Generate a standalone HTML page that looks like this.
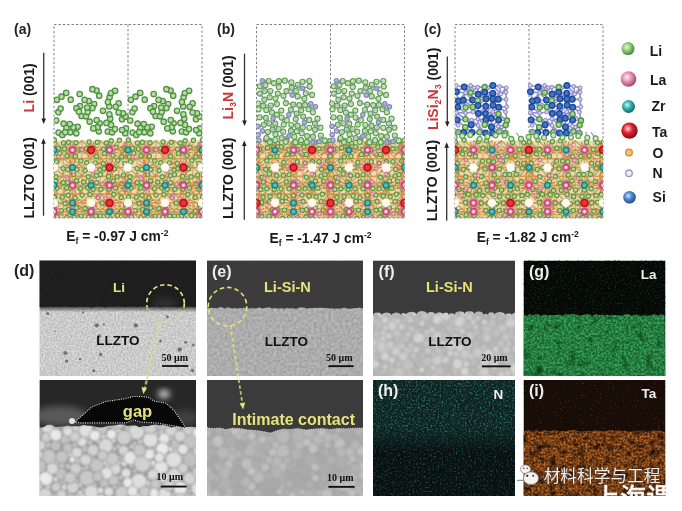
<!DOCTYPE html>
<html><head><meta charset="utf-8"><title>Figure</title>
<style>html,body{margin:0;padding:0;background:#fff;}body{width:682px;height:511px;overflow:hidden;}svg{display:block;}</style>
</head><body>
<svg width="682" height="511" viewBox="0 0 682 511">
<defs>
 <radialGradient id="gLi" cx="40%" cy="38%" r="65%"><stop offset="0" stop-color="#e4f7d8"/><stop offset="0.45" stop-color="#8fcf78"/><stop offset="1" stop-color="#3f7f35"/></radialGradient>
 <radialGradient id="gLa" cx="40%" cy="38%" r="65%"><stop offset="0" stop-color="#fff0f6"/><stop offset="0.45" stop-color="#e891b2"/><stop offset="1" stop-color="#9a4564"/></radialGradient>
 <radialGradient id="gZr" cx="40%" cy="38%" r="65%"><stop offset="0" stop-color="#c8fbfb"/><stop offset="0.45" stop-color="#35b3b0"/><stop offset="1" stop-color="#16605e"/></radialGradient>
 <radialGradient id="gTa" cx="40%" cy="38%" r="65%"><stop offset="0" stop-color="#ffd0d4"/><stop offset="0.45" stop-color="#e0202e"/><stop offset="1" stop-color="#7a0d15"/></radialGradient>
 <radialGradient id="gO" cx="40%" cy="38%" r="65%"><stop offset="0" stop-color="#ffe8b8"/><stop offset="0.5" stop-color="#e8a448"/><stop offset="1" stop-color="#9a6420"/></radialGradient>
 <radialGradient id="gN" cx="40%" cy="38%" r="65%"><stop offset="0" stop-color="#ffffff"/><stop offset="0.5" stop-color="#c4c0e0"/><stop offset="1" stop-color="#7a76a0"/></radialGradient>
 <radialGradient id="gSi" cx="40%" cy="38%" r="65%"><stop offset="0" stop-color="#d0e4ff"/><stop offset="0.45" stop-color="#4f86cc"/><stop offset="1" stop-color="#1f4a85"/></radialGradient>
</defs>

<text x="14" y="34" font-size="14" font-weight="bold" fill="#222" font-family="Liberation Sans, Arial, sans-serif">(a)</text>
<text x="217" y="34" font-size="14" font-weight="bold" fill="#222" font-family="Liberation Sans, Arial, sans-serif">(b)</text>
<text x="424" y="34" font-size="14" font-weight="bold" fill="#222" font-family="Liberation Sans, Arial, sans-serif">(c)</text>
<rect x="54" y="24.5" width="148" height="193" fill="none" stroke="#808080" stroke-width="1" stroke-dasharray="2.4 2"/>
<line x1="128" y1="24.5" x2="128" y2="217.5" stroke="#808080" stroke-width="1" stroke-dasharray="2.4 2"/>
<rect x="256.5" y="24.5" width="148" height="193" fill="none" stroke="#808080" stroke-width="1" stroke-dasharray="2.4 2"/>
<line x1="330.5" y1="24.5" x2="330.5" y2="217.5" stroke="#808080" stroke-width="1" stroke-dasharray="2.4 2"/>
<rect x="455" y="24.5" width="148" height="193" fill="none" stroke="#808080" stroke-width="1" stroke-dasharray="2.4 2"/>
<line x1="529" y1="24.5" x2="529" y2="217.5" stroke="#808080" stroke-width="1" stroke-dasharray="2.4 2"/>
<line x1="43.7" y1="52.7" x2="43.7" y2="120" stroke="#333" stroke-width="1.3"/>
<path d="M41.400000000000006,118.5 L46.0,118.5 L43.7,124 Z" fill="#222"/>
<line x1="43.5" y1="215.7" x2="43.5" y2="142.3" stroke="#333" stroke-width="1.3"/>
<path d="M41.2,143.8 L45.8,143.8 L43.5,138.3 Z" fill="#222"/>
<line x1="244.5" y1="53.7" x2="244.5" y2="122" stroke="#333" stroke-width="1.3"/>
<path d="M242.2,120.5 L246.8,120.5 L244.5,126 Z" fill="#222"/>
<line x1="244.3" y1="219.7" x2="244.3" y2="144.6" stroke="#333" stroke-width="1.3"/>
<path d="M242.0,146.1 L246.60000000000002,146.1 L244.3,140.6 Z" fill="#222"/>
<line x1="447.3" y1="56.6" x2="447.3" y2="122.9" stroke="#333" stroke-width="1.3"/>
<path d="M445.0,121.4 L449.6,121.4 L447.3,126.9 Z" fill="#222"/>
<line x1="446.7" y1="220.7" x2="446.7" y2="146.2" stroke="#333" stroke-width="1.3"/>
<path d="M444.4,147.7 L449.0,147.7 L446.7,142.2 Z" fill="#222"/>
<text transform="translate(34,87.9) rotate(-90)" text-anchor="middle" font-size="14" font-weight="bold" fill="#1a1a1a" font-family="Liberation Sans, Arial, sans-serif"><tspan fill="#c9383a">Li</tspan> (001)</text>
<text transform="translate(34,177.9) rotate(-90)" text-anchor="middle" font-size="14" font-weight="bold" fill="#1a1a1a" font-family="Liberation Sans, Arial, sans-serif">LLZTO (001)</text>
<text transform="translate(233,87.4) rotate(-90)" text-anchor="middle" font-size="14" font-weight="bold" fill="#1a1a1a" font-family="Liberation Sans, Arial, sans-serif"><tspan fill="#c9383a">Li<tspan font-size="9" dy="3">3</tspan><tspan dy="-3">N</tspan></tspan> (001)</text>
<text transform="translate(233,178.2) rotate(-90)" text-anchor="middle" font-size="14" font-weight="bold" fill="#1a1a1a" font-family="Liberation Sans, Arial, sans-serif">LLZTO (001)</text>
<text transform="translate(437.5,88.9) rotate(-90)" text-anchor="middle" font-size="14" font-weight="bold" fill="#1a1a1a" font-family="Liberation Sans, Arial, sans-serif"><tspan fill="#c9383a">LiSi<tspan font-size="9" dy="3">2</tspan><tspan dy="-3">N</tspan><tspan font-size="9" dy="3">3</tspan></tspan><tspan dy="-3"> (001)</tspan></text>
<text transform="translate(437,180.6) rotate(-90)" text-anchor="middle" font-size="14" font-weight="bold" fill="#1a1a1a" font-family="Liberation Sans, Arial, sans-serif">LLZTO (001)</text>
<text x="66.3" y="241" font-size="13.8" font-weight="bold" fill="#1a1a1a" font-family="Liberation Sans, Arial, sans-serif">E<tspan font-size="8.5" dy="3.2">f</tspan><tspan dy="-3.2"> = -0.97 J cm</tspan><tspan font-size="8.5" dy="-5.2">-2</tspan></text>
<text x="269.5" y="243.1" font-size="13.8" font-weight="bold" fill="#1a1a1a" font-family="Liberation Sans, Arial, sans-serif">E<tspan font-size="8.5" dy="3.2">f</tspan><tspan dy="-3.2"> = -1.47 J cm</tspan><tspan font-size="8.5" dy="-5.2">-2</tspan></text>
<text x="476.7" y="241.7" font-size="13.8" font-weight="bold" fill="#1a1a1a" font-family="Liberation Sans, Arial, sans-serif">E<tspan font-size="8.5" dy="3.2">f</tspan><tspan dy="-3.2"> = -1.82 J cm</tspan><tspan font-size="8.5" dy="-5.2">-2</tspan></text>
<filter id="soft" x="-5%" y="-5%" width="110%" height="110%"><feGaussianBlur stdDeviation="0.55"/></filter>
<defs>
<g id="cell0"><rect x="0" y="0" width="74" height="77" fill="#efd9b4"/>
<path d="M0,9.5H74M0,27.0H74M0,44.8H74M0,62.4H74M0,71.2H74M0,18.2H74M0,35.9H74M0,53.6H74" stroke="#d98f4e" stroke-width="1.6" fill="none" opacity="0.9"/>
<path d="M0.0,0V77M9.2,0V77M18.5,0V77M27.8,0V77M37.0,0V77M46.2,0V77M55.5,0V77M64.8,0V77M74.0,0V77" stroke="#dca062" stroke-width="1.4" fill="none" opacity="0.8"/>
<path d="M0.0,9.5L7.9,12.7M0.0,9.5L3.3,17.3M0.0,9.5L-3.2,17.4M0.0,9.5L-7.8,12.8M0.0,9.5L-7.9,6.3M0.0,9.5L-3.3,1.7M0.0,9.5L3.2,1.6M0.0,9.5L7.8,6.2M74.0,9.5L81.9,12.7M74.0,9.5L77.3,17.3M74.0,9.5L70.8,17.4M74.0,9.5L66.2,12.8M74.0,9.5L66.1,6.3M74.0,9.5L70.7,1.7M74.0,9.5L77.2,1.6M74.0,9.5L81.8,6.2M18.5,9.5L26.4,12.7M18.5,9.5L21.8,17.3M18.5,9.5L15.3,17.4M18.5,9.5L10.7,12.8M18.5,9.5L10.6,6.3M18.5,9.5L15.2,1.7M18.5,9.5L21.7,1.6M18.5,9.5L26.3,6.2M37.0,9.5L44.9,12.7M37.0,9.5L40.3,17.3M37.0,9.5L33.8,17.4M37.0,9.5L29.2,12.8M37.0,9.5L29.1,6.3M37.0,9.5L33.7,1.7M37.0,9.5L40.2,1.6M37.0,9.5L44.8,6.2M55.5,9.5L63.4,12.7M55.5,9.5L58.8,17.3M55.5,9.5L52.3,17.4M55.5,9.5L47.7,12.8M55.5,9.5L47.6,6.3M55.5,9.5L52.2,1.7M55.5,9.5L58.7,1.6M55.5,9.5L63.3,6.2M18.5,27.0L26.4,30.2M18.5,27.0L21.8,34.8M18.5,27.0L15.3,34.9M18.5,27.0L10.7,30.3M18.5,27.0L10.6,23.8M18.5,27.0L15.2,19.2M18.5,27.0L21.7,19.1M18.5,27.0L26.3,23.7M55.5,27.0L63.4,30.2M55.5,27.0L58.8,34.8M55.5,27.0L52.3,34.9M55.5,27.0L47.7,30.3M55.5,27.0L47.6,23.8M55.5,27.0L52.2,19.2M55.5,27.0L58.7,19.1M55.5,27.0L63.3,23.7M0.0,44.8L7.9,48.0M0.0,44.8L3.3,52.6M0.0,44.8L-3.2,52.7M0.0,44.8L-7.8,48.1M0.0,44.8L-7.9,41.6M0.0,44.8L-3.3,37.0M0.0,44.8L3.2,36.9M0.0,44.8L7.8,41.5M74.0,44.8L81.9,48.0M74.0,44.8L77.3,52.6M74.0,44.8L70.8,52.7M74.0,44.8L66.2,48.1M74.0,44.8L66.1,41.6M74.0,44.8L70.7,37.0M74.0,44.8L77.2,36.9M74.0,44.8L81.8,41.5M18.5,44.8L26.4,48.0M18.5,44.8L21.8,52.6M18.5,44.8L15.3,52.7M18.5,44.8L10.7,48.1M18.5,44.8L10.6,41.6M18.5,44.8L15.2,37.0M18.5,44.8L21.7,36.9M18.5,44.8L26.3,41.5M37.0,44.8L44.9,48.0M37.0,44.8L40.3,52.6M37.0,44.8L33.8,52.7M37.0,44.8L29.2,48.1M37.0,44.8L29.1,41.6M37.0,44.8L33.7,37.0M37.0,44.8L40.2,36.9M37.0,44.8L44.8,41.5M55.5,44.8L63.4,48.0M55.5,44.8L58.8,52.6M55.5,44.8L52.3,52.7M55.5,44.8L47.7,48.1M55.5,44.8L47.6,41.6M55.5,44.8L52.2,37.0M55.5,44.8L58.7,36.9M55.5,44.8L63.3,41.5M18.5,62.4L26.4,65.6M18.5,62.4L21.8,70.2M18.5,62.4L15.3,70.3M18.5,62.4L10.7,65.7M18.5,62.4L10.6,59.2M18.5,62.4L15.2,54.6M18.5,62.4L21.7,54.5M18.5,62.4L26.3,59.1M55.5,62.4L63.4,65.6M55.5,62.4L58.8,70.2M55.5,62.4L52.3,70.3M55.5,62.4L47.7,65.7M55.5,62.4L47.6,59.2M55.5,62.4L52.2,54.6M55.5,62.4L58.7,54.5M55.5,62.4L63.3,59.1M0.0,71.2L7.9,74.4M0.0,71.2L3.3,79.0M0.0,71.2L-3.2,79.1M0.0,71.2L-7.8,74.5M0.0,71.2L-7.9,68.0M0.0,71.2L-3.3,63.4M0.0,71.2L3.2,63.3M0.0,71.2L7.8,67.9M74.0,71.2L81.9,74.4M74.0,71.2L77.3,79.0M74.0,71.2L70.8,79.1M74.0,71.2L66.2,74.5M74.0,71.2L66.1,68.0M74.0,71.2L70.7,63.4M74.0,71.2L77.2,63.3M74.0,71.2L81.8,67.9M18.5,71.2L26.4,74.4M18.5,71.2L21.8,79.0M18.5,71.2L15.3,79.1M18.5,71.2L10.7,74.5M18.5,71.2L10.6,68.0M18.5,71.2L15.2,63.4M18.5,71.2L21.7,63.3M18.5,71.2L26.3,67.9M37.0,71.2L44.9,74.4M37.0,71.2L40.3,79.0M37.0,71.2L33.8,79.1M37.0,71.2L29.2,74.5M37.0,71.2L29.1,68.0M37.0,71.2L33.7,63.4M37.0,71.2L40.2,63.3M37.0,71.2L44.8,67.9M55.5,71.2L63.4,74.4M55.5,71.2L58.8,79.0M55.5,71.2L52.3,79.1M55.5,71.2L47.7,74.5M55.5,71.2L47.6,68.0M55.5,71.2L52.2,63.4M55.5,71.2L58.7,63.3M55.5,71.2L63.3,67.9" stroke="#cf7b3a" stroke-width="1.4" fill="none" opacity="0.9"/>
<path d="M18.5,9.5L24.5,9.5M18.5,9.5L22.7,13.7M18.5,9.5L18.5,15.5M18.5,9.5L14.3,13.7M18.5,9.5L12.5,9.5M18.5,9.5L14.3,5.3M18.5,9.5L18.5,3.5M18.5,9.5L22.7,5.3M37.0,9.5L43.0,9.5M37.0,9.5L41.2,13.7M37.0,9.5L37.0,15.5M37.0,9.5L32.8,13.7M37.0,9.5L31.0,9.5M37.0,9.5L32.8,5.3M37.0,9.5L37.0,3.5M37.0,9.5L41.2,5.3M55.5,9.5L61.5,9.5M55.5,9.5L59.7,13.7M55.5,9.5L55.5,15.5M55.5,9.5L51.3,13.7M55.5,9.5L49.5,9.5M55.5,9.5L51.3,5.3M55.5,9.5L55.5,3.5M55.5,9.5L59.7,5.3M55.5,27.0L61.5,27.0M55.5,27.0L59.7,31.2M55.5,27.0L55.5,33.0M55.5,27.0L51.3,31.2M55.5,27.0L49.5,27.0M55.5,27.0L51.3,22.8M55.5,27.0L55.5,21.0M55.5,27.0L59.7,22.8M18.5,44.8L24.5,44.8M18.5,44.8L22.7,49.0M18.5,44.8L18.5,50.8M18.5,44.8L14.3,49.0M18.5,44.8L12.5,44.8M18.5,44.8L14.3,40.6M18.5,44.8L18.5,38.8M18.5,44.8L22.7,40.6M55.5,44.8L61.5,44.8M55.5,44.8L59.7,49.0M55.5,44.8L55.5,50.8M55.5,44.8L51.3,49.0M55.5,44.8L49.5,44.8M55.5,44.8L51.3,40.6M55.5,44.8L55.5,38.8M55.5,44.8L59.7,40.6M55.5,62.4L61.5,62.4M55.5,62.4L59.7,66.6M55.5,62.4L55.5,68.4M55.5,62.4L51.3,66.6M55.5,62.4L49.5,62.4M55.5,62.4L51.3,58.2M55.5,62.4L55.5,56.4M55.5,62.4L59.7,58.2M0.0,71.2L6.0,71.2M0.0,71.2L4.2,75.4M0.0,71.2L0.0,77.2M0.0,71.2L-4.2,75.4M0.0,71.2L-6.0,71.2M0.0,71.2L-4.2,67.0M0.0,71.2L-0.0,65.2M0.0,71.2L4.2,67.0M74.0,71.2L80.0,71.2M74.0,71.2L78.2,75.4M74.0,71.2L74.0,77.2M74.0,71.2L69.8,75.4M74.0,71.2L68.0,71.2M74.0,71.2L69.8,67.0M74.0,71.2L74.0,65.2M74.0,71.2L78.2,67.0M37.0,71.2L43.0,71.2M37.0,71.2L41.2,75.4M37.0,71.2L37.0,77.2M37.0,71.2L32.8,75.4M37.0,71.2L31.0,71.2M37.0,71.2L32.8,67.0M37.0,71.2L37.0,65.2M37.0,71.2L41.2,67.0" stroke="#e07c98" stroke-width="1.6" fill="none" opacity="0.8"/>
<path d="M0.0,0.0L9.2,8.8M9.2,8.8L0.0,17.6M9.2,17.6L0.0,26.4M0.0,26.4L9.2,35.2M9.2,35.2L0.0,44.0M9.2,44.0L0.0,52.8M0.0,52.8L9.2,61.6M9.2,61.6L0.0,70.4M9.2,70.4L0.0,79.2M18.5,0.0L9.2,8.8M9.2,8.8L18.5,17.6M9.2,17.6L18.5,26.4M9.2,26.4L18.5,35.2M18.5,35.2L9.2,44.0M18.5,44.0L9.2,52.8M9.2,52.8L18.5,61.6M18.5,61.6L9.2,70.4M18.5,70.4L9.2,79.2M27.8,0.0L18.5,8.8M27.8,8.8L18.5,17.6M18.5,17.6L27.8,26.4M18.5,26.4L27.8,35.2M27.8,35.2L18.5,44.0M18.5,44.0L27.8,52.8M18.5,52.8L27.8,61.6M18.5,61.6L27.8,70.4M18.5,70.4L27.8,79.2M27.8,0.0L37.0,8.8M27.8,8.8L37.0,17.6M37.0,17.6L27.8,26.4M37.0,26.4L27.8,35.2M37.0,35.2L27.8,44.0M27.8,44.0L37.0,52.8M37.0,52.8L27.8,61.6M27.8,61.6L37.0,70.4M27.8,70.4L37.0,79.2M46.2,0.0L37.0,8.8M46.2,8.8L37.0,17.6M46.2,17.6L37.0,26.4M46.2,26.4L37.0,35.2M37.0,35.2L46.2,44.0M37.0,44.0L46.2,52.8M37.0,52.8L46.2,61.6M37.0,61.6L46.2,70.4M46.2,70.4L37.0,79.2M46.2,0.0L55.5,8.8M55.5,8.8L46.2,17.6M46.2,17.6L55.5,26.4M55.5,26.4L46.2,35.2M55.5,35.2L46.2,44.0M46.2,44.0L55.5,52.8M46.2,52.8L55.5,61.6M55.5,61.6L46.2,70.4M46.2,70.4L55.5,79.2M64.8,0.0L55.5,8.8M55.5,8.8L64.8,17.6M55.5,17.6L64.8,26.4M64.8,26.4L55.5,35.2M64.8,35.2L55.5,44.0M55.5,44.0L64.8,52.8M55.5,52.8L64.8,61.6M55.5,61.6L64.8,70.4M64.8,70.4L55.5,79.2M74.0,0.0L64.8,8.8M64.8,8.8L74.0,17.6M64.8,17.6L74.0,26.4M64.8,26.4L74.0,35.2M64.8,35.2L74.0,44.0M74.0,44.0L64.8,52.8M64.8,52.8L74.0,61.6M74.0,61.6L64.8,70.4M64.8,70.4L74.0,79.2" stroke="#9aa042" stroke-width="1.3" fill="none" opacity="0.75"/>
<circle cx="14.7" cy="55.4" r="1.3" fill="#e2873a"/>
<circle cx="10.4" cy="49.0" r="1.3" fill="#e2873a"/>
<circle cx="9.4" cy="32.7" r="1.3" fill="#e2873a"/>
<circle cx="16.3" cy="21.7" r="1.3" fill="#e2873a"/>
<circle cx="70.9" cy="60.6" r="1.3" fill="#e2873a"/>
<circle cx="22.9" cy="66.6" r="1.3" fill="#e2873a"/>
<circle cx="16.2" cy="30.8" r="1.3" fill="#e2873a"/>
<circle cx="62.5" cy="48.9" r="1.3" fill="#e2873a"/>
<circle cx="8.2" cy="74.2" r="1.3" fill="#e2873a"/>
<circle cx="16.4" cy="20.9" r="1.3" fill="#e2873a"/>
<circle cx="56.6" cy="26.0" r="1.3" fill="#e2873a"/>
<circle cx="22.3" cy="7.4" r="1.3" fill="#e2873a"/>
<circle cx="7.5" cy="44.5" r="1.3" fill="#e2873a"/>
<circle cx="18.5" cy="45.9" r="1.3" fill="#e2873a"/>
<circle cx="27.8" cy="35.1" r="1.3" fill="#e2873a"/>
<circle cx="70.1" cy="37.3" r="1.3" fill="#e2873a"/>
<circle cx="42.4" cy="65.3" r="1.3" fill="#e2873a"/>
<circle cx="14.2" cy="13.3" r="1.3" fill="#e2873a"/>
<circle cx="66.4" cy="61.7" r="1.3" fill="#e2873a"/>
<circle cx="19.0" cy="15.9" r="1.3" fill="#e2873a"/>
<circle cx="54.2" cy="70.6" r="1.3" fill="#e2873a"/>
<circle cx="15.2" cy="71.4" r="1.3" fill="#e2873a"/>
<circle cx="64.5" cy="46.1" r="1.3" fill="#e2873a"/>
<circle cx="31.3" cy="9.6" r="1.3" fill="#e2873a"/>
<circle cx="3.8" cy="72.3" r="1.3" fill="#e2873a"/>
<circle cx="18.2" cy="53.4" r="1.3" fill="#e2873a"/>
<circle cx="19.5" cy="62.1" r="1.3" fill="#e2873a"/>
<circle cx="43.9" cy="23.4" r="1.3" fill="#e2873a"/>
<circle cx="13.6" cy="54.6" r="1.3" fill="#e2873a"/>
<circle cx="6.0" cy="18.7" r="1.3" fill="#e2873a"/>
<circle cx="41.3" cy="64.2" r="1.3" fill="#e2873a"/>
<circle cx="45.2" cy="22.5" r="1.3" fill="#e2873a"/>
<circle cx="67.0" cy="16.9" r="1.3" fill="#e2873a"/>
<circle cx="2.2" cy="21.7" r="1.3" fill="#e2873a"/>
<circle cx="33.1" cy="6.4" r="1.3" fill="#e2873a"/>
<circle cx="13.7" cy="28.9" r="1.3" fill="#e2873a"/>
<circle cx="42.2" cy="11.6" r="1.3" fill="#e2873a"/>
<circle cx="27.1" cy="67.0" r="1.3" fill="#e2873a"/>
<circle cx="71.6" cy="50.0" r="1.3" fill="#e2873a"/>
<circle cx="50.8" cy="44.7" r="1.3" fill="#e2873a"/>
<circle cx="11.1" cy="4.6" r="1.3" fill="#e2873a"/>
<circle cx="2.3" cy="68.4" r="1.3" fill="#e2873a"/>
<circle cx="51.5" cy="72.3" r="1.3" fill="#e2873a"/>
<circle cx="2.5" cy="48.4" r="1.3" fill="#e2873a"/>
<circle cx="35.7" cy="55.3" r="1.3" fill="#e2873a"/>
<circle cx="24.0" cy="75.0" r="1.3" fill="#e2873a"/>
<circle cx="6.4" cy="41.9" r="1.3" fill="#e2873a"/>
<circle cx="54.1" cy="67.7" r="1.3" fill="#e2873a"/>
<circle cx="54.1" cy="53.4" r="1.3" fill="#e2873a"/>
<circle cx="58.1" cy="68.8" r="1.3" fill="#e2873a"/>
<circle cx="26.3" cy="52.0" r="1.3" fill="#e2873a"/>
<circle cx="65.9" cy="65.6" r="1.3" fill="#e2873a"/>
<circle cx="31.0" cy="59.7" r="1.3" fill="#e2873a"/>
<circle cx="63.2" cy="43.8" r="1.3" fill="#e2873a"/>
<circle cx="46.0" cy="29.9" r="1.3" fill="#e2873a"/>
<circle cx="0.4" cy="-0.5" r="2.15" fill="#bcd89c" stroke="#62963f" stroke-width="1.15"/>
<circle cx="9.4" cy="2.4" r="2.15" fill="#bcd89c" stroke="#62963f" stroke-width="1.15"/>
<circle cx="14.4" cy="1.8" r="2.15" fill="#bcd89c" stroke="#62963f" stroke-width="1.15"/>
<circle cx="22.0" cy="2.2" r="2.15" fill="#bcd89c" stroke="#62963f" stroke-width="1.15"/>
<circle cx="35.1" cy="1.4" r="2.15" fill="#bcd89c" stroke="#62963f" stroke-width="1.15"/>
<circle cx="43.3" cy="1.7" r="2.15" fill="#bcd89c" stroke="#62963f" stroke-width="1.15"/>
<circle cx="52.3" cy="2.5" r="2.15" fill="#bcd89c" stroke="#62963f" stroke-width="1.15"/>
<circle cx="57.2" cy="0.3" r="2.15" fill="#bcd89c" stroke="#62963f" stroke-width="1.15"/>
<circle cx="65.4" cy="-0.2" r="2.15" fill="#bcd89c" stroke="#62963f" stroke-width="1.15"/>
<circle cx="4.3" cy="7.6" r="2.15" fill="#bcd89c" stroke="#62963f" stroke-width="1.15"/>
<circle cx="10.4" cy="8.4" r="2.15" fill="#bcd89c" stroke="#62963f" stroke-width="1.15"/>
<circle cx="27.1" cy="9.3" r="2.15" fill="#bcd89c" stroke="#62963f" stroke-width="1.15"/>
<circle cx="32.8" cy="8.1" r="2.15" fill="#bcd89c" stroke="#62963f" stroke-width="1.15"/>
<circle cx="39.2" cy="7.8" r="2.15" fill="#bcd89c" stroke="#62963f" stroke-width="1.15"/>
<circle cx="49.5" cy="8.6" r="2.15" fill="#bcd89c" stroke="#62963f" stroke-width="1.15"/>
<circle cx="54.6" cy="6.6" r="2.15" fill="#bcd89c" stroke="#62963f" stroke-width="1.15"/>
<circle cx="62.0" cy="6.8" r="2.15" fill="#bcd89c" stroke="#62963f" stroke-width="1.15"/>
<circle cx="70.8" cy="7.8" r="2.15" fill="#bcd89c" stroke="#62963f" stroke-width="1.15"/>
<circle cx="1.4" cy="16.4" r="2.15" fill="#bcd89c" stroke="#62963f" stroke-width="1.15"/>
<circle cx="5.7" cy="12.9" r="2.15" fill="#bcd89c" stroke="#62963f" stroke-width="1.15"/>
<circle cx="13.0" cy="15.4" r="2.15" fill="#bcd89c" stroke="#62963f" stroke-width="1.15"/>
<circle cx="21.4" cy="15.7" r="2.15" fill="#bcd89c" stroke="#62963f" stroke-width="1.15"/>
<circle cx="42.5" cy="15.8" r="2.15" fill="#bcd89c" stroke="#62963f" stroke-width="1.15"/>
<circle cx="50.4" cy="13.0" r="2.15" fill="#bcd89c" stroke="#62963f" stroke-width="1.15"/>
<circle cx="59.0" cy="15.1" r="2.15" fill="#bcd89c" stroke="#62963f" stroke-width="1.15"/>
<circle cx="67.8" cy="16.3" r="2.15" fill="#bcd89c" stroke="#62963f" stroke-width="1.15"/>
<circle cx="2.5" cy="21.4" r="2.15" fill="#bcd89c" stroke="#62963f" stroke-width="1.15"/>
<circle cx="26.8" cy="20.3" r="2.15" fill="#bcd89c" stroke="#62963f" stroke-width="1.15"/>
<circle cx="32.7" cy="22.2" r="2.15" fill="#bcd89c" stroke="#62963f" stroke-width="1.15"/>
<circle cx="41.2" cy="22.4" r="2.15" fill="#bcd89c" stroke="#62963f" stroke-width="1.15"/>
<circle cx="49.3" cy="22.9" r="2.15" fill="#bcd89c" stroke="#62963f" stroke-width="1.15"/>
<circle cx="63.8" cy="20.1" r="2.15" fill="#bcd89c" stroke="#62963f" stroke-width="1.15"/>
<circle cx="70.8" cy="22.9" r="2.15" fill="#bcd89c" stroke="#62963f" stroke-width="1.15"/>
<circle cx="0.3" cy="29.6" r="2.15" fill="#bcd89c" stroke="#62963f" stroke-width="1.15"/>
<circle cx="9.2" cy="28.1" r="2.15" fill="#bcd89c" stroke="#62963f" stroke-width="1.15"/>
<circle cx="13.6" cy="29.1" r="2.15" fill="#bcd89c" stroke="#62963f" stroke-width="1.15"/>
<circle cx="22.8" cy="29.0" r="2.15" fill="#bcd89c" stroke="#62963f" stroke-width="1.15"/>
<circle cx="31.2" cy="30.0" r="2.15" fill="#bcd89c" stroke="#62963f" stroke-width="1.15"/>
<circle cx="37.1" cy="29.3" r="2.15" fill="#bcd89c" stroke="#62963f" stroke-width="1.15"/>
<circle cx="46.0" cy="29.5" r="2.15" fill="#bcd89c" stroke="#62963f" stroke-width="1.15"/>
<circle cx="50.1" cy="28.0" r="2.15" fill="#bcd89c" stroke="#62963f" stroke-width="1.15"/>
<circle cx="60.3" cy="28.2" r="2.15" fill="#bcd89c" stroke="#62963f" stroke-width="1.15"/>
<circle cx="2.0" cy="36.2" r="2.15" fill="#bcd89c" stroke="#62963f" stroke-width="1.15"/>
<circle cx="19.7" cy="33.8" r="2.15" fill="#bcd89c" stroke="#62963f" stroke-width="1.15"/>
<circle cx="34.2" cy="36.3" r="2.15" fill="#bcd89c" stroke="#62963f" stroke-width="1.15"/>
<circle cx="42.5" cy="35.0" r="2.15" fill="#bcd89c" stroke="#62963f" stroke-width="1.15"/>
<circle cx="46.4" cy="34.1" r="2.15" fill="#bcd89c" stroke="#62963f" stroke-width="1.15"/>
<circle cx="54.7" cy="35.9" r="2.15" fill="#bcd89c" stroke="#62963f" stroke-width="1.15"/>
<circle cx="63.0" cy="36.3" r="2.15" fill="#bcd89c" stroke="#62963f" stroke-width="1.15"/>
<circle cx="69.5" cy="34.6" r="2.15" fill="#bcd89c" stroke="#62963f" stroke-width="1.15"/>
<circle cx="1.6" cy="40.8" r="2.15" fill="#bcd89c" stroke="#62963f" stroke-width="1.15"/>
<circle cx="9.3" cy="42.0" r="2.15" fill="#bcd89c" stroke="#62963f" stroke-width="1.15"/>
<circle cx="13.6" cy="42.0" r="2.15" fill="#bcd89c" stroke="#62963f" stroke-width="1.15"/>
<circle cx="22.6" cy="40.2" r="2.15" fill="#bcd89c" stroke="#62963f" stroke-width="1.15"/>
<circle cx="29.7" cy="41.5" r="2.15" fill="#bcd89c" stroke="#62963f" stroke-width="1.15"/>
<circle cx="37.3" cy="41.9" r="2.15" fill="#bcd89c" stroke="#62963f" stroke-width="1.15"/>
<circle cx="42.7" cy="42.0" r="2.15" fill="#bcd89c" stroke="#62963f" stroke-width="1.15"/>
<circle cx="53.6" cy="43.4" r="2.15" fill="#bcd89c" stroke="#62963f" stroke-width="1.15"/>
<circle cx="59.1" cy="40.5" r="2.15" fill="#bcd89c" stroke="#62963f" stroke-width="1.15"/>
<circle cx="67.9" cy="43.3" r="2.15" fill="#bcd89c" stroke="#62963f" stroke-width="1.15"/>
<circle cx="3.0" cy="47.6" r="2.15" fill="#bcd89c" stroke="#62963f" stroke-width="1.15"/>
<circle cx="12.8" cy="47.4" r="2.15" fill="#bcd89c" stroke="#62963f" stroke-width="1.15"/>
<circle cx="16.6" cy="47.6" r="2.15" fill="#bcd89c" stroke="#62963f" stroke-width="1.15"/>
<circle cx="26.6" cy="48.1" r="2.15" fill="#bcd89c" stroke="#62963f" stroke-width="1.15"/>
<circle cx="33.8" cy="47.3" r="2.15" fill="#bcd89c" stroke="#62963f" stroke-width="1.15"/>
<circle cx="39.2" cy="48.7" r="2.15" fill="#bcd89c" stroke="#62963f" stroke-width="1.15"/>
<circle cx="46.9" cy="48.8" r="2.15" fill="#bcd89c" stroke="#62963f" stroke-width="1.15"/>
<circle cx="55.0" cy="48.4" r="2.15" fill="#bcd89c" stroke="#62963f" stroke-width="1.15"/>
<circle cx="61.5" cy="47.6" r="2.15" fill="#bcd89c" stroke="#62963f" stroke-width="1.15"/>
<circle cx="70.9" cy="48.8" r="2.15" fill="#bcd89c" stroke="#62963f" stroke-width="1.15"/>
<circle cx="0.4" cy="56.8" r="2.15" fill="#bcd89c" stroke="#62963f" stroke-width="1.15"/>
<circle cx="8.4" cy="56.6" r="2.15" fill="#bcd89c" stroke="#62963f" stroke-width="1.15"/>
<circle cx="14.1" cy="54.8" r="2.15" fill="#bcd89c" stroke="#62963f" stroke-width="1.15"/>
<circle cx="21.1" cy="57.3" r="2.15" fill="#bcd89c" stroke="#62963f" stroke-width="1.15"/>
<circle cx="28.1" cy="54.6" r="2.15" fill="#bcd89c" stroke="#62963f" stroke-width="1.15"/>
<circle cx="36.0" cy="54.1" r="2.15" fill="#bcd89c" stroke="#62963f" stroke-width="1.15"/>
<circle cx="44.1" cy="56.6" r="2.15" fill="#bcd89c" stroke="#62963f" stroke-width="1.15"/>
<circle cx="59.9" cy="53.8" r="2.15" fill="#bcd89c" stroke="#62963f" stroke-width="1.15"/>
<circle cx="67.3" cy="57.0" r="2.15" fill="#bcd89c" stroke="#62963f" stroke-width="1.15"/>
<circle cx="2.2" cy="62.3" r="2.15" fill="#bcd89c" stroke="#62963f" stroke-width="1.15"/>
<circle cx="11.1" cy="63.0" r="2.15" fill="#bcd89c" stroke="#62963f" stroke-width="1.15"/>
<circle cx="48.2" cy="62.6" r="2.15" fill="#bcd89c" stroke="#62963f" stroke-width="1.15"/>
<circle cx="71.7" cy="64.1" r="2.15" fill="#bcd89c" stroke="#62963f" stroke-width="1.15"/>
<circle cx="-1.6" cy="67.6" r="2.15" fill="#bcd89c" stroke="#62963f" stroke-width="1.15"/>
<circle cx="7.2" cy="70.1" r="2.15" fill="#bcd89c" stroke="#62963f" stroke-width="1.15"/>
<circle cx="14.7" cy="69.2" r="2.15" fill="#bcd89c" stroke="#62963f" stroke-width="1.15"/>
<circle cx="22.6" cy="67.4" r="2.15" fill="#bcd89c" stroke="#62963f" stroke-width="1.15"/>
<circle cx="31.0" cy="68.0" r="2.15" fill="#bcd89c" stroke="#62963f" stroke-width="1.15"/>
<circle cx="38.0" cy="68.8" r="2.15" fill="#bcd89c" stroke="#62963f" stroke-width="1.15"/>
<circle cx="57.3" cy="70.6" r="2.15" fill="#bcd89c" stroke="#62963f" stroke-width="1.15"/>
<circle cx="67.4" cy="70.4" r="2.15" fill="#bcd89c" stroke="#62963f" stroke-width="1.15"/>
<circle cx="3.3" cy="76.3" r="2.15" fill="#bcd89c" stroke="#62963f" stroke-width="1.15"/>
<circle cx="13.0" cy="77.1" r="2.15" fill="#bcd89c" stroke="#62963f" stroke-width="1.15"/>
<circle cx="20.1" cy="76.8" r="2.15" fill="#bcd89c" stroke="#62963f" stroke-width="1.15"/>
<circle cx="27.2" cy="75.6" r="2.15" fill="#bcd89c" stroke="#62963f" stroke-width="1.15"/>
<circle cx="34.8" cy="76.7" r="2.15" fill="#bcd89c" stroke="#62963f" stroke-width="1.15"/>
<circle cx="41.8" cy="75.6" r="2.15" fill="#bcd89c" stroke="#62963f" stroke-width="1.15"/>
<circle cx="46.4" cy="75.4" r="2.15" fill="#bcd89c" stroke="#62963f" stroke-width="1.15"/>
<circle cx="53.5" cy="75.4" r="2.15" fill="#bcd89c" stroke="#62963f" stroke-width="1.15"/>
<circle cx="63.4" cy="75.0" r="2.15" fill="#bcd89c" stroke="#62963f" stroke-width="1.15"/>
<circle cx="71.0" cy="75.4" r="2.15" fill="#bcd89c" stroke="#62963f" stroke-width="1.15"/>
<circle cx="48.5" cy="43.6" r="1.8" fill="#f0b8c6" stroke="#d06e88" stroke-width="1.0"/>
<circle cx="39.4" cy="30.4" r="1.8" fill="#f0b8c6" stroke="#d06e88" stroke-width="1.0"/>
<circle cx="73.0" cy="48.9" r="1.8" fill="#f0b8c6" stroke="#d06e88" stroke-width="1.0"/>
<circle cx="51.5" cy="57.6" r="1.8" fill="#f0b8c6" stroke="#d06e88" stroke-width="1.0"/>
<circle cx="71.6" cy="3.7" r="1.8" fill="#f0b8c6" stroke="#d06e88" stroke-width="1.0"/>
<circle cx="45.3" cy="55.9" r="1.8" fill="#f0b8c6" stroke="#d06e88" stroke-width="1.0"/>
<circle cx="19.5" cy="31.3" r="1.8" fill="#f0b8c6" stroke="#d06e88" stroke-width="1.0"/>
<circle cx="4.6" cy="16.3" r="1.8" fill="#f0b8c6" stroke="#d06e88" stroke-width="1.0"/>
<circle cx="28.0" cy="9.2" r="1.8" fill="#f0b8c6" stroke="#d06e88" stroke-width="1.0"/>
<circle cx="19.1" cy="68.1" r="1.8" fill="#f0b8c6" stroke="#d06e88" stroke-width="1.0"/>
<circle cx="40.6" cy="39.1" r="1.8" fill="#f0b8c6" stroke="#d06e88" stroke-width="1.0"/>
<circle cx="70.6" cy="43.5" r="1.8" fill="#f0b8c6" stroke="#d06e88" stroke-width="1.0"/>
<circle cx="72.6" cy="48.6" r="1.8" fill="#f0b8c6" stroke="#d06e88" stroke-width="1.0"/>
<circle cx="59.3" cy="7.6" r="1.8" fill="#f0b8c6" stroke="#d06e88" stroke-width="1.0"/>
<circle cx="44.0" cy="57.4" r="1.8" fill="#f0b8c6" stroke="#d06e88" stroke-width="1.0"/>
<circle cx="4.2" cy="69.9" r="1.8" fill="#f0b8c6" stroke="#d06e88" stroke-width="1.0"/>
<circle cx="12.5" cy="36.4" r="1.8" fill="#f0b8c6" stroke="#d06e88" stroke-width="1.0"/>
<circle cx="13.2" cy="38.2" r="1.8" fill="#f0b8c6" stroke="#d06e88" stroke-width="1.0"/>
<circle cx="0.0" cy="9.5" r="2.8" fill="#56bcb4" stroke="#1b857e" stroke-width="1.5"/>
<circle cx="74.0" cy="9.5" r="2.8" fill="#56bcb4" stroke="#1b857e" stroke-width="1.5"/>
<circle cx="18.5" cy="9.5" r="2.9" fill="#f0a2c2" stroke="#c44a7c" stroke-width="1.6"/>
<circle cx="18.5" cy="9.5" r="1.1" fill="#fde8f0"/>
<circle cx="37.0" cy="9.5" r="3.4" fill="#e8363e" stroke="#c41018" stroke-width="1.7"/>
<circle cx="55.5" cy="9.5" r="2.9" fill="#f0a2c2" stroke="#c44a7c" stroke-width="1.6"/>
<circle cx="55.5" cy="9.5" r="1.1" fill="#fde8f0"/>
<circle cx="0.0" cy="27.0" r="4.2" fill="#fffaf2"/>
<circle cx="74.0" cy="27.0" r="4.2" fill="#fffaf2"/>
<circle cx="18.5" cy="27.0" r="2.8" fill="#56bcb4" stroke="#1b857e" stroke-width="1.5"/>
<circle cx="37.0" cy="27.0" r="4.2" fill="#fffaf2"/>
<circle cx="55.5" cy="27.0" r="3.4" fill="#e8363e" stroke="#c41018" stroke-width="1.7"/>
<circle cx="0.0" cy="44.8" r="2.8" fill="#56bcb4" stroke="#1b857e" stroke-width="1.5"/>
<circle cx="74.0" cy="44.8" r="2.8" fill="#56bcb4" stroke="#1b857e" stroke-width="1.5"/>
<circle cx="18.5" cy="44.8" r="2.9" fill="#f0a2c2" stroke="#c44a7c" stroke-width="1.6"/>
<circle cx="18.5" cy="44.8" r="1.1" fill="#fde8f0"/>
<circle cx="37.0" cy="44.8" r="2.8" fill="#56bcb4" stroke="#1b857e" stroke-width="1.5"/>
<circle cx="55.5" cy="44.8" r="2.9" fill="#f0a2c2" stroke="#c44a7c" stroke-width="1.6"/>
<circle cx="55.5" cy="44.8" r="1.1" fill="#fde8f0"/>
<circle cx="0.0" cy="62.4" r="4.2" fill="#fffaf2"/>
<circle cx="74.0" cy="62.4" r="4.2" fill="#fffaf2"/>
<circle cx="18.5" cy="62.4" r="2.8" fill="#56bcb4" stroke="#1b857e" stroke-width="1.5"/>
<circle cx="37.0" cy="62.4" r="4.2" fill="#fffaf2"/>
<circle cx="55.5" cy="62.4" r="3.4" fill="#e8363e" stroke="#c41018" stroke-width="1.7"/>
<circle cx="0.0" cy="71.2" r="2.9" fill="#f0a2c2" stroke="#c44a7c" stroke-width="1.6"/>
<circle cx="0.0" cy="71.2" r="1.1" fill="#fde8f0"/>
<circle cx="74.0" cy="71.2" r="2.9" fill="#f0a2c2" stroke="#c44a7c" stroke-width="1.6"/>
<circle cx="74.0" cy="71.2" r="1.1" fill="#fde8f0"/>
<circle cx="18.5" cy="71.2" r="2.8" fill="#56bcb4" stroke="#1b857e" stroke-width="1.5"/>
<circle cx="37.0" cy="71.2" r="2.9" fill="#f0a2c2" stroke="#c44a7c" stroke-width="1.6"/>
<circle cx="37.0" cy="71.2" r="1.1" fill="#fde8f0"/>
<circle cx="55.5" cy="71.2" r="2.8" fill="#56bcb4" stroke="#1b857e" stroke-width="1.5"/></g>
<g id="cell1"><rect x="0" y="0" width="74" height="77" fill="#efd9b4"/>
<path d="M0,9.5H74M0,27.0H74M0,44.8H74M0,62.4H74M0,71.2H74M0,18.2H74M0,35.9H74M0,53.6H74" stroke="#d98f4e" stroke-width="1.6" fill="none" opacity="0.9"/>
<path d="M0.0,0V77M9.2,0V77M18.5,0V77M27.8,0V77M37.0,0V77M46.2,0V77M55.5,0V77M64.8,0V77M74.0,0V77" stroke="#dca062" stroke-width="1.4" fill="none" opacity="0.8"/>
<path d="M0.0,9.5L7.9,12.7M0.0,9.5L3.3,17.3M0.0,9.5L-3.2,17.4M0.0,9.5L-7.8,12.8M0.0,9.5L-7.9,6.3M0.0,9.5L-3.3,1.7M0.0,9.5L3.2,1.6M0.0,9.5L7.8,6.2M74.0,9.5L81.9,12.7M74.0,9.5L77.3,17.3M74.0,9.5L70.8,17.4M74.0,9.5L66.2,12.8M74.0,9.5L66.1,6.3M74.0,9.5L70.7,1.7M74.0,9.5L77.2,1.6M74.0,9.5L81.8,6.2M18.5,9.5L26.4,12.7M18.5,9.5L21.8,17.3M18.5,9.5L15.3,17.4M18.5,9.5L10.7,12.8M18.5,9.5L10.6,6.3M18.5,9.5L15.2,1.7M18.5,9.5L21.7,1.6M18.5,9.5L26.3,6.2M37.0,9.5L44.9,12.7M37.0,9.5L40.3,17.3M37.0,9.5L33.8,17.4M37.0,9.5L29.2,12.8M37.0,9.5L29.1,6.3M37.0,9.5L33.7,1.7M37.0,9.5L40.2,1.6M37.0,9.5L44.8,6.2M55.5,9.5L63.4,12.7M55.5,9.5L58.8,17.3M55.5,9.5L52.3,17.4M55.5,9.5L47.7,12.8M55.5,9.5L47.6,6.3M55.5,9.5L52.2,1.7M55.5,9.5L58.7,1.6M55.5,9.5L63.3,6.2M0.0,27.0L7.9,30.2M0.0,27.0L3.3,34.8M0.0,27.0L-3.2,34.9M0.0,27.0L-7.8,30.3M0.0,27.0L-7.9,23.8M0.0,27.0L-3.3,19.2M0.0,27.0L3.2,19.1M0.0,27.0L7.8,23.7M74.0,27.0L81.9,30.2M74.0,27.0L77.3,34.8M74.0,27.0L70.8,34.9M74.0,27.0L66.2,30.3M74.0,27.0L66.1,23.8M74.0,27.0L70.7,19.2M74.0,27.0L77.2,19.1M74.0,27.0L81.8,23.7M37.0,27.0L44.9,30.2M37.0,27.0L40.3,34.8M37.0,27.0L33.8,34.9M37.0,27.0L29.2,30.3M37.0,27.0L29.1,23.8M37.0,27.0L33.7,19.2M37.0,27.0L40.2,19.1M37.0,27.0L44.8,23.7M0.0,44.8L7.9,48.0M0.0,44.8L3.3,52.6M0.0,44.8L-3.2,52.7M0.0,44.8L-7.8,48.1M0.0,44.8L-7.9,41.6M0.0,44.8L-3.3,37.0M0.0,44.8L3.2,36.9M0.0,44.8L7.8,41.5M74.0,44.8L81.9,48.0M74.0,44.8L77.3,52.6M74.0,44.8L70.8,52.7M74.0,44.8L66.2,48.1M74.0,44.8L66.1,41.6M74.0,44.8L70.7,37.0M74.0,44.8L77.2,36.9M74.0,44.8L81.8,41.5M18.5,44.8L26.4,48.0M18.5,44.8L21.8,52.6M18.5,44.8L15.3,52.7M18.5,44.8L10.7,48.1M18.5,44.8L10.6,41.6M18.5,44.8L15.2,37.0M18.5,44.8L21.7,36.9M18.5,44.8L26.3,41.5M37.0,44.8L44.9,48.0M37.0,44.8L40.3,52.6M37.0,44.8L33.8,52.7M37.0,44.8L29.2,48.1M37.0,44.8L29.1,41.6M37.0,44.8L33.7,37.0M37.0,44.8L40.2,36.9M37.0,44.8L44.8,41.5M55.5,44.8L63.4,48.0M55.5,44.8L58.8,52.6M55.5,44.8L52.3,52.7M55.5,44.8L47.7,48.1M55.5,44.8L47.6,41.6M55.5,44.8L52.2,37.0M55.5,44.8L58.7,36.9M55.5,44.8L63.3,41.5M0.0,62.4L7.9,65.6M0.0,62.4L3.3,70.2M0.0,62.4L-3.2,70.3M0.0,62.4L-7.8,65.7M0.0,62.4L-7.9,59.2M0.0,62.4L-3.3,54.6M0.0,62.4L3.2,54.5M0.0,62.4L7.8,59.1M74.0,62.4L81.9,65.6M74.0,62.4L77.3,70.2M74.0,62.4L70.8,70.3M74.0,62.4L66.2,65.7M74.0,62.4L66.1,59.2M74.0,62.4L70.7,54.6M74.0,62.4L77.2,54.5M74.0,62.4L81.8,59.1M37.0,62.4L44.9,65.6M37.0,62.4L40.3,70.2M37.0,62.4L33.8,70.3M37.0,62.4L29.2,65.7M37.0,62.4L29.1,59.2M37.0,62.4L33.7,54.6M37.0,62.4L40.2,54.5M37.0,62.4L44.8,59.1M0.0,71.2L7.9,74.4M0.0,71.2L3.3,79.0M0.0,71.2L-3.2,79.1M0.0,71.2L-7.8,74.5M0.0,71.2L-7.9,68.0M0.0,71.2L-3.3,63.4M0.0,71.2L3.2,63.3M0.0,71.2L7.8,67.9M74.0,71.2L81.9,74.4M74.0,71.2L77.3,79.0M74.0,71.2L70.8,79.1M74.0,71.2L66.2,74.5M74.0,71.2L66.1,68.0M74.0,71.2L70.7,63.4M74.0,71.2L77.2,63.3M74.0,71.2L81.8,67.9M18.5,71.2L26.4,74.4M18.5,71.2L21.8,79.0M18.5,71.2L15.3,79.1M18.5,71.2L10.7,74.5M18.5,71.2L10.6,68.0M18.5,71.2L15.2,63.4M18.5,71.2L21.7,63.3M18.5,71.2L26.3,67.9M37.0,71.2L44.9,74.4M37.0,71.2L40.3,79.0M37.0,71.2L33.8,79.1M37.0,71.2L29.2,74.5M37.0,71.2L29.1,68.0M37.0,71.2L33.7,63.4M37.0,71.2L40.2,63.3M37.0,71.2L44.8,67.9M55.5,71.2L63.4,74.4M55.5,71.2L58.8,79.0M55.5,71.2L52.3,79.1M55.5,71.2L47.7,74.5M55.5,71.2L47.6,68.0M55.5,71.2L52.2,63.4M55.5,71.2L58.7,63.3M55.5,71.2L63.3,67.9" stroke="#cf7b3a" stroke-width="1.4" fill="none" opacity="0.9"/>
<path d="M0.0,9.5L6.0,9.5M0.0,9.5L4.2,13.7M0.0,9.5L0.0,15.5M0.0,9.5L-4.2,13.7M0.0,9.5L-6.0,9.5M0.0,9.5L-4.2,5.3M0.0,9.5L-0.0,3.5M0.0,9.5L4.2,5.3M74.0,9.5L80.0,9.5M74.0,9.5L78.2,13.7M74.0,9.5L74.0,15.5M74.0,9.5L69.8,13.7M74.0,9.5L68.0,9.5M74.0,9.5L69.8,5.3M74.0,9.5L74.0,3.5M74.0,9.5L78.2,5.3M37.0,9.5L43.0,9.5M37.0,9.5L41.2,13.7M37.0,9.5L37.0,15.5M37.0,9.5L32.8,13.7M37.0,9.5L31.0,9.5M37.0,9.5L32.8,5.3M37.0,9.5L37.0,3.5M37.0,9.5L41.2,5.3M55.5,9.5L61.5,9.5M55.5,9.5L59.7,13.7M55.5,9.5L55.5,15.5M55.5,9.5L51.3,13.7M55.5,9.5L49.5,9.5M55.5,9.5L51.3,5.3M55.5,9.5L55.5,3.5M55.5,9.5L59.7,5.3M37.0,27.0L43.0,27.0M37.0,27.0L41.2,31.2M37.0,27.0L37.0,33.0M37.0,27.0L32.8,31.2M37.0,27.0L31.0,27.0M37.0,27.0L32.8,22.8M37.0,27.0L37.0,21.0M37.0,27.0L41.2,22.8M0.0,44.8L6.0,44.8M0.0,44.8L4.2,49.0M0.0,44.8L0.0,50.8M0.0,44.8L-4.2,49.0M0.0,44.8L-6.0,44.8M0.0,44.8L-4.2,40.6M0.0,44.8L-0.0,38.8M0.0,44.8L4.2,40.6M74.0,44.8L80.0,44.8M74.0,44.8L78.2,49.0M74.0,44.8L74.0,50.8M74.0,44.8L69.8,49.0M74.0,44.8L68.0,44.8M74.0,44.8L69.8,40.6M74.0,44.8L74.0,38.8M74.0,44.8L78.2,40.6M37.0,44.8L43.0,44.8M37.0,44.8L41.2,49.0M37.0,44.8L37.0,50.8M37.0,44.8L32.8,49.0M37.0,44.8L31.0,44.8M37.0,44.8L32.8,40.6M37.0,44.8L37.0,38.8M37.0,44.8L41.2,40.6M0.0,62.4L6.0,62.4M0.0,62.4L4.2,66.6M0.0,62.4L0.0,68.4M0.0,62.4L-4.2,66.6M0.0,62.4L-6.0,62.4M0.0,62.4L-4.2,58.2M0.0,62.4L-0.0,56.4M0.0,62.4L4.2,58.2M74.0,62.4L80.0,62.4M74.0,62.4L78.2,66.6M74.0,62.4L74.0,68.4M74.0,62.4L69.8,66.6M74.0,62.4L68.0,62.4M74.0,62.4L69.8,58.2M74.0,62.4L74.0,56.4M74.0,62.4L78.2,58.2M0.0,71.2L6.0,71.2M0.0,71.2L4.2,75.4M0.0,71.2L0.0,77.2M0.0,71.2L-4.2,75.4M0.0,71.2L-6.0,71.2M0.0,71.2L-4.2,67.0M0.0,71.2L-0.0,65.2M0.0,71.2L4.2,67.0M74.0,71.2L80.0,71.2M74.0,71.2L78.2,75.4M74.0,71.2L74.0,77.2M74.0,71.2L69.8,75.4M74.0,71.2L68.0,71.2M74.0,71.2L69.8,67.0M74.0,71.2L74.0,65.2M74.0,71.2L78.2,67.0M18.5,71.2L24.5,71.2M18.5,71.2L22.7,75.4M18.5,71.2L18.5,77.2M18.5,71.2L14.3,75.4M18.5,71.2L12.5,71.2M18.5,71.2L14.3,67.0M18.5,71.2L18.5,65.2M18.5,71.2L22.7,67.0M55.5,71.2L61.5,71.2M55.5,71.2L59.7,75.4M55.5,71.2L55.5,77.2M55.5,71.2L51.3,75.4M55.5,71.2L49.5,71.2M55.5,71.2L51.3,67.0M55.5,71.2L55.5,65.2M55.5,71.2L59.7,67.0" stroke="#e07c98" stroke-width="1.6" fill="none" opacity="0.8"/>
<path d="M0.0,0.0L9.2,8.8M9.2,8.8L0.0,17.6M9.2,17.6L0.0,26.4M0.0,26.4L9.2,35.2M0.0,35.2L9.2,44.0M0.0,44.0L9.2,52.8M0.0,52.8L9.2,61.6M9.2,61.6L0.0,70.4M9.2,70.4L0.0,79.2M18.5,0.0L9.2,8.8M18.5,8.8L9.2,17.6M18.5,17.6L9.2,26.4M9.2,26.4L18.5,35.2M9.2,35.2L18.5,44.0M9.2,44.0L18.5,52.8M18.5,52.8L9.2,61.6M9.2,61.6L18.5,70.4M18.5,70.4L9.2,79.2M18.5,0.0L27.8,8.8M27.8,8.8L18.5,17.6M18.5,17.6L27.8,26.4M18.5,26.4L27.8,35.2M27.8,35.2L18.5,44.0M18.5,44.0L27.8,52.8M18.5,52.8L27.8,61.6M27.8,61.6L18.5,70.4M27.8,70.4L18.5,79.2M27.8,0.0L37.0,8.8M37.0,8.8L27.8,17.6M37.0,17.6L27.8,26.4M27.8,26.4L37.0,35.2M27.8,35.2L37.0,44.0M27.8,44.0L37.0,52.8M27.8,52.8L37.0,61.6M37.0,61.6L27.8,70.4M27.8,70.4L37.0,79.2M46.2,0.0L37.0,8.8M37.0,8.8L46.2,17.6M37.0,17.6L46.2,26.4M46.2,26.4L37.0,35.2M37.0,35.2L46.2,44.0M37.0,44.0L46.2,52.8M46.2,52.8L37.0,61.6M37.0,61.6L46.2,70.4M37.0,70.4L46.2,79.2M46.2,0.0L55.5,8.8M55.5,8.8L46.2,17.6M55.5,17.6L46.2,26.4M55.5,26.4L46.2,35.2M55.5,35.2L46.2,44.0M46.2,44.0L55.5,52.8M46.2,52.8L55.5,61.6M55.5,61.6L46.2,70.4M55.5,70.4L46.2,79.2M55.5,0.0L64.8,8.8M55.5,8.8L64.8,17.6M55.5,17.6L64.8,26.4M64.8,26.4L55.5,35.2M64.8,35.2L55.5,44.0M64.8,44.0L55.5,52.8M55.5,52.8L64.8,61.6M64.8,61.6L55.5,70.4M55.5,70.4L64.8,79.2M74.0,0.0L64.8,8.8M64.8,8.8L74.0,17.6M64.8,17.6L74.0,26.4M64.8,26.4L74.0,35.2M74.0,35.2L64.8,44.0M64.8,44.0L74.0,52.8M74.0,52.8L64.8,61.6M64.8,61.6L74.0,70.4M74.0,70.4L64.8,79.2" stroke="#9aa042" stroke-width="1.3" fill="none" opacity="0.75"/>
<circle cx="3.7" cy="22.2" r="1.3" fill="#e2873a"/>
<circle cx="25.8" cy="48.5" r="1.3" fill="#e2873a"/>
<circle cx="4.7" cy="35.5" r="1.3" fill="#e2873a"/>
<circle cx="16.0" cy="22.6" r="1.3" fill="#e2873a"/>
<circle cx="35.3" cy="72.0" r="1.3" fill="#e2873a"/>
<circle cx="35.6" cy="71.8" r="1.3" fill="#e2873a"/>
<circle cx="13.1" cy="69.5" r="1.3" fill="#e2873a"/>
<circle cx="27.2" cy="15.8" r="1.3" fill="#e2873a"/>
<circle cx="54.9" cy="68.6" r="1.3" fill="#e2873a"/>
<circle cx="1.5" cy="21.6" r="1.3" fill="#e2873a"/>
<circle cx="56.5" cy="27.0" r="1.3" fill="#e2873a"/>
<circle cx="18.4" cy="2.6" r="1.3" fill="#e2873a"/>
<circle cx="3.9" cy="47.2" r="1.3" fill="#e2873a"/>
<circle cx="71.8" cy="74.9" r="1.3" fill="#e2873a"/>
<circle cx="37.3" cy="3.7" r="1.3" fill="#e2873a"/>
<circle cx="24.2" cy="59.5" r="1.3" fill="#e2873a"/>
<circle cx="60.9" cy="48.7" r="1.3" fill="#e2873a"/>
<circle cx="17.5" cy="40.5" r="1.3" fill="#e2873a"/>
<circle cx="35.4" cy="47.8" r="1.3" fill="#e2873a"/>
<circle cx="19.9" cy="71.1" r="1.3" fill="#e2873a"/>
<circle cx="65.4" cy="13.8" r="1.3" fill="#e2873a"/>
<circle cx="22.0" cy="65.7" r="1.3" fill="#e2873a"/>
<circle cx="21.0" cy="70.9" r="1.3" fill="#e2873a"/>
<circle cx="38.1" cy="52.8" r="1.3" fill="#e2873a"/>
<circle cx="51.7" cy="17.6" r="1.3" fill="#e2873a"/>
<circle cx="21.5" cy="20.6" r="1.3" fill="#e2873a"/>
<circle cx="50.2" cy="52.7" r="1.3" fill="#e2873a"/>
<circle cx="10.5" cy="66.7" r="1.3" fill="#e2873a"/>
<circle cx="31.3" cy="19.6" r="1.3" fill="#e2873a"/>
<circle cx="32.3" cy="73.5" r="1.3" fill="#e2873a"/>
<circle cx="41.3" cy="47.6" r="1.3" fill="#e2873a"/>
<circle cx="67.2" cy="72.2" r="1.3" fill="#e2873a"/>
<circle cx="55.8" cy="32.5" r="1.3" fill="#e2873a"/>
<circle cx="43.4" cy="67.8" r="1.3" fill="#e2873a"/>
<circle cx="57.8" cy="44.4" r="1.3" fill="#e2873a"/>
<circle cx="26.0" cy="28.9" r="1.3" fill="#e2873a"/>
<circle cx="54.0" cy="43.1" r="1.3" fill="#e2873a"/>
<circle cx="2.2" cy="53.8" r="1.3" fill="#e2873a"/>
<circle cx="66.1" cy="60.2" r="1.3" fill="#e2873a"/>
<circle cx="65.6" cy="68.5" r="1.3" fill="#e2873a"/>
<circle cx="39.5" cy="59.6" r="1.3" fill="#e2873a"/>
<circle cx="28.3" cy="9.2" r="1.3" fill="#e2873a"/>
<circle cx="26.4" cy="24.8" r="1.3" fill="#e2873a"/>
<circle cx="68.2" cy="52.3" r="1.3" fill="#e2873a"/>
<circle cx="40.0" cy="47.4" r="1.3" fill="#e2873a"/>
<circle cx="10.0" cy="41.0" r="1.3" fill="#e2873a"/>
<circle cx="51.4" cy="30.8" r="1.3" fill="#e2873a"/>
<circle cx="18.7" cy="31.7" r="1.3" fill="#e2873a"/>
<circle cx="24.3" cy="52.0" r="1.3" fill="#e2873a"/>
<circle cx="11.2" cy="8.6" r="1.3" fill="#e2873a"/>
<circle cx="23.5" cy="52.8" r="1.3" fill="#e2873a"/>
<circle cx="55.7" cy="50.1" r="1.3" fill="#e2873a"/>
<circle cx="68.3" cy="28.7" r="1.3" fill="#e2873a"/>
<circle cx="3.1" cy="37.6" r="1.3" fill="#e2873a"/>
<circle cx="32.9" cy="15.1" r="1.3" fill="#e2873a"/>
<circle cx="-0.6" cy="0.1" r="2.15" fill="#bcd89c" stroke="#62963f" stroke-width="1.15"/>
<circle cx="9.2" cy="-0.8" r="2.15" fill="#bcd89c" stroke="#62963f" stroke-width="1.15"/>
<circle cx="13.9" cy="-0.1" r="2.15" fill="#bcd89c" stroke="#62963f" stroke-width="1.15"/>
<circle cx="21.1" cy="2.5" r="2.15" fill="#bcd89c" stroke="#62963f" stroke-width="1.15"/>
<circle cx="30.4" cy="-0.2" r="2.15" fill="#bcd89c" stroke="#62963f" stroke-width="1.15"/>
<circle cx="37.4" cy="2.2" r="2.15" fill="#bcd89c" stroke="#62963f" stroke-width="1.15"/>
<circle cx="44.2" cy="2.3" r="2.15" fill="#bcd89c" stroke="#62963f" stroke-width="1.15"/>
<circle cx="50.7" cy="1.1" r="2.15" fill="#bcd89c" stroke="#62963f" stroke-width="1.15"/>
<circle cx="58.8" cy="1.6" r="2.15" fill="#bcd89c" stroke="#62963f" stroke-width="1.15"/>
<circle cx="68.5" cy="1.2" r="2.15" fill="#bcd89c" stroke="#62963f" stroke-width="1.15"/>
<circle cx="3.1" cy="8.7" r="2.15" fill="#bcd89c" stroke="#62963f" stroke-width="1.15"/>
<circle cx="11.1" cy="7.3" r="2.15" fill="#bcd89c" stroke="#62963f" stroke-width="1.15"/>
<circle cx="17.0" cy="6.8" r="2.15" fill="#bcd89c" stroke="#62963f" stroke-width="1.15"/>
<circle cx="24.9" cy="6.2" r="2.15" fill="#bcd89c" stroke="#62963f" stroke-width="1.15"/>
<circle cx="32.4" cy="9.4" r="2.15" fill="#bcd89c" stroke="#62963f" stroke-width="1.15"/>
<circle cx="40.3" cy="9.2" r="2.15" fill="#bcd89c" stroke="#62963f" stroke-width="1.15"/>
<circle cx="47.4" cy="6.5" r="2.15" fill="#bcd89c" stroke="#62963f" stroke-width="1.15"/>
<circle cx="56.9" cy="8.2" r="2.15" fill="#bcd89c" stroke="#62963f" stroke-width="1.15"/>
<circle cx="62.5" cy="8.2" r="2.15" fill="#bcd89c" stroke="#62963f" stroke-width="1.15"/>
<circle cx="69.9" cy="7.4" r="2.15" fill="#bcd89c" stroke="#62963f" stroke-width="1.15"/>
<circle cx="-0.4" cy="15.7" r="2.15" fill="#bcd89c" stroke="#62963f" stroke-width="1.15"/>
<circle cx="13.8" cy="16.3" r="2.15" fill="#bcd89c" stroke="#62963f" stroke-width="1.15"/>
<circle cx="20.4" cy="15.8" r="2.15" fill="#bcd89c" stroke="#62963f" stroke-width="1.15"/>
<circle cx="30.9" cy="14.1" r="2.15" fill="#bcd89c" stroke="#62963f" stroke-width="1.15"/>
<circle cx="36.2" cy="13.3" r="2.15" fill="#bcd89c" stroke="#62963f" stroke-width="1.15"/>
<circle cx="45.7" cy="13.6" r="2.15" fill="#bcd89c" stroke="#62963f" stroke-width="1.15"/>
<circle cx="49.9" cy="13.9" r="2.15" fill="#bcd89c" stroke="#62963f" stroke-width="1.15"/>
<circle cx="10.3" cy="20.3" r="2.15" fill="#bcd89c" stroke="#62963f" stroke-width="1.15"/>
<circle cx="27.3" cy="21.8" r="2.15" fill="#bcd89c" stroke="#62963f" stroke-width="1.15"/>
<circle cx="40.8" cy="21.3" r="2.15" fill="#bcd89c" stroke="#62963f" stroke-width="1.15"/>
<circle cx="48.7" cy="22.5" r="2.15" fill="#bcd89c" stroke="#62963f" stroke-width="1.15"/>
<circle cx="56.0" cy="21.3" r="2.15" fill="#bcd89c" stroke="#62963f" stroke-width="1.15"/>
<circle cx="62.5" cy="21.1" r="2.15" fill="#bcd89c" stroke="#62963f" stroke-width="1.15"/>
<circle cx="71.2" cy="20.6" r="2.15" fill="#bcd89c" stroke="#62963f" stroke-width="1.15"/>
<circle cx="-0.0" cy="29.5" r="2.15" fill="#bcd89c" stroke="#62963f" stroke-width="1.15"/>
<circle cx="9.2" cy="28.9" r="2.15" fill="#bcd89c" stroke="#62963f" stroke-width="1.15"/>
<circle cx="14.4" cy="28.6" r="2.15" fill="#bcd89c" stroke="#62963f" stroke-width="1.15"/>
<circle cx="23.6" cy="26.9" r="2.15" fill="#bcd89c" stroke="#62963f" stroke-width="1.15"/>
<circle cx="65.1" cy="28.9" r="2.15" fill="#bcd89c" stroke="#62963f" stroke-width="1.15"/>
<circle cx="5.6" cy="36.7" r="2.15" fill="#bcd89c" stroke="#62963f" stroke-width="1.15"/>
<circle cx="12.9" cy="33.4" r="2.15" fill="#bcd89c" stroke="#62963f" stroke-width="1.15"/>
<circle cx="20.2" cy="35.0" r="2.15" fill="#bcd89c" stroke="#62963f" stroke-width="1.15"/>
<circle cx="26.9" cy="34.8" r="2.15" fill="#bcd89c" stroke="#62963f" stroke-width="1.15"/>
<circle cx="32.6" cy="34.1" r="2.15" fill="#bcd89c" stroke="#62963f" stroke-width="1.15"/>
<circle cx="49.9" cy="36.8" r="2.15" fill="#bcd89c" stroke="#62963f" stroke-width="1.15"/>
<circle cx="57.2" cy="34.6" r="2.15" fill="#bcd89c" stroke="#62963f" stroke-width="1.15"/>
<circle cx="64.6" cy="35.4" r="2.15" fill="#bcd89c" stroke="#62963f" stroke-width="1.15"/>
<circle cx="68.4" cy="34.1" r="2.15" fill="#bcd89c" stroke="#62963f" stroke-width="1.15"/>
<circle cx="0.9" cy="43.1" r="2.15" fill="#bcd89c" stroke="#62963f" stroke-width="1.15"/>
<circle cx="6.8" cy="41.5" r="2.15" fill="#bcd89c" stroke="#62963f" stroke-width="1.15"/>
<circle cx="16.8" cy="41.8" r="2.15" fill="#bcd89c" stroke="#62963f" stroke-width="1.15"/>
<circle cx="29.7" cy="41.4" r="2.15" fill="#bcd89c" stroke="#62963f" stroke-width="1.15"/>
<circle cx="36.5" cy="42.3" r="2.15" fill="#bcd89c" stroke="#62963f" stroke-width="1.15"/>
<circle cx="53.6" cy="42.8" r="2.15" fill="#bcd89c" stroke="#62963f" stroke-width="1.15"/>
<circle cx="58.9" cy="40.5" r="2.15" fill="#bcd89c" stroke="#62963f" stroke-width="1.15"/>
<circle cx="67.1" cy="40.7" r="2.15" fill="#bcd89c" stroke="#62963f" stroke-width="1.15"/>
<circle cx="4.1" cy="49.0" r="2.15" fill="#bcd89c" stroke="#62963f" stroke-width="1.15"/>
<circle cx="10.3" cy="48.2" r="2.15" fill="#bcd89c" stroke="#62963f" stroke-width="1.15"/>
<circle cx="17.8" cy="48.7" r="2.15" fill="#bcd89c" stroke="#62963f" stroke-width="1.15"/>
<circle cx="24.6" cy="48.3" r="2.15" fill="#bcd89c" stroke="#62963f" stroke-width="1.15"/>
<circle cx="32.6" cy="48.2" r="2.15" fill="#bcd89c" stroke="#62963f" stroke-width="1.15"/>
<circle cx="42.5" cy="48.0" r="2.15" fill="#bcd89c" stroke="#62963f" stroke-width="1.15"/>
<circle cx="48.7" cy="48.3" r="2.15" fill="#bcd89c" stroke="#62963f" stroke-width="1.15"/>
<circle cx="56.1" cy="47.2" r="2.15" fill="#bcd89c" stroke="#62963f" stroke-width="1.15"/>
<circle cx="61.3" cy="47.8" r="2.15" fill="#bcd89c" stroke="#62963f" stroke-width="1.15"/>
<circle cx="72.3" cy="49.3" r="2.15" fill="#bcd89c" stroke="#62963f" stroke-width="1.15"/>
<circle cx="6.5" cy="56.7" r="2.15" fill="#bcd89c" stroke="#62963f" stroke-width="1.15"/>
<circle cx="13.6" cy="56.0" r="2.15" fill="#bcd89c" stroke="#62963f" stroke-width="1.15"/>
<circle cx="22.6" cy="55.4" r="2.15" fill="#bcd89c" stroke="#62963f" stroke-width="1.15"/>
<circle cx="29.4" cy="57.1" r="2.15" fill="#bcd89c" stroke="#62963f" stroke-width="1.15"/>
<circle cx="36.9" cy="55.0" r="2.15" fill="#bcd89c" stroke="#62963f" stroke-width="1.15"/>
<circle cx="45.4" cy="54.6" r="2.15" fill="#bcd89c" stroke="#62963f" stroke-width="1.15"/>
<circle cx="52.7" cy="55.5" r="2.15" fill="#bcd89c" stroke="#62963f" stroke-width="1.15"/>
<circle cx="59.7" cy="56.3" r="2.15" fill="#bcd89c" stroke="#62963f" stroke-width="1.15"/>
<circle cx="65.8" cy="53.8" r="2.15" fill="#bcd89c" stroke="#62963f" stroke-width="1.15"/>
<circle cx="4.9" cy="61.9" r="2.15" fill="#bcd89c" stroke="#62963f" stroke-width="1.15"/>
<circle cx="12.7" cy="61.1" r="2.15" fill="#bcd89c" stroke="#62963f" stroke-width="1.15"/>
<circle cx="18.2" cy="61.7" r="2.15" fill="#bcd89c" stroke="#62963f" stroke-width="1.15"/>
<circle cx="25.6" cy="60.7" r="2.15" fill="#bcd89c" stroke="#62963f" stroke-width="1.15"/>
<circle cx="46.7" cy="61.0" r="2.15" fill="#bcd89c" stroke="#62963f" stroke-width="1.15"/>
<circle cx="55.0" cy="62.3" r="2.15" fill="#bcd89c" stroke="#62963f" stroke-width="1.15"/>
<circle cx="64.6" cy="61.1" r="2.15" fill="#bcd89c" stroke="#62963f" stroke-width="1.15"/>
<circle cx="71.7" cy="63.8" r="2.15" fill="#bcd89c" stroke="#62963f" stroke-width="1.15"/>
<circle cx="0.1" cy="68.7" r="2.15" fill="#bcd89c" stroke="#62963f" stroke-width="1.15"/>
<circle cx="15.9" cy="69.3" r="2.15" fill="#bcd89c" stroke="#62963f" stroke-width="1.15"/>
<circle cx="21.2" cy="69.3" r="2.15" fill="#bcd89c" stroke="#62963f" stroke-width="1.15"/>
<circle cx="28.0" cy="69.6" r="2.15" fill="#bcd89c" stroke="#62963f" stroke-width="1.15"/>
<circle cx="45.8" cy="69.7" r="2.15" fill="#bcd89c" stroke="#62963f" stroke-width="1.15"/>
<circle cx="49.9" cy="69.1" r="2.15" fill="#bcd89c" stroke="#62963f" stroke-width="1.15"/>
<circle cx="58.8" cy="67.6" r="2.15" fill="#bcd89c" stroke="#62963f" stroke-width="1.15"/>
<circle cx="66.7" cy="69.4" r="2.15" fill="#bcd89c" stroke="#62963f" stroke-width="1.15"/>
<circle cx="5.3" cy="76.1" r="2.15" fill="#bcd89c" stroke="#62963f" stroke-width="1.15"/>
<circle cx="12.5" cy="75.5" r="2.15" fill="#bcd89c" stroke="#62963f" stroke-width="1.15"/>
<circle cx="16.6" cy="77.0" r="2.15" fill="#bcd89c" stroke="#62963f" stroke-width="1.15"/>
<circle cx="26.4" cy="77.7" r="2.15" fill="#bcd89c" stroke="#62963f" stroke-width="1.15"/>
<circle cx="32.9" cy="77.0" r="2.15" fill="#bcd89c" stroke="#62963f" stroke-width="1.15"/>
<circle cx="40.8" cy="77.0" r="2.15" fill="#bcd89c" stroke="#62963f" stroke-width="1.15"/>
<circle cx="49.6" cy="76.5" r="2.15" fill="#bcd89c" stroke="#62963f" stroke-width="1.15"/>
<circle cx="54.6" cy="74.5" r="2.15" fill="#bcd89c" stroke="#62963f" stroke-width="1.15"/>
<circle cx="71.2" cy="12.3" r="1.8" fill="#f0b8c6" stroke="#d06e88" stroke-width="1.0"/>
<circle cx="44.4" cy="11.8" r="1.8" fill="#f0b8c6" stroke="#d06e88" stroke-width="1.0"/>
<circle cx="70.6" cy="40.9" r="1.8" fill="#f0b8c6" stroke="#d06e88" stroke-width="1.0"/>
<circle cx="13.7" cy="62.3" r="1.8" fill="#f0b8c6" stroke="#d06e88" stroke-width="1.0"/>
<circle cx="62.9" cy="73.4" r="1.8" fill="#f0b8c6" stroke="#d06e88" stroke-width="1.0"/>
<circle cx="17.1" cy="31.4" r="1.8" fill="#f0b8c6" stroke="#d06e88" stroke-width="1.0"/>
<circle cx="48.6" cy="22.6" r="1.8" fill="#f0b8c6" stroke="#d06e88" stroke-width="1.0"/>
<circle cx="42.0" cy="53.2" r="1.8" fill="#f0b8c6" stroke="#d06e88" stroke-width="1.0"/>
<circle cx="55.1" cy="62.1" r="1.8" fill="#f0b8c6" stroke="#d06e88" stroke-width="1.0"/>
<circle cx="55.1" cy="22.8" r="1.8" fill="#f0b8c6" stroke="#d06e88" stroke-width="1.0"/>
<circle cx="55.4" cy="33.7" r="1.8" fill="#f0b8c6" stroke="#d06e88" stroke-width="1.0"/>
<circle cx="13.2" cy="3.5" r="1.8" fill="#f0b8c6" stroke="#d06e88" stroke-width="1.0"/>
<circle cx="45.8" cy="28.1" r="1.8" fill="#f0b8c6" stroke="#d06e88" stroke-width="1.0"/>
<circle cx="7.8" cy="37.8" r="1.8" fill="#f0b8c6" stroke="#d06e88" stroke-width="1.0"/>
<circle cx="30.9" cy="25.7" r="1.8" fill="#f0b8c6" stroke="#d06e88" stroke-width="1.0"/>
<circle cx="41.8" cy="41.3" r="1.8" fill="#f0b8c6" stroke="#d06e88" stroke-width="1.0"/>
<circle cx="39.1" cy="74.1" r="1.8" fill="#f0b8c6" stroke="#d06e88" stroke-width="1.0"/>
<circle cx="66.1" cy="23.8" r="1.8" fill="#f0b8c6" stroke="#d06e88" stroke-width="1.0"/>
<circle cx="0.0" cy="9.5" r="2.9" fill="#f0a2c2" stroke="#c44a7c" stroke-width="1.6"/>
<circle cx="0.0" cy="9.5" r="1.1" fill="#fde8f0"/>
<circle cx="74.0" cy="9.5" r="2.9" fill="#f0a2c2" stroke="#c44a7c" stroke-width="1.6"/>
<circle cx="74.0" cy="9.5" r="1.1" fill="#fde8f0"/>
<circle cx="18.5" cy="9.5" r="2.8" fill="#56bcb4" stroke="#1b857e" stroke-width="1.5"/>
<circle cx="37.0" cy="9.5" r="2.9" fill="#f0a2c2" stroke="#c44a7c" stroke-width="1.6"/>
<circle cx="37.0" cy="9.5" r="1.1" fill="#fde8f0"/>
<circle cx="55.5" cy="9.5" r="3.4" fill="#e8363e" stroke="#c41018" stroke-width="1.7"/>
<circle cx="0.0" cy="27.0" r="2.8" fill="#56bcb4" stroke="#1b857e" stroke-width="1.5"/>
<circle cx="74.0" cy="27.0" r="2.8" fill="#56bcb4" stroke="#1b857e" stroke-width="1.5"/>
<circle cx="18.5" cy="27.0" r="4.2" fill="#fffaf2"/>
<circle cx="37.0" cy="27.0" r="3.4" fill="#e8363e" stroke="#c41018" stroke-width="1.7"/>
<circle cx="55.5" cy="27.0" r="4.2" fill="#fffaf2"/>
<circle cx="0.0" cy="44.8" r="2.9" fill="#f0a2c2" stroke="#c44a7c" stroke-width="1.6"/>
<circle cx="0.0" cy="44.8" r="1.1" fill="#fde8f0"/>
<circle cx="74.0" cy="44.8" r="2.9" fill="#f0a2c2" stroke="#c44a7c" stroke-width="1.6"/>
<circle cx="74.0" cy="44.8" r="1.1" fill="#fde8f0"/>
<circle cx="18.5" cy="44.8" r="2.8" fill="#56bcb4" stroke="#1b857e" stroke-width="1.5"/>
<circle cx="37.0" cy="44.8" r="2.9" fill="#f0a2c2" stroke="#c44a7c" stroke-width="1.6"/>
<circle cx="37.0" cy="44.8" r="1.1" fill="#fde8f0"/>
<circle cx="55.5" cy="44.8" r="2.8" fill="#56bcb4" stroke="#1b857e" stroke-width="1.5"/>
<circle cx="0.0" cy="62.4" r="3.4" fill="#e8363e" stroke="#c41018" stroke-width="1.7"/>
<circle cx="74.0" cy="62.4" r="3.4" fill="#e8363e" stroke="#c41018" stroke-width="1.7"/>
<circle cx="18.5" cy="62.4" r="4.2" fill="#fffaf2"/>
<circle cx="37.0" cy="62.4" r="2.8" fill="#56bcb4" stroke="#1b857e" stroke-width="1.5"/>
<circle cx="55.5" cy="62.4" r="4.2" fill="#fffaf2"/>
<circle cx="0.0" cy="71.2" r="2.9" fill="#f0a2c2" stroke="#c44a7c" stroke-width="1.6"/>
<circle cx="0.0" cy="71.2" r="1.1" fill="#fde8f0"/>
<circle cx="74.0" cy="71.2" r="2.9" fill="#f0a2c2" stroke="#c44a7c" stroke-width="1.6"/>
<circle cx="74.0" cy="71.2" r="1.1" fill="#fde8f0"/>
<circle cx="18.5" cy="71.2" r="2.9" fill="#f0a2c2" stroke="#c44a7c" stroke-width="1.6"/>
<circle cx="18.5" cy="71.2" r="1.1" fill="#fde8f0"/>
<circle cx="37.0" cy="71.2" r="2.8" fill="#56bcb4" stroke="#1b857e" stroke-width="1.5"/>
<circle cx="55.5" cy="71.2" r="2.9" fill="#f0a2c2" stroke="#c44a7c" stroke-width="1.6"/>
<circle cx="55.5" cy="71.2" r="1.1" fill="#fde8f0"/></g>
<g id="cell2"><rect x="0" y="0" width="74" height="77" fill="#efd9b4"/>
<path d="M0,9.5H74M0,27.0H74M0,44.8H74M0,62.4H74M0,71.2H74M0,18.2H74M0,35.9H74M0,53.6H74" stroke="#d98f4e" stroke-width="1.6" fill="none" opacity="0.9"/>
<path d="M0.0,0V77M9.2,0V77M18.5,0V77M27.8,0V77M37.0,0V77M46.2,0V77M55.5,0V77M64.8,0V77M74.0,0V77" stroke="#dca062" stroke-width="1.4" fill="none" opacity="0.8"/>
<path d="M0.0,9.5L7.9,12.7M0.0,9.5L3.3,17.3M0.0,9.5L-3.2,17.4M0.0,9.5L-7.8,12.8M0.0,9.5L-7.9,6.3M0.0,9.5L-3.3,1.7M0.0,9.5L3.2,1.6M0.0,9.5L7.8,6.2M74.0,9.5L81.9,12.7M74.0,9.5L77.3,17.3M74.0,9.5L70.8,17.4M74.0,9.5L66.2,12.8M74.0,9.5L66.1,6.3M74.0,9.5L70.7,1.7M74.0,9.5L77.2,1.6M74.0,9.5L81.8,6.2M18.5,9.5L26.4,12.7M18.5,9.5L21.8,17.3M18.5,9.5L15.3,17.4M18.5,9.5L10.7,12.8M18.5,9.5L10.6,6.3M18.5,9.5L15.2,1.7M18.5,9.5L21.7,1.6M18.5,9.5L26.3,6.2M37.0,9.5L44.9,12.7M37.0,9.5L40.3,17.3M37.0,9.5L33.8,17.4M37.0,9.5L29.2,12.8M37.0,9.5L29.1,6.3M37.0,9.5L33.7,1.7M37.0,9.5L40.2,1.6M37.0,9.5L44.8,6.2M55.5,9.5L63.4,12.7M55.5,9.5L58.8,17.3M55.5,9.5L52.3,17.4M55.5,9.5L47.7,12.8M55.5,9.5L47.6,6.3M55.5,9.5L52.2,1.7M55.5,9.5L58.7,1.6M55.5,9.5L63.3,6.2M0.0,27.0L7.9,30.2M0.0,27.0L3.3,34.8M0.0,27.0L-3.2,34.9M0.0,27.0L-7.8,30.3M0.0,27.0L-7.9,23.8M0.0,27.0L-3.3,19.2M0.0,27.0L3.2,19.1M0.0,27.0L7.8,23.7M74.0,27.0L81.9,30.2M74.0,27.0L77.3,34.8M74.0,27.0L70.8,34.9M74.0,27.0L66.2,30.3M74.0,27.0L66.1,23.8M74.0,27.0L70.7,19.2M74.0,27.0L77.2,19.1M74.0,27.0L81.8,23.7M37.0,27.0L44.9,30.2M37.0,27.0L40.3,34.8M37.0,27.0L33.8,34.9M37.0,27.0L29.2,30.3M37.0,27.0L29.1,23.8M37.0,27.0L33.7,19.2M37.0,27.0L40.2,19.1M37.0,27.0L44.8,23.7M0.0,44.8L7.9,48.0M0.0,44.8L3.3,52.6M0.0,44.8L-3.2,52.7M0.0,44.8L-7.8,48.1M0.0,44.8L-7.9,41.6M0.0,44.8L-3.3,37.0M0.0,44.8L3.2,36.9M0.0,44.8L7.8,41.5M74.0,44.8L81.9,48.0M74.0,44.8L77.3,52.6M74.0,44.8L70.8,52.7M74.0,44.8L66.2,48.1M74.0,44.8L66.1,41.6M74.0,44.8L70.7,37.0M74.0,44.8L77.2,36.9M74.0,44.8L81.8,41.5M18.5,44.8L26.4,48.0M18.5,44.8L21.8,52.6M18.5,44.8L15.3,52.7M18.5,44.8L10.7,48.1M18.5,44.8L10.6,41.6M18.5,44.8L15.2,37.0M18.5,44.8L21.7,36.9M18.5,44.8L26.3,41.5M37.0,44.8L44.9,48.0M37.0,44.8L40.3,52.6M37.0,44.8L33.8,52.7M37.0,44.8L29.2,48.1M37.0,44.8L29.1,41.6M37.0,44.8L33.7,37.0M37.0,44.8L40.2,36.9M37.0,44.8L44.8,41.5M55.5,44.8L63.4,48.0M55.5,44.8L58.8,52.6M55.5,44.8L52.3,52.7M55.5,44.8L47.7,48.1M55.5,44.8L47.6,41.6M55.5,44.8L52.2,37.0M55.5,44.8L58.7,36.9M55.5,44.8L63.3,41.5M18.5,62.4L26.4,65.6M18.5,62.4L21.8,70.2M18.5,62.4L15.3,70.3M18.5,62.4L10.7,65.7M18.5,62.4L10.6,59.2M18.5,62.4L15.2,54.6M18.5,62.4L21.7,54.5M18.5,62.4L26.3,59.1M55.5,62.4L63.4,65.6M55.5,62.4L58.8,70.2M55.5,62.4L52.3,70.3M55.5,62.4L47.7,65.7M55.5,62.4L47.6,59.2M55.5,62.4L52.2,54.6M55.5,62.4L58.7,54.5M55.5,62.4L63.3,59.1M0.0,71.2L7.9,74.4M0.0,71.2L3.3,79.0M0.0,71.2L-3.2,79.1M0.0,71.2L-7.8,74.5M0.0,71.2L-7.9,68.0M0.0,71.2L-3.3,63.4M0.0,71.2L3.2,63.3M0.0,71.2L7.8,67.9M74.0,71.2L81.9,74.4M74.0,71.2L77.3,79.0M74.0,71.2L70.8,79.1M74.0,71.2L66.2,74.5M74.0,71.2L66.1,68.0M74.0,71.2L70.7,63.4M74.0,71.2L77.2,63.3M74.0,71.2L81.8,67.9M18.5,71.2L26.4,74.4M18.5,71.2L21.8,79.0M18.5,71.2L15.3,79.1M18.5,71.2L10.7,74.5M18.5,71.2L10.6,68.0M18.5,71.2L15.2,63.4M18.5,71.2L21.7,63.3M18.5,71.2L26.3,67.9M37.0,71.2L44.9,74.4M37.0,71.2L40.3,79.0M37.0,71.2L33.8,79.1M37.0,71.2L29.2,74.5M37.0,71.2L29.1,68.0M37.0,71.2L33.7,63.4M37.0,71.2L40.2,63.3M37.0,71.2L44.8,67.9M55.5,71.2L63.4,74.4M55.5,71.2L58.8,79.0M55.5,71.2L52.3,79.1M55.5,71.2L47.7,74.5M55.5,71.2L47.6,68.0M55.5,71.2L52.2,63.4M55.5,71.2L58.7,63.3M55.5,71.2L63.3,67.9" stroke="#cf7b3a" stroke-width="1.4" fill="none" opacity="0.9"/>
<path d="M0.0,9.5L6.0,9.5M0.0,9.5L4.2,13.7M0.0,9.5L0.0,15.5M0.0,9.5L-4.2,13.7M0.0,9.5L-6.0,9.5M0.0,9.5L-4.2,5.3M0.0,9.5L-0.0,3.5M0.0,9.5L4.2,5.3M74.0,9.5L80.0,9.5M74.0,9.5L78.2,13.7M74.0,9.5L74.0,15.5M74.0,9.5L69.8,13.7M74.0,9.5L68.0,9.5M74.0,9.5L69.8,5.3M74.0,9.5L74.0,3.5M74.0,9.5L78.2,5.3M18.5,9.5L24.5,9.5M18.5,9.5L22.7,13.7M18.5,9.5L18.5,15.5M18.5,9.5L14.3,13.7M18.5,9.5L12.5,9.5M18.5,9.5L14.3,5.3M18.5,9.5L18.5,3.5M18.5,9.5L22.7,5.3M55.5,9.5L61.5,9.5M55.5,9.5L59.7,13.7M55.5,9.5L55.5,15.5M55.5,9.5L51.3,13.7M55.5,9.5L49.5,9.5M55.5,9.5L51.3,5.3M55.5,9.5L55.5,3.5M55.5,9.5L59.7,5.3M37.0,27.0L43.0,27.0M37.0,27.0L41.2,31.2M37.0,27.0L37.0,33.0M37.0,27.0L32.8,31.2M37.0,27.0L31.0,27.0M37.0,27.0L32.8,22.8M37.0,27.0L37.0,21.0M37.0,27.0L41.2,22.8M0.0,44.8L6.0,44.8M0.0,44.8L4.2,49.0M0.0,44.8L0.0,50.8M0.0,44.8L-4.2,49.0M0.0,44.8L-6.0,44.8M0.0,44.8L-4.2,40.6M0.0,44.8L-0.0,38.8M0.0,44.8L4.2,40.6M74.0,44.8L80.0,44.8M74.0,44.8L78.2,49.0M74.0,44.8L74.0,50.8M74.0,44.8L69.8,49.0M74.0,44.8L68.0,44.8M74.0,44.8L69.8,40.6M74.0,44.8L74.0,38.8M74.0,44.8L78.2,40.6M37.0,44.8L43.0,44.8M37.0,44.8L41.2,49.0M37.0,44.8L37.0,50.8M37.0,44.8L32.8,49.0M37.0,44.8L31.0,44.8M37.0,44.8L32.8,40.6M37.0,44.8L37.0,38.8M37.0,44.8L41.2,40.6M18.5,62.4L24.5,62.4M18.5,62.4L22.7,66.6M18.5,62.4L18.5,68.4M18.5,62.4L14.3,66.6M18.5,62.4L12.5,62.4M18.5,62.4L14.3,58.2M18.5,62.4L18.5,56.4M18.5,62.4L22.7,58.2M55.5,62.4L61.5,62.4M55.5,62.4L59.7,66.6M55.5,62.4L55.5,68.4M55.5,62.4L51.3,66.6M55.5,62.4L49.5,62.4M55.5,62.4L51.3,58.2M55.5,62.4L55.5,56.4M55.5,62.4L59.7,58.2M18.5,71.2L24.5,71.2M18.5,71.2L22.7,75.4M18.5,71.2L18.5,77.2M18.5,71.2L14.3,75.4M18.5,71.2L12.5,71.2M18.5,71.2L14.3,67.0M18.5,71.2L18.5,65.2M18.5,71.2L22.7,67.0M55.5,71.2L61.5,71.2M55.5,71.2L59.7,75.4M55.5,71.2L55.5,77.2M55.5,71.2L51.3,75.4M55.5,71.2L49.5,71.2M55.5,71.2L51.3,67.0M55.5,71.2L55.5,65.2M55.5,71.2L59.7,67.0" stroke="#e07c98" stroke-width="1.6" fill="none" opacity="0.8"/>
<path d="M0.0,0.0L9.2,8.8M9.2,8.8L0.0,17.6M9.2,17.6L0.0,26.4M9.2,26.4L0.0,35.2M0.0,35.2L9.2,44.0M0.0,44.0L9.2,52.8M0.0,52.8L9.2,61.6M0.0,61.6L9.2,70.4M9.2,70.4L0.0,79.2M9.2,0.0L18.5,8.8M18.5,8.8L9.2,17.6M9.2,17.6L18.5,26.4M9.2,26.4L18.5,35.2M9.2,35.2L18.5,44.0M18.5,44.0L9.2,52.8M18.5,52.8L9.2,61.6M9.2,61.6L18.5,70.4M9.2,70.4L18.5,79.2M18.5,0.0L27.8,8.8M27.8,8.8L18.5,17.6M27.8,17.6L18.5,26.4M27.8,26.4L18.5,35.2M27.8,35.2L18.5,44.0M27.8,44.0L18.5,52.8M27.8,52.8L18.5,61.6M27.8,61.6L18.5,70.4M18.5,70.4L27.8,79.2M37.0,0.0L27.8,8.8M27.8,8.8L37.0,17.6M37.0,17.6L27.8,26.4M37.0,26.4L27.8,35.2M27.8,35.2L37.0,44.0M27.8,44.0L37.0,52.8M27.8,52.8L37.0,61.6M27.8,61.6L37.0,70.4M27.8,70.4L37.0,79.2M46.2,0.0L37.0,8.8M46.2,8.8L37.0,17.6M46.2,17.6L37.0,26.4M46.2,26.4L37.0,35.2M46.2,35.2L37.0,44.0M46.2,44.0L37.0,52.8M37.0,52.8L46.2,61.6M46.2,61.6L37.0,70.4M37.0,70.4L46.2,79.2M46.2,0.0L55.5,8.8M46.2,8.8L55.5,17.6M55.5,17.6L46.2,26.4M46.2,26.4L55.5,35.2M46.2,35.2L55.5,44.0M55.5,44.0L46.2,52.8M46.2,52.8L55.5,61.6M46.2,61.6L55.5,70.4M46.2,70.4L55.5,79.2M55.5,0.0L64.8,8.8M55.5,8.8L64.8,17.6M55.5,17.6L64.8,26.4M55.5,26.4L64.8,35.2M55.5,35.2L64.8,44.0M64.8,44.0L55.5,52.8M64.8,52.8L55.5,61.6M55.5,61.6L64.8,70.4M64.8,70.4L55.5,79.2M74.0,0.0L64.8,8.8M64.8,8.8L74.0,17.6M64.8,17.6L74.0,26.4M74.0,26.4L64.8,35.2M74.0,35.2L64.8,44.0M74.0,44.0L64.8,52.8M64.8,52.8L74.0,61.6M64.8,61.6L74.0,70.4M74.0,70.4L64.8,79.2" stroke="#9aa042" stroke-width="1.3" fill="none" opacity="0.75"/>
<circle cx="64.8" cy="60.6" r="1.3" fill="#e2873a"/>
<circle cx="15.6" cy="64.3" r="1.3" fill="#e2873a"/>
<circle cx="28.0" cy="54.3" r="1.3" fill="#e2873a"/>
<circle cx="10.9" cy="72.9" r="1.3" fill="#e2873a"/>
<circle cx="44.5" cy="54.8" r="1.3" fill="#e2873a"/>
<circle cx="16.2" cy="47.1" r="1.3" fill="#e2873a"/>
<circle cx="42.8" cy="45.2" r="1.3" fill="#e2873a"/>
<circle cx="26.9" cy="55.1" r="1.3" fill="#e2873a"/>
<circle cx="25.6" cy="23.6" r="1.3" fill="#e2873a"/>
<circle cx="12.8" cy="51.9" r="1.3" fill="#e2873a"/>
<circle cx="9.1" cy="18.5" r="1.3" fill="#e2873a"/>
<circle cx="6.0" cy="49.0" r="1.3" fill="#e2873a"/>
<circle cx="41.0" cy="41.7" r="1.3" fill="#e2873a"/>
<circle cx="3.8" cy="34.1" r="1.3" fill="#e2873a"/>
<circle cx="25.7" cy="8.8" r="1.3" fill="#e2873a"/>
<circle cx="1.2" cy="74.8" r="1.3" fill="#e2873a"/>
<circle cx="9.7" cy="24.0" r="1.3" fill="#e2873a"/>
<circle cx="20.4" cy="45.6" r="1.3" fill="#e2873a"/>
<circle cx="6.6" cy="36.3" r="1.3" fill="#e2873a"/>
<circle cx="27.4" cy="62.9" r="1.3" fill="#e2873a"/>
<circle cx="1.4" cy="26.4" r="1.3" fill="#e2873a"/>
<circle cx="36.8" cy="72.8" r="1.3" fill="#e2873a"/>
<circle cx="38.2" cy="36.6" r="1.3" fill="#e2873a"/>
<circle cx="49.2" cy="23.6" r="1.3" fill="#e2873a"/>
<circle cx="3.3" cy="38.6" r="1.3" fill="#e2873a"/>
<circle cx="66.5" cy="55.9" r="1.3" fill="#e2873a"/>
<circle cx="19.6" cy="51.9" r="1.3" fill="#e2873a"/>
<circle cx="62.1" cy="20.9" r="1.3" fill="#e2873a"/>
<circle cx="43.3" cy="28.0" r="1.3" fill="#e2873a"/>
<circle cx="18.6" cy="23.0" r="1.3" fill="#e2873a"/>
<circle cx="15.7" cy="27.6" r="1.3" fill="#e2873a"/>
<circle cx="3.7" cy="31.0" r="1.3" fill="#e2873a"/>
<circle cx="7.2" cy="57.3" r="1.3" fill="#e2873a"/>
<circle cx="44.2" cy="2.3" r="1.3" fill="#e2873a"/>
<circle cx="56.7" cy="15.9" r="1.3" fill="#e2873a"/>
<circle cx="35.6" cy="42.5" r="1.3" fill="#e2873a"/>
<circle cx="25.0" cy="23.1" r="1.3" fill="#e2873a"/>
<circle cx="32.3" cy="12.0" r="1.3" fill="#e2873a"/>
<circle cx="63.2" cy="10.2" r="1.3" fill="#e2873a"/>
<circle cx="60.3" cy="17.9" r="1.3" fill="#e2873a"/>
<circle cx="22.8" cy="30.3" r="1.3" fill="#e2873a"/>
<circle cx="3.4" cy="11.4" r="1.3" fill="#e2873a"/>
<circle cx="27.0" cy="34.3" r="1.3" fill="#e2873a"/>
<circle cx="64.1" cy="74.3" r="1.3" fill="#e2873a"/>
<circle cx="4.1" cy="41.1" r="1.3" fill="#e2873a"/>
<circle cx="10.3" cy="60.7" r="1.3" fill="#e2873a"/>
<circle cx="24.2" cy="67.2" r="1.3" fill="#e2873a"/>
<circle cx="40.3" cy="11.2" r="1.3" fill="#e2873a"/>
<circle cx="1.4" cy="20.1" r="1.3" fill="#e2873a"/>
<circle cx="63.5" cy="12.9" r="1.3" fill="#e2873a"/>
<circle cx="35.5" cy="29.1" r="1.3" fill="#e2873a"/>
<circle cx="25.8" cy="60.5" r="1.3" fill="#e2873a"/>
<circle cx="16.4" cy="54.4" r="1.3" fill="#e2873a"/>
<circle cx="49.0" cy="70.3" r="1.3" fill="#e2873a"/>
<circle cx="38.4" cy="69.2" r="1.3" fill="#e2873a"/>
<circle cx="0.3" cy="1.4" r="2.15" fill="#bcd89c" stroke="#62963f" stroke-width="1.15"/>
<circle cx="9.0" cy="-0.4" r="2.15" fill="#bcd89c" stroke="#62963f" stroke-width="1.15"/>
<circle cx="23.4" cy="1.1" r="2.15" fill="#bcd89c" stroke="#62963f" stroke-width="1.15"/>
<circle cx="31.4" cy="0.3" r="2.15" fill="#bcd89c" stroke="#62963f" stroke-width="1.15"/>
<circle cx="57.6" cy="1.8" r="2.15" fill="#bcd89c" stroke="#62963f" stroke-width="1.15"/>
<circle cx="68.6" cy="2.1" r="2.15" fill="#bcd89c" stroke="#62963f" stroke-width="1.15"/>
<circle cx="4.2" cy="9.0" r="2.15" fill="#bcd89c" stroke="#62963f" stroke-width="1.15"/>
<circle cx="10.3" cy="8.8" r="2.15" fill="#bcd89c" stroke="#62963f" stroke-width="1.15"/>
<circle cx="27.9" cy="7.7" r="2.15" fill="#bcd89c" stroke="#62963f" stroke-width="1.15"/>
<circle cx="34.4" cy="7.6" r="2.15" fill="#bcd89c" stroke="#62963f" stroke-width="1.15"/>
<circle cx="54.8" cy="9.4" r="2.15" fill="#bcd89c" stroke="#62963f" stroke-width="1.15"/>
<circle cx="64.3" cy="9.1" r="2.15" fill="#bcd89c" stroke="#62963f" stroke-width="1.15"/>
<circle cx="72.3" cy="8.8" r="2.15" fill="#bcd89c" stroke="#62963f" stroke-width="1.15"/>
<circle cx="-1.0" cy="14.5" r="2.15" fill="#bcd89c" stroke="#62963f" stroke-width="1.15"/>
<circle cx="7.5" cy="13.5" r="2.15" fill="#bcd89c" stroke="#62963f" stroke-width="1.15"/>
<circle cx="14.7" cy="13.5" r="2.15" fill="#bcd89c" stroke="#62963f" stroke-width="1.15"/>
<circle cx="20.3" cy="15.8" r="2.15" fill="#bcd89c" stroke="#62963f" stroke-width="1.15"/>
<circle cx="43.6" cy="16.0" r="2.15" fill="#bcd89c" stroke="#62963f" stroke-width="1.15"/>
<circle cx="51.9" cy="15.8" r="2.15" fill="#bcd89c" stroke="#62963f" stroke-width="1.15"/>
<circle cx="60.2" cy="15.2" r="2.15" fill="#bcd89c" stroke="#62963f" stroke-width="1.15"/>
<circle cx="68.4" cy="12.9" r="2.15" fill="#bcd89c" stroke="#62963f" stroke-width="1.15"/>
<circle cx="2.3" cy="22.7" r="2.15" fill="#bcd89c" stroke="#62963f" stroke-width="1.15"/>
<circle cx="27.6" cy="20.6" r="2.15" fill="#bcd89c" stroke="#62963f" stroke-width="1.15"/>
<circle cx="33.7" cy="20.5" r="2.15" fill="#bcd89c" stroke="#62963f" stroke-width="1.15"/>
<circle cx="38.7" cy="21.3" r="2.15" fill="#bcd89c" stroke="#62963f" stroke-width="1.15"/>
<circle cx="47.5" cy="20.4" r="2.15" fill="#bcd89c" stroke="#62963f" stroke-width="1.15"/>
<circle cx="62.6" cy="22.9" r="2.15" fill="#bcd89c" stroke="#62963f" stroke-width="1.15"/>
<circle cx="68.7" cy="22.9" r="2.15" fill="#bcd89c" stroke="#62963f" stroke-width="1.15"/>
<circle cx="1.3" cy="29.4" r="2.15" fill="#bcd89c" stroke="#62963f" stroke-width="1.15"/>
<circle cx="8.3" cy="28.9" r="2.15" fill="#bcd89c" stroke="#62963f" stroke-width="1.15"/>
<circle cx="13.8" cy="26.9" r="2.15" fill="#bcd89c" stroke="#62963f" stroke-width="1.15"/>
<circle cx="22.6" cy="26.7" r="2.15" fill="#bcd89c" stroke="#62963f" stroke-width="1.15"/>
<circle cx="30.0" cy="28.3" r="2.15" fill="#bcd89c" stroke="#62963f" stroke-width="1.15"/>
<circle cx="38.5" cy="27.8" r="2.15" fill="#bcd89c" stroke="#62963f" stroke-width="1.15"/>
<circle cx="44.4" cy="28.5" r="2.15" fill="#bcd89c" stroke="#62963f" stroke-width="1.15"/>
<circle cx="53.5" cy="28.1" r="2.15" fill="#bcd89c" stroke="#62963f" stroke-width="1.15"/>
<circle cx="58.6" cy="28.9" r="2.15" fill="#bcd89c" stroke="#62963f" stroke-width="1.15"/>
<circle cx="67.3" cy="27.8" r="2.15" fill="#bcd89c" stroke="#62963f" stroke-width="1.15"/>
<circle cx="10.8" cy="36.2" r="2.15" fill="#bcd89c" stroke="#62963f" stroke-width="1.15"/>
<circle cx="20.4" cy="34.9" r="2.15" fill="#bcd89c" stroke="#62963f" stroke-width="1.15"/>
<circle cx="26.2" cy="36.0" r="2.15" fill="#bcd89c" stroke="#62963f" stroke-width="1.15"/>
<circle cx="39.3" cy="34.4" r="2.15" fill="#bcd89c" stroke="#62963f" stroke-width="1.15"/>
<circle cx="50.0" cy="34.0" r="2.15" fill="#bcd89c" stroke="#62963f" stroke-width="1.15"/>
<circle cx="54.7" cy="34.0" r="2.15" fill="#bcd89c" stroke="#62963f" stroke-width="1.15"/>
<circle cx="61.3" cy="33.7" r="2.15" fill="#bcd89c" stroke="#62963f" stroke-width="1.15"/>
<circle cx="6.2" cy="40.7" r="2.15" fill="#bcd89c" stroke="#62963f" stroke-width="1.15"/>
<circle cx="20.4" cy="40.9" r="2.15" fill="#bcd89c" stroke="#62963f" stroke-width="1.15"/>
<circle cx="31.1" cy="42.5" r="2.15" fill="#bcd89c" stroke="#62963f" stroke-width="1.15"/>
<circle cx="37.8" cy="43.0" r="2.15" fill="#bcd89c" stroke="#62963f" stroke-width="1.15"/>
<circle cx="43.0" cy="40.3" r="2.15" fill="#bcd89c" stroke="#62963f" stroke-width="1.15"/>
<circle cx="51.9" cy="42.0" r="2.15" fill="#bcd89c" stroke="#62963f" stroke-width="1.15"/>
<circle cx="57.9" cy="42.6" r="2.15" fill="#bcd89c" stroke="#62963f" stroke-width="1.15"/>
<circle cx="66.3" cy="41.0" r="2.15" fill="#bcd89c" stroke="#62963f" stroke-width="1.15"/>
<circle cx="4.0" cy="48.9" r="2.15" fill="#bcd89c" stroke="#62963f" stroke-width="1.15"/>
<circle cx="10.2" cy="49.5" r="2.15" fill="#bcd89c" stroke="#62963f" stroke-width="1.15"/>
<circle cx="24.5" cy="50.0" r="2.15" fill="#bcd89c" stroke="#62963f" stroke-width="1.15"/>
<circle cx="32.3" cy="49.8" r="2.15" fill="#bcd89c" stroke="#62963f" stroke-width="1.15"/>
<circle cx="39.9" cy="47.3" r="2.15" fill="#bcd89c" stroke="#62963f" stroke-width="1.15"/>
<circle cx="46.5" cy="49.4" r="2.15" fill="#bcd89c" stroke="#62963f" stroke-width="1.15"/>
<circle cx="55.2" cy="49.5" r="2.15" fill="#bcd89c" stroke="#62963f" stroke-width="1.15"/>
<circle cx="62.2" cy="48.2" r="2.15" fill="#bcd89c" stroke="#62963f" stroke-width="1.15"/>
<circle cx="-1.6" cy="54.1" r="2.15" fill="#bcd89c" stroke="#62963f" stroke-width="1.15"/>
<circle cx="8.7" cy="55.3" r="2.15" fill="#bcd89c" stroke="#62963f" stroke-width="1.15"/>
<circle cx="13.4" cy="53.7" r="2.15" fill="#bcd89c" stroke="#62963f" stroke-width="1.15"/>
<circle cx="21.2" cy="54.3" r="2.15" fill="#bcd89c" stroke="#62963f" stroke-width="1.15"/>
<circle cx="27.7" cy="55.0" r="2.15" fill="#bcd89c" stroke="#62963f" stroke-width="1.15"/>
<circle cx="38.0" cy="54.1" r="2.15" fill="#bcd89c" stroke="#62963f" stroke-width="1.15"/>
<circle cx="44.7" cy="56.0" r="2.15" fill="#bcd89c" stroke="#62963f" stroke-width="1.15"/>
<circle cx="53.0" cy="55.9" r="2.15" fill="#bcd89c" stroke="#62963f" stroke-width="1.15"/>
<circle cx="59.2" cy="55.7" r="2.15" fill="#bcd89c" stroke="#62963f" stroke-width="1.15"/>
<circle cx="67.1" cy="55.1" r="2.15" fill="#bcd89c" stroke="#62963f" stroke-width="1.15"/>
<circle cx="10.5" cy="62.1" r="2.15" fill="#bcd89c" stroke="#62963f" stroke-width="1.15"/>
<circle cx="18.7" cy="62.0" r="2.15" fill="#bcd89c" stroke="#62963f" stroke-width="1.15"/>
<circle cx="26.3" cy="62.5" r="2.15" fill="#bcd89c" stroke="#62963f" stroke-width="1.15"/>
<circle cx="33.1" cy="62.5" r="2.15" fill="#bcd89c" stroke="#62963f" stroke-width="1.15"/>
<circle cx="41.6" cy="63.2" r="2.15" fill="#bcd89c" stroke="#62963f" stroke-width="1.15"/>
<circle cx="48.3" cy="62.5" r="2.15" fill="#bcd89c" stroke="#62963f" stroke-width="1.15"/>
<circle cx="62.6" cy="62.3" r="2.15" fill="#bcd89c" stroke="#62963f" stroke-width="1.15"/>
<circle cx="68.5" cy="61.8" r="2.15" fill="#bcd89c" stroke="#62963f" stroke-width="1.15"/>
<circle cx="-0.2" cy="70.4" r="2.15" fill="#bcd89c" stroke="#62963f" stroke-width="1.15"/>
<circle cx="14.5" cy="69.4" r="2.15" fill="#bcd89c" stroke="#62963f" stroke-width="1.15"/>
<circle cx="30.8" cy="70.0" r="2.15" fill="#bcd89c" stroke="#62963f" stroke-width="1.15"/>
<circle cx="36.7" cy="67.5" r="2.15" fill="#bcd89c" stroke="#62963f" stroke-width="1.15"/>
<circle cx="44.2" cy="69.9" r="2.15" fill="#bcd89c" stroke="#62963f" stroke-width="1.15"/>
<circle cx="51.4" cy="70.5" r="2.15" fill="#bcd89c" stroke="#62963f" stroke-width="1.15"/>
<circle cx="64.9" cy="70.8" r="2.15" fill="#bcd89c" stroke="#62963f" stroke-width="1.15"/>
<circle cx="3.5" cy="77.5" r="2.15" fill="#bcd89c" stroke="#62963f" stroke-width="1.15"/>
<circle cx="11.1" cy="74.4" r="2.15" fill="#bcd89c" stroke="#62963f" stroke-width="1.15"/>
<circle cx="19.1" cy="75.0" r="2.15" fill="#bcd89c" stroke="#62963f" stroke-width="1.15"/>
<circle cx="35.0" cy="77.3" r="2.15" fill="#bcd89c" stroke="#62963f" stroke-width="1.15"/>
<circle cx="38.8" cy="77.1" r="2.15" fill="#bcd89c" stroke="#62963f" stroke-width="1.15"/>
<circle cx="49.0" cy="76.0" r="2.15" fill="#bcd89c" stroke="#62963f" stroke-width="1.15"/>
<circle cx="54.1" cy="77.0" r="2.15" fill="#bcd89c" stroke="#62963f" stroke-width="1.15"/>
<circle cx="61.0" cy="76.2" r="2.15" fill="#bcd89c" stroke="#62963f" stroke-width="1.15"/>
<circle cx="71.1" cy="77.6" r="2.15" fill="#bcd89c" stroke="#62963f" stroke-width="1.15"/>
<circle cx="49.0" cy="38.1" r="1.8" fill="#f0b8c6" stroke="#d06e88" stroke-width="1.0"/>
<circle cx="44.5" cy="20.1" r="1.8" fill="#f0b8c6" stroke="#d06e88" stroke-width="1.0"/>
<circle cx="34.7" cy="10.5" r="1.8" fill="#f0b8c6" stroke="#d06e88" stroke-width="1.0"/>
<circle cx="52.9" cy="6.8" r="1.8" fill="#f0b8c6" stroke="#d06e88" stroke-width="1.0"/>
<circle cx="38.9" cy="15.1" r="1.8" fill="#f0b8c6" stroke="#d06e88" stroke-width="1.0"/>
<circle cx="41.5" cy="6.1" r="1.8" fill="#f0b8c6" stroke="#d06e88" stroke-width="1.0"/>
<circle cx="3.0" cy="47.6" r="1.8" fill="#f0b8c6" stroke="#d06e88" stroke-width="1.0"/>
<circle cx="52.8" cy="66.8" r="1.8" fill="#f0b8c6" stroke="#d06e88" stroke-width="1.0"/>
<circle cx="49.8" cy="74.7" r="1.8" fill="#f0b8c6" stroke="#d06e88" stroke-width="1.0"/>
<circle cx="11.3" cy="47.9" r="1.8" fill="#f0b8c6" stroke="#d06e88" stroke-width="1.0"/>
<circle cx="46.8" cy="14.8" r="1.8" fill="#f0b8c6" stroke="#d06e88" stroke-width="1.0"/>
<circle cx="11.1" cy="19.6" r="1.8" fill="#f0b8c6" stroke="#d06e88" stroke-width="1.0"/>
<circle cx="38.7" cy="59.5" r="1.8" fill="#f0b8c6" stroke="#d06e88" stroke-width="1.0"/>
<circle cx="52.2" cy="43.7" r="1.8" fill="#f0b8c6" stroke="#d06e88" stroke-width="1.0"/>
<circle cx="6.6" cy="54.7" r="1.8" fill="#f0b8c6" stroke="#d06e88" stroke-width="1.0"/>
<circle cx="37.9" cy="14.4" r="1.8" fill="#f0b8c6" stroke="#d06e88" stroke-width="1.0"/>
<circle cx="45.5" cy="19.9" r="1.8" fill="#f0b8c6" stroke="#d06e88" stroke-width="1.0"/>
<circle cx="23.2" cy="34.9" r="1.8" fill="#f0b8c6" stroke="#d06e88" stroke-width="1.0"/>
<circle cx="0.0" cy="9.5" r="3.4" fill="#e8363e" stroke="#c41018" stroke-width="1.7"/>
<circle cx="74.0" cy="9.5" r="3.4" fill="#e8363e" stroke="#c41018" stroke-width="1.7"/>
<circle cx="18.5" cy="9.5" r="2.9" fill="#f0a2c2" stroke="#c44a7c" stroke-width="1.6"/>
<circle cx="18.5" cy="9.5" r="1.1" fill="#fde8f0"/>
<circle cx="37.0" cy="9.5" r="2.8" fill="#56bcb4" stroke="#1b857e" stroke-width="1.5"/>
<circle cx="55.5" cy="9.5" r="2.9" fill="#f0a2c2" stroke="#c44a7c" stroke-width="1.6"/>
<circle cx="55.5" cy="9.5" r="1.1" fill="#fde8f0"/>
<circle cx="0.0" cy="27.0" r="2.8" fill="#56bcb4" stroke="#1b857e" stroke-width="1.5"/>
<circle cx="74.0" cy="27.0" r="2.8" fill="#56bcb4" stroke="#1b857e" stroke-width="1.5"/>
<circle cx="18.5" cy="27.0" r="4.2" fill="#fffaf2"/>
<circle cx="37.0" cy="27.0" r="2.9" fill="#f0a2c2" stroke="#c44a7c" stroke-width="1.6"/>
<circle cx="37.0" cy="27.0" r="1.1" fill="#fde8f0"/>
<circle cx="55.5" cy="27.0" r="4.2" fill="#fffaf2"/>
<circle cx="0.0" cy="44.8" r="2.9" fill="#f0a2c2" stroke="#c44a7c" stroke-width="1.6"/>
<circle cx="0.0" cy="44.8" r="1.1" fill="#fde8f0"/>
<circle cx="74.0" cy="44.8" r="2.9" fill="#f0a2c2" stroke="#c44a7c" stroke-width="1.6"/>
<circle cx="74.0" cy="44.8" r="1.1" fill="#fde8f0"/>
<circle cx="18.5" cy="44.8" r="2.8" fill="#56bcb4" stroke="#1b857e" stroke-width="1.5"/>
<circle cx="37.0" cy="44.8" r="2.9" fill="#f0a2c2" stroke="#c44a7c" stroke-width="1.6"/>
<circle cx="37.0" cy="44.8" r="1.1" fill="#fde8f0"/>
<circle cx="55.5" cy="44.8" r="2.8" fill="#56bcb4" stroke="#1b857e" stroke-width="1.5"/>
<circle cx="0.0" cy="62.4" r="4.2" fill="#fffaf2"/>
<circle cx="74.0" cy="62.4" r="4.2" fill="#fffaf2"/>
<circle cx="18.5" cy="62.4" r="2.9" fill="#f0a2c2" stroke="#c44a7c" stroke-width="1.6"/>
<circle cx="18.5" cy="62.4" r="1.1" fill="#fde8f0"/>
<circle cx="37.0" cy="62.4" r="4.2" fill="#fffaf2"/>
<circle cx="55.5" cy="62.4" r="3.4" fill="#e8363e" stroke="#c41018" stroke-width="1.7"/>
<circle cx="0.0" cy="71.2" r="2.8" fill="#56bcb4" stroke="#1b857e" stroke-width="1.5"/>
<circle cx="74.0" cy="71.2" r="2.8" fill="#56bcb4" stroke="#1b857e" stroke-width="1.5"/>
<circle cx="18.5" cy="71.2" r="2.9" fill="#f0a2c2" stroke="#c44a7c" stroke-width="1.6"/>
<circle cx="18.5" cy="71.2" r="1.1" fill="#fde8f0"/>
<circle cx="37.0" cy="71.2" r="2.8" fill="#56bcb4" stroke="#1b857e" stroke-width="1.5"/>
<circle cx="55.5" cy="71.2" r="2.9" fill="#f0a2c2" stroke="#c44a7c" stroke-width="1.6"/>
<circle cx="55.5" cy="71.2" r="1.1" fill="#fde8f0"/></g>
<g id="liA"><circle cx="45.6" cy="35.4" r="2.7" fill="#b8dda4" stroke="#4f9142" stroke-width="1.3"/>
<circle cx="53.8" cy="43.5" r="2.7" fill="#b8dda4" stroke="#4f9142" stroke-width="1.3"/>
<circle cx="58.1" cy="44.3" r="2.7" fill="#b8dda4" stroke="#4f9142" stroke-width="1.3"/>
<circle cx="68.0" cy="31.2" r="2.7" fill="#b8dda4" stroke="#4f9142" stroke-width="1.3"/>
<circle cx="71.6" cy="28.6" r="2.7" fill="#b8dda4" stroke="#4f9142" stroke-width="1.3"/>
<circle cx="34.8" cy="13.1" r="2.7" fill="#b8dda4" stroke="#4f9142" stroke-width="1.3"/>
<circle cx="30.6" cy="11.9" r="2.7" fill="#b8dda4" stroke="#4f9142" stroke-width="1.3"/>
<circle cx="2.9" cy="11.8" r="2.7" fill="#b8dda4" stroke="#4f9142" stroke-width="1.3"/>
<circle cx="55.6" cy="9.2" r="2.7" fill="#b8dda4" stroke="#4f9142" stroke-width="1.3"/>
<circle cx="56.9" cy="5.0" r="2.7" fill="#b8dda4" stroke="#4f9142" stroke-width="1.3"/>
<circle cx="45.2" cy="7.7" r="2.7" fill="#b8dda4" stroke="#4f9142" stroke-width="1.3"/>
<circle cx="16.7" cy="11.7" r="2.7" fill="#b8dda4" stroke="#4f9142" stroke-width="1.3"/>
<circle cx="22.3" cy="45.3" r="2.7" fill="#b8dda4" stroke="#4f9142" stroke-width="1.3"/>
<circle cx="16.3" cy="44.3" r="2.7" fill="#b8dda4" stroke="#4f9142" stroke-width="1.3"/>
<circle cx="64.6" cy="15.4" r="2.7" fill="#b8dda4" stroke="#4f9142" stroke-width="1.3"/>
<circle cx="61.7" cy="18.8" r="2.7" fill="#b8dda4" stroke="#4f9142" stroke-width="1.3"/>
<circle cx="12.2" cy="4.9" r="2.7" fill="#b8dda4" stroke="#4f9142" stroke-width="1.3"/>
<circle cx="2.2" cy="32.5" r="2.7" fill="#b8dda4" stroke="#4f9142" stroke-width="1.3"/>
<circle cx="23.7" cy="38.8" r="2.7" fill="#b8dda4" stroke="#4f9142" stroke-width="1.3"/>
<circle cx="19.3" cy="39.4" r="2.7" fill="#b8dda4" stroke="#4f9142" stroke-width="1.3"/>
<circle cx="35.7" cy="33.7" r="2.7" fill="#b8dda4" stroke="#4f9142" stroke-width="1.3"/>
<circle cx="61.1" cy="2.8" r="2.7" fill="#b8dda4" stroke="#4f9142" stroke-width="1.3"/>
<circle cx="27.6" cy="28.0" r="2.7" fill="#b8dda4" stroke="#4f9142" stroke-width="1.3"/>
<circle cx="32.0" cy="28.3" r="2.7" fill="#b8dda4" stroke="#4f9142" stroke-width="1.3"/>
<circle cx="15.8" cy="36.0" r="2.7" fill="#b8dda4" stroke="#4f9142" stroke-width="1.3"/>
<circle cx="26.1" cy="18.0" r="2.7" fill="#b8dda4" stroke="#4f9142" stroke-width="1.3"/>
<circle cx="9.6" cy="35.7" r="2.7" fill="#b8dda4" stroke="#4f9142" stroke-width="1.3"/>
<circle cx="4.6" cy="44.6" r="2.7" fill="#b8dda4" stroke="#4f9142" stroke-width="1.3"/>
<circle cx="8.3" cy="46.9" r="2.7" fill="#b8dda4" stroke="#4f9142" stroke-width="1.3"/>
<circle cx="44.8" cy="43.3" r="2.7" fill="#b8dda4" stroke="#4f9142" stroke-width="1.3"/>
<circle cx="40.2" cy="16.1" r="2.7" fill="#b8dda4" stroke="#4f9142" stroke-width="1.3"/>
<circle cx="38.4" cy="20.1" r="2.7" fill="#b8dda4" stroke="#4f9142" stroke-width="1.3"/>
<circle cx="7.5" cy="8.7" r="2.7" fill="#b8dda4" stroke="#4f9142" stroke-width="1.3"/>
<circle cx="43.6" cy="39.2" r="2.7" fill="#b8dda4" stroke="#4f9142" stroke-width="1.3"/>
<circle cx="39.3" cy="40.4" r="2.7" fill="#b8dda4" stroke="#4f9142" stroke-width="1.3"/>
<circle cx="4.3" cy="24.2" r="2.7" fill="#b8dda4" stroke="#4f9142" stroke-width="1.3"/>
<circle cx="6.6" cy="20.5" r="2.7" fill="#b8dda4" stroke="#4f9142" stroke-width="1.3"/>
<circle cx="12.4" cy="40.0" r="2.7" fill="#b8dda4" stroke="#4f9142" stroke-width="1.3"/>
<circle cx="11.2" cy="44.2" r="2.7" fill="#b8dda4" stroke="#4f9142" stroke-width="1.3"/>
<circle cx="72.0" cy="40.4" r="2.7" fill="#b8dda4" stroke="#4f9142" stroke-width="1.3"/>
<circle cx="33.7" cy="24.0" r="2.7" fill="#b8dda4" stroke="#4f9142" stroke-width="1.3"/>
<circle cx="33.2" cy="19.6" r="2.7" fill="#b8dda4" stroke="#4f9142" stroke-width="1.3"/>
<circle cx="22.4" cy="20.2" r="2.7" fill="#b8dda4" stroke="#4f9142" stroke-width="1.3"/>
<circle cx="25.0" cy="23.7" r="2.7" fill="#b8dda4" stroke="#4f9142" stroke-width="1.3"/>
<circle cx="71.2" cy="45.2" r="2.7" fill="#b8dda4" stroke="#4f9142" stroke-width="1.3"/>
<circle cx="68.1" cy="42.0" r="2.7" fill="#b8dda4" stroke="#4f9142" stroke-width="1.3"/>
<circle cx="25.7" cy="6.0" r="2.7" fill="#b8dda4" stroke="#4f9142" stroke-width="1.3"/>
<circle cx="57.0" cy="36.9" r="2.7" fill="#b8dda4" stroke="#4f9142" stroke-width="1.3"/>
<circle cx="55.2" cy="18.4" r="2.7" fill="#b8dda4" stroke="#4f9142" stroke-width="1.3"/>
<circle cx="53.9" cy="14.1" r="2.7" fill="#b8dda4" stroke="#4f9142" stroke-width="1.3"/>
<circle cx="42.6" cy="2.5" r="2.7" fill="#b8dda4" stroke="#4f9142" stroke-width="1.3"/>
<circle cx="38.4" cy="1.2" r="2.7" fill="#b8dda4" stroke="#4f9142" stroke-width="1.3"/>
<circle cx="49.0" cy="22.8" r="2.7" fill="#b8dda4" stroke="#4f9142" stroke-width="1.3"/>
<circle cx="61.0" cy="41.1" r="2.7" fill="#b8dda4" stroke="#4f9142" stroke-width="1.3"/>
<circle cx="69.0" cy="25.3" r="2.7" fill="#b8dda4" stroke="#4f9142" stroke-width="1.3"/>
<circle cx="64.6" cy="24.5" r="2.7" fill="#b8dda4" stroke="#4f9142" stroke-width="1.3"/>
<circle cx="52.4" cy="34.9" r="2.7" fill="#b8dda4" stroke="#4f9142" stroke-width="1.3"/>
<circle cx="42.7" cy="32.0" r="2.7" fill="#b8dda4" stroke="#4f9142" stroke-width="1.3"/>
<circle cx="56.2" cy="30.7" r="2.7" fill="#b8dda4" stroke="#4f9142" stroke-width="1.3"/>
<circle cx="55.4" cy="26.3" r="2.7" fill="#b8dda4" stroke="#4f9142" stroke-width="1.3"/></g>
<g id="blobB"><path d="M11.2,42.8L14.7,49.1M11.2,42.8L5.8,44.3M11.2,42.8L7.9,37.4M43.2,29.7L41.2,24.7M43.2,29.7L38.6,33.0M43.2,29.7L47.0,24.4M14.7,49.1L17.2,43.2M14.7,49.1L17.5,53.7M14.7,49.1L9.9,51.5M14.7,49.1L20.6,48.5M54.9,31.8L57.4,26.2M34.3,14.6L33.8,7.2M34.3,14.6L28.5,10.6M0.2,23.0L5.2,25.1M39.8,4.3L33.8,7.2M39.8,4.3L44.6,7.8M39.8,4.3L44.5,1.3M39.8,4.3L38.2,10.3M54.0,14.4L47.9,12.8M15.8,2.6L10.7,0.5M59.5,38.2L56.9,43.1M33.8,7.2L28.5,10.6M33.8,7.2L33.3,1.8M33.8,7.2L38.2,10.3M8.5,57.5L9.9,51.5M8.5,57.5L12.0,61.6M30.8,34.2L32.9,29.3M23.3,30.1L18.9,34.1M39.5,45.2L37.8,38.6M39.5,45.2L33.4,44.5M39.5,45.2L38.8,50.7M8.3,29.5L12.8,25.0M62.8,55.0L61.1,61.0M62.8,55.0L66.7,59.9M27.9,22.6L25.5,15.3M27.9,22.6L35.2,24.1M1.8,5.8L7.3,4.7M1.8,5.8L4.5,0.2M1.8,5.8L6.6,10.5M48.8,61.6L54.9,61.6M15.1,37.8L17.2,43.2M15.1,37.8L13.9,31.9M15.1,37.8L18.9,34.1M37.8,38.6L38.6,33.0M12.3,10.5L11.7,16.8M12.3,10.5L6.6,10.5M23.7,57.5L27.7,61.3M23.7,57.5L30.9,55.5M23.7,57.5L25.2,51.2M23.7,57.5L17.5,53.7M23.6,37.0L25.7,44.0M23.6,37.0L28.8,39.7M20.8,6.4L21.0,0.7M52.8,23.2L50.5,28.7M46.5,41.9L45.2,36.1M46.5,41.9L44.8,47.0M27.7,61.3L30.9,55.5M25.5,15.3L28.5,10.6M17.5,18.0L18.9,23.5M17.5,18.0L19.8,13.1M61.1,61.0L54.9,61.6M17.2,59.5L12.0,61.6M1.9,13.1L6.4,19.2M1.9,13.1L6.6,10.5M57.0,49.3L54.9,56.2M57.0,49.3L56.9,43.1M57.0,49.3L62.4,47.2M1.6,36.8L7.9,37.4M43.8,52.8L44.8,47.0M39.7,15.9L46.4,18.3M44.6,7.8L47.9,12.8M44.6,7.8L51.7,6.0M44.6,7.8L38.2,10.3M17.2,43.2L20.6,48.5M7.3,4.7L4.5,0.2M7.3,4.7L6.6,10.5M35.2,24.1L41.2,24.7M35.2,24.1L32.9,29.3M43.0,59.7L37.5,61.7M33.4,44.5L32.9,50.4M50.5,28.7L57.4,26.2M18.9,23.5L12.8,25.0M6.4,19.2L11.7,16.8M6.4,19.2L5.2,25.1M30.9,55.5L32.9,50.4M12.8,25.0L13.9,31.9M12.8,25.0L5.2,25.1M54.9,56.2L49.2,55.6M54.9,56.2L54.9,61.6M36.3,56.3L32.9,50.4M26.8,0.2L33.3,1.8M26.8,0.2L21.0,0.7M45.2,36.1L51.3,39.4M45.2,36.1L38.6,33.0M25.2,51.2L20.6,48.5M46.4,18.3L47.0,24.4M44.5,1.3L51.3,0.5M51.3,39.4L56.9,43.1M5.8,44.3L7.9,37.4M5.8,44.3L0.0,45.7M38.8,50.7L44.8,47.0M4.5,0.2L10.7,0.5M38.6,33.0L32.9,29.3M56.9,43.1L62.4,47.2" stroke="#8c98c0" stroke-width="1.5" fill="none"/>
<circle cx="11.2" cy="42.8" r="2.55" fill="#cde8bc" stroke="#5e9e4c" stroke-width="1.15"/>
<circle cx="43.2" cy="29.7" r="2.55" fill="#cde8bc" stroke="#5e9e4c" stroke-width="1.15"/>
<circle cx="14.7" cy="49.1" r="2.55" fill="#cde8bc" stroke="#5e9e4c" stroke-width="1.15"/>
<circle cx="54.9" cy="31.8" r="2.55" fill="#cde8bc" stroke="#5e9e4c" stroke-width="1.15"/>
<circle cx="34.3" cy="14.6" r="2.2" fill="#b4bad8" stroke="#8088b4" stroke-width="1.2"/>
<circle cx="0.2" cy="23.0" r="2.55" fill="#cde8bc" stroke="#5e9e4c" stroke-width="1.15"/>
<circle cx="39.8" cy="4.3" r="2.55" fill="#cde8bc" stroke="#5e9e4c" stroke-width="1.15"/>
<circle cx="54.0" cy="14.4" r="2.55" fill="#cde8bc" stroke="#5e9e4c" stroke-width="1.15"/>
<circle cx="15.8" cy="2.6" r="2.55" fill="#cde8bc" stroke="#5e9e4c" stroke-width="1.15"/>
<circle cx="59.5" cy="38.2" r="2.55" fill="#cde8bc" stroke="#5e9e4c" stroke-width="1.15"/>
<circle cx="33.8" cy="7.2" r="2.55" fill="#cde8bc" stroke="#5e9e4c" stroke-width="1.15"/>
<circle cx="8.5" cy="57.5" r="2.55" fill="#cde8bc" stroke="#5e9e4c" stroke-width="1.15"/>
<circle cx="30.8" cy="34.2" r="2.2" fill="#b4bad8" stroke="#8088b4" stroke-width="1.2"/>
<circle cx="23.3" cy="30.1" r="2.55" fill="#cde8bc" stroke="#5e9e4c" stroke-width="1.15"/>
<circle cx="51.3" cy="47.3" r="2.55" fill="#cde8bc" stroke="#5e9e4c" stroke-width="1.15"/>
<circle cx="39.5" cy="45.2" r="2.55" fill="#cde8bc" stroke="#5e9e4c" stroke-width="1.15"/>
<circle cx="8.3" cy="29.5" r="2.55" fill="#cde8bc" stroke="#5e9e4c" stroke-width="1.15"/>
<circle cx="62.8" cy="55.0" r="2.55" fill="#cde8bc" stroke="#5e9e4c" stroke-width="1.15"/>
<circle cx="27.9" cy="22.6" r="2.55" fill="#cde8bc" stroke="#5e9e4c" stroke-width="1.15"/>
<circle cx="1.8" cy="5.8" r="2.55" fill="#cde8bc" stroke="#5e9e4c" stroke-width="1.15"/>
<circle cx="48.8" cy="61.6" r="2.55" fill="#cde8bc" stroke="#5e9e4c" stroke-width="1.15"/>
<circle cx="15.1" cy="37.8" r="2.2" fill="#b4bad8" stroke="#8088b4" stroke-width="1.2"/>
<circle cx="37.8" cy="38.6" r="2.55" fill="#cde8bc" stroke="#5e9e4c" stroke-width="1.15"/>
<circle cx="12.3" cy="10.5" r="2.55" fill="#cde8bc" stroke="#5e9e4c" stroke-width="1.15"/>
<circle cx="23.7" cy="57.5" r="2.55" fill="#cde8bc" stroke="#5e9e4c" stroke-width="1.15"/>
<circle cx="23.6" cy="37.0" r="2.55" fill="#cde8bc" stroke="#5e9e4c" stroke-width="1.15"/>
<circle cx="20.8" cy="6.4" r="2.55" fill="#cde8bc" stroke="#5e9e4c" stroke-width="1.15"/>
<circle cx="4.5" cy="50.4" r="2.2" fill="#b4bad8" stroke="#8088b4" stroke-width="1.2"/>
<circle cx="52.8" cy="23.2" r="2.2" fill="#b4bad8" stroke="#8088b4" stroke-width="1.2"/>
<circle cx="46.5" cy="41.9" r="2.2" fill="#b4bad8" stroke="#8088b4" stroke-width="1.2"/>
<circle cx="27.7" cy="61.3" r="2.55" fill="#cde8bc" stroke="#5e9e4c" stroke-width="1.15"/>
<circle cx="25.5" cy="15.3" r="2.55" fill="#cde8bc" stroke="#5e9e4c" stroke-width="1.15"/>
<circle cx="17.5" cy="18.0" r="2.55" fill="#cde8bc" stroke="#5e9e4c" stroke-width="1.15"/>
<circle cx="28.5" cy="10.6" r="2.55" fill="#cde8bc" stroke="#5e9e4c" stroke-width="1.15"/>
<circle cx="61.1" cy="61.0" r="2.2" fill="#b4bad8" stroke="#8088b4" stroke-width="1.2"/>
<circle cx="17.2" cy="59.5" r="2.55" fill="#cde8bc" stroke="#5e9e4c" stroke-width="1.15"/>
<circle cx="1.9" cy="13.1" r="2.55" fill="#cde8bc" stroke="#5e9e4c" stroke-width="1.15"/>
<circle cx="57.0" cy="49.3" r="2.55" fill="#cde8bc" stroke="#5e9e4c" stroke-width="1.15"/>
<circle cx="1.6" cy="36.8" r="2.55" fill="#cde8bc" stroke="#5e9e4c" stroke-width="1.15"/>
<circle cx="43.8" cy="52.8" r="2.55" fill="#cde8bc" stroke="#5e9e4c" stroke-width="1.15"/>
<circle cx="39.7" cy="15.9" r="2.55" fill="#cde8bc" stroke="#5e9e4c" stroke-width="1.15"/>
<circle cx="44.6" cy="7.8" r="2.2" fill="#b4bad8" stroke="#8088b4" stroke-width="1.2"/>
<circle cx="25.7" cy="44.0" r="2.55" fill="#cde8bc" stroke="#5e9e4c" stroke-width="1.15"/>
<circle cx="0.5" cy="28.8" r="2.55" fill="#cde8bc" stroke="#5e9e4c" stroke-width="1.15"/>
<circle cx="17.2" cy="43.2" r="2.55" fill="#cde8bc" stroke="#5e9e4c" stroke-width="1.15"/>
<circle cx="7.3" cy="4.7" r="2.55" fill="#cde8bc" stroke="#5e9e4c" stroke-width="1.15"/>
<circle cx="35.2" cy="24.1" r="2.55" fill="#cde8bc" stroke="#5e9e4c" stroke-width="1.15"/>
<circle cx="43.0" cy="59.7" r="2.55" fill="#cde8bc" stroke="#5e9e4c" stroke-width="1.15"/>
<circle cx="33.4" cy="44.5" r="2.55" fill="#cde8bc" stroke="#5e9e4c" stroke-width="1.15"/>
<circle cx="50.5" cy="28.7" r="2.55" fill="#cde8bc" stroke="#5e9e4c" stroke-width="1.15"/>
<circle cx="47.9" cy="12.8" r="2.55" fill="#cde8bc" stroke="#5e9e4c" stroke-width="1.15"/>
<circle cx="18.9" cy="23.5" r="2.55" fill="#cde8bc" stroke="#5e9e4c" stroke-width="1.15"/>
<circle cx="6.4" cy="19.2" r="2.55" fill="#cde8bc" stroke="#5e9e4c" stroke-width="1.15"/>
<circle cx="30.9" cy="55.5" r="2.2" fill="#b4bad8" stroke="#8088b4" stroke-width="1.2"/>
<circle cx="12.8" cy="25.0" r="2.55" fill="#cde8bc" stroke="#5e9e4c" stroke-width="1.15"/>
<circle cx="54.9" cy="56.2" r="2.55" fill="#cde8bc" stroke="#5e9e4c" stroke-width="1.15"/>
<circle cx="36.3" cy="56.3" r="2.55" fill="#cde8bc" stroke="#5e9e4c" stroke-width="1.15"/>
<circle cx="28.8" cy="39.7" r="2.55" fill="#cde8bc" stroke="#5e9e4c" stroke-width="1.15"/>
<circle cx="26.8" cy="0.2" r="2.55" fill="#cde8bc" stroke="#5e9e4c" stroke-width="1.15"/>
<circle cx="45.2" cy="36.1" r="2.55" fill="#cde8bc" stroke="#5e9e4c" stroke-width="1.15"/>
<circle cx="25.2" cy="51.2" r="2.55" fill="#cde8bc" stroke="#5e9e4c" stroke-width="1.15"/>
<circle cx="46.4" cy="18.3" r="2.55" fill="#cde8bc" stroke="#5e9e4c" stroke-width="1.15"/>
<circle cx="44.5" cy="1.3" r="2.55" fill="#cde8bc" stroke="#5e9e4c" stroke-width="1.15"/>
<circle cx="51.3" cy="39.4" r="2.55" fill="#cde8bc" stroke="#5e9e4c" stroke-width="1.15"/>
<circle cx="51.7" cy="6.0" r="2.55" fill="#cde8bc" stroke="#5e9e4c" stroke-width="1.15"/>
<circle cx="5.8" cy="44.3" r="2.55" fill="#cde8bc" stroke="#5e9e4c" stroke-width="1.15"/>
<circle cx="41.2" cy="24.7" r="2.55" fill="#cde8bc" stroke="#5e9e4c" stroke-width="1.15"/>
<circle cx="17.5" cy="53.7" r="2.55" fill="#cde8bc" stroke="#5e9e4c" stroke-width="1.15"/>
<circle cx="13.9" cy="31.9" r="2.55" fill="#cde8bc" stroke="#5e9e4c" stroke-width="1.15"/>
<circle cx="32.9" cy="50.4" r="2.55" fill="#cde8bc" stroke="#5e9e4c" stroke-width="1.15"/>
<circle cx="37.5" cy="61.7" r="2.55" fill="#cde8bc" stroke="#5e9e4c" stroke-width="1.15"/>
<circle cx="38.8" cy="50.7" r="2.55" fill="#cde8bc" stroke="#5e9e4c" stroke-width="1.15"/>
<circle cx="4.5" cy="0.2" r="2.2" fill="#b4bad8" stroke="#8088b4" stroke-width="1.2"/>
<circle cx="33.3" cy="1.8" r="2.55" fill="#cde8bc" stroke="#5e9e4c" stroke-width="1.15"/>
<circle cx="38.6" cy="33.0" r="2.55" fill="#cde8bc" stroke="#5e9e4c" stroke-width="1.15"/>
<circle cx="7.9" cy="37.4" r="2.55" fill="#cde8bc" stroke="#5e9e4c" stroke-width="1.15"/>
<circle cx="0.9" cy="59.7" r="2.2" fill="#b4bad8" stroke="#8088b4" stroke-width="1.2"/>
<circle cx="66.7" cy="59.9" r="2.55" fill="#cde8bc" stroke="#5e9e4c" stroke-width="1.15"/>
<circle cx="57.4" cy="26.2" r="2.2" fill="#b4bad8" stroke="#8088b4" stroke-width="1.2"/>
<circle cx="19.8" cy="13.1" r="2.55" fill="#cde8bc" stroke="#5e9e4c" stroke-width="1.15"/>
<circle cx="56.9" cy="43.1" r="2.55" fill="#cde8bc" stroke="#5e9e4c" stroke-width="1.15"/>
<circle cx="11.7" cy="16.8" r="2.55" fill="#cde8bc" stroke="#5e9e4c" stroke-width="1.15"/>
<circle cx="49.2" cy="55.6" r="2.55" fill="#cde8bc" stroke="#5e9e4c" stroke-width="1.15"/>
<circle cx="0.0" cy="45.7" r="2.2" fill="#b4bad8" stroke="#8088b4" stroke-width="1.2"/>
<circle cx="62.4" cy="47.2" r="2.55" fill="#cde8bc" stroke="#5e9e4c" stroke-width="1.15"/>
<circle cx="10.7" cy="0.5" r="2.55" fill="#cde8bc" stroke="#5e9e4c" stroke-width="1.15"/>
<circle cx="32.9" cy="29.3" r="2.55" fill="#cde8bc" stroke="#5e9e4c" stroke-width="1.15"/>
<circle cx="9.9" cy="51.5" r="2.55" fill="#cde8bc" stroke="#5e9e4c" stroke-width="1.15"/>
<circle cx="6.6" cy="10.5" r="2.55" fill="#cde8bc" stroke="#5e9e4c" stroke-width="1.15"/>
<circle cx="51.3" cy="0.5" r="2.55" fill="#cde8bc" stroke="#5e9e4c" stroke-width="1.15"/>
<circle cx="47.0" cy="24.4" r="2.55" fill="#cde8bc" stroke="#5e9e4c" stroke-width="1.15"/>
<circle cx="38.2" cy="10.3" r="2.55" fill="#cde8bc" stroke="#5e9e4c" stroke-width="1.15"/>
<circle cx="18.9" cy="34.1" r="2.55" fill="#cde8bc" stroke="#5e9e4c" stroke-width="1.15"/>
<circle cx="5.2" cy="25.1" r="2.55" fill="#cde8bc" stroke="#5e9e4c" stroke-width="1.15"/>
<circle cx="44.8" cy="47.0" r="2.55" fill="#cde8bc" stroke="#5e9e4c" stroke-width="1.15"/>
<circle cx="0.2" cy="54.2" r="2.2" fill="#b4bad8" stroke="#8088b4" stroke-width="1.2"/>
<circle cx="20.6" cy="48.5" r="2.55" fill="#cde8bc" stroke="#5e9e4c" stroke-width="1.15"/>
<circle cx="54.9" cy="61.6" r="2.2" fill="#b4bad8" stroke="#8088b4" stroke-width="1.2"/>
<circle cx="21.0" cy="0.7" r="2.55" fill="#cde8bc" stroke="#5e9e4c" stroke-width="1.15"/>
<circle cx="12.0" cy="61.6" r="2.55" fill="#cde8bc" stroke="#5e9e4c" stroke-width="1.15"/>
<path d="M11.2,42.8L14.7,49.1M11.2,42.8L5.8,44.3M11.2,42.8L7.9,37.4M43.2,29.7L41.2,24.7M43.2,29.7L38.6,33.0M43.2,29.7L47.0,24.4M14.7,49.1L17.2,43.2M14.7,49.1L17.5,53.7M14.7,49.1L9.9,51.5M14.7,49.1L20.6,48.5M54.9,31.8L57.4,26.2M34.3,14.6L33.8,7.2M34.3,14.6L28.5,10.6M0.2,23.0L5.2,25.1M39.8,4.3L33.8,7.2M39.8,4.3L44.6,7.8M39.8,4.3L44.5,1.3M39.8,4.3L38.2,10.3M54.0,14.4L47.9,12.8M15.8,2.6L10.7,0.5M59.5,38.2L56.9,43.1M33.8,7.2L28.5,10.6M33.8,7.2L33.3,1.8M33.8,7.2L38.2,10.3M8.5,57.5L9.9,51.5M8.5,57.5L12.0,61.6M30.8,34.2L32.9,29.3M23.3,30.1L18.9,34.1M39.5,45.2L37.8,38.6M39.5,45.2L33.4,44.5M39.5,45.2L38.8,50.7M8.3,29.5L12.8,25.0M62.8,55.0L61.1,61.0M62.8,55.0L66.7,59.9M27.9,22.6L25.5,15.3M27.9,22.6L35.2,24.1M1.8,5.8L7.3,4.7M1.8,5.8L4.5,0.2M1.8,5.8L6.6,10.5M48.8,61.6L54.9,61.6M15.1,37.8L17.2,43.2M15.1,37.8L13.9,31.9M15.1,37.8L18.9,34.1M37.8,38.6L38.6,33.0M12.3,10.5L11.7,16.8M12.3,10.5L6.6,10.5M23.7,57.5L27.7,61.3M23.7,57.5L30.9,55.5M23.7,57.5L25.2,51.2M23.7,57.5L17.5,53.7M23.6,37.0L25.7,44.0M23.6,37.0L28.8,39.7M20.8,6.4L21.0,0.7M52.8,23.2L50.5,28.7M46.5,41.9L45.2,36.1M46.5,41.9L44.8,47.0M27.7,61.3L30.9,55.5M25.5,15.3L28.5,10.6M17.5,18.0L18.9,23.5M17.5,18.0L19.8,13.1M61.1,61.0L54.9,61.6M17.2,59.5L12.0,61.6M1.9,13.1L6.4,19.2M1.9,13.1L6.6,10.5M57.0,49.3L54.9,56.2M57.0,49.3L56.9,43.1M57.0,49.3L62.4,47.2M1.6,36.8L7.9,37.4M43.8,52.8L44.8,47.0M39.7,15.9L46.4,18.3M44.6,7.8L47.9,12.8M44.6,7.8L51.7,6.0M44.6,7.8L38.2,10.3M17.2,43.2L20.6,48.5M7.3,4.7L4.5,0.2M7.3,4.7L6.6,10.5M35.2,24.1L41.2,24.7M35.2,24.1L32.9,29.3M43.0,59.7L37.5,61.7M33.4,44.5L32.9,50.4M50.5,28.7L57.4,26.2M18.9,23.5L12.8,25.0M6.4,19.2L11.7,16.8M6.4,19.2L5.2,25.1M30.9,55.5L32.9,50.4M12.8,25.0L13.9,31.9M12.8,25.0L5.2,25.1M54.9,56.2L49.2,55.6M54.9,56.2L54.9,61.6M36.3,56.3L32.9,50.4M26.8,0.2L33.3,1.8M26.8,0.2L21.0,0.7M45.2,36.1L51.3,39.4M45.2,36.1L38.6,33.0M25.2,51.2L20.6,48.5M46.4,18.3L47.0,24.4M44.5,1.3L51.3,0.5M51.3,39.4L56.9,43.1M5.8,44.3L7.9,37.4M5.8,44.3L0.0,45.7M38.8,50.7L44.8,47.0M4.5,0.2L10.7,0.5M38.6,33.0L32.9,29.3M56.9,43.1L62.4,47.2" stroke="#8a96c2" stroke-width="1.1" fill="none" opacity="0.45"/></g>
<g id="blockC"><path d="M-1.3,-1.0L6.7,0.5M6.7,0.5L13.1,-1.0M6.7,0.5L8.1,6.3M6.7,0.5L-1.1,5.3M13.1,-1.0L20.3,0.7M13.1,-1.0L13.2,6.1M13.1,-1.0L20.6,7.8M13.1,-1.0L8.1,6.3M20.3,0.7L27.1,0.6M20.3,0.7L20.6,7.8M20.3,0.7L13.2,6.1M27.1,0.6L35.4,-0.9M27.1,0.6L27.2,5.8M27.1,0.6L20.6,7.8M35.4,-0.9L42.1,-0.1M35.4,-0.9L43.2,7.5M35.4,-0.9L27.2,5.8M42.1,-0.1L48.8,1.3M42.1,-0.1L43.2,7.5M48.8,1.3L48.6,5.8M48.8,1.3L43.2,7.5M-1.1,5.3L8.1,6.3M-1.1,5.3L0.9,14.4M8.1,6.3L13.2,6.1M8.1,6.3L5.8,13.8M8.1,6.3L15.0,13.5M8.1,6.3L0.9,14.4M13.2,6.1L20.6,7.8M13.2,6.1L15.0,13.5M20.6,7.8L27.2,5.8M20.6,7.8L20.3,13.9M20.6,7.8L28.6,12.3M27.2,5.8L35.2,6.7M27.2,5.8L28.6,12.3M27.2,5.8L35.4,12.4M27.2,5.8L20.3,13.9M35.2,6.7L43.2,7.5M35.2,6.7L35.4,12.4M35.2,6.7L40.8,12.7M43.2,7.5L48.6,5.8M43.2,7.5L40.8,12.7M43.2,7.5L35.4,12.4M48.6,5.8L48.6,12.9M0.9,14.4L5.8,13.8M0.9,14.4L0.4,20.6M0.9,14.4L8.2,21.0M5.8,13.8L15.0,13.5M5.8,13.8L8.2,21.0M5.8,13.8L15.3,20.5M15.0,13.5L15.3,20.5M20.3,13.9L28.6,12.3M20.3,13.9L20.5,18.9M28.6,12.3L35.4,12.4M28.6,12.3L28.3,19.8M28.6,12.3L20.5,18.9M35.4,12.4L40.8,12.7M35.4,12.4L35.5,18.7M40.8,12.7L48.6,12.9M40.8,12.7L35.5,18.7M48.6,12.9L49.3,20.2M0.4,20.6L-1.1,26.0M0.4,20.6L8.1,26.7M8.2,21.0L15.3,20.5M8.2,21.0L8.1,26.7M15.3,20.5L20.5,18.9M15.3,20.5L15.3,25.5M15.3,20.5L20.9,27.1M20.5,18.9L28.3,19.8M20.5,18.9L20.9,27.1M28.3,19.8L27.9,27.0M28.3,19.8L20.9,27.1M35.5,18.7L41.2,20.8M35.5,18.7L35.2,25.3M35.5,18.7L27.9,27.0M41.2,20.8L49.3,20.2M41.2,20.8L48.0,25.5M41.2,20.8L35.2,25.3M49.3,20.2L48.0,25.5M-1.1,26.0L8.1,26.7M-1.1,26.0L-0.4,33.4M-1.1,26.0L7.9,32.8M8.1,26.7L15.3,25.5M8.1,26.7L7.9,32.8M15.3,25.5L20.9,27.1M20.9,27.1L27.9,27.0M20.9,27.1L20.4,32.5M27.9,27.0L35.2,25.3M27.9,27.0L28.3,33.2M35.2,25.3L41.0,27.5M35.2,25.3L33.8,31.8M35.2,25.3L41.1,33.4M35.2,25.3L28.3,33.2M41.0,27.5L41.1,33.4M41.0,27.5L49.5,34.1M41.0,27.5L33.8,31.8M48.0,25.5L49.5,34.1M-0.4,33.4L7.9,32.8M-0.4,33.4L0.7,38.8M-0.4,33.4L7.7,40.7M7.9,32.8L14.0,33.6M7.9,32.8L13.6,38.2M14.0,33.6L20.4,32.5M14.0,33.6L13.6,38.2M14.0,33.6L20.7,38.9M20.4,32.5L28.3,33.2M20.4,32.5L20.7,38.9M20.4,32.5L27.2,38.2M28.3,33.2L33.8,31.8M28.3,33.2L27.2,38.2M28.3,33.2L34.0,40.4M33.8,31.8L41.1,33.4M33.8,31.8L34.0,40.4M33.8,31.8L27.2,38.2M41.1,33.4L49.5,34.1M41.1,33.4L40.8,39.7M41.1,33.4L34.0,40.4M49.5,34.1L48.2,38.6M7.7,40.7L13.6,38.2M7.7,40.7L6.2,45.9M7.7,40.7L14.5,46.1M13.6,38.2L20.7,38.9M13.6,38.2L14.5,46.1M20.7,38.9L21.9,45.7M20.7,38.9L28.1,46.6M27.2,38.2L34.0,40.4M34.0,40.4L40.8,39.7M34.0,40.4L41.9,45.0M40.8,39.7L48.2,38.6M40.8,39.7L41.9,45.0M40.8,39.7L48.0,46.7M48.2,38.6L48.0,46.7M48.2,38.6L41.9,45.0M6.2,45.9L14.5,46.1M14.5,46.1L21.9,45.7M21.9,45.7L28.1,46.6M28.1,46.6L34.9,46.6M34.9,46.6L41.9,45.0M41.9,45.0L48.0,46.7" stroke="#9a92d6" stroke-width="1.7" fill="none"/>
<circle cx="-1.3" cy="-1.0" r="1.9" fill="#d4d0f0" stroke="#8884c0" stroke-width="1.0"/>
<circle cx="6.7" cy="0.5" r="2.8" fill="#4274c4" stroke="#1c4a98" stroke-width="1.4"/>
<circle cx="13.1" cy="-1.0" r="1.9" fill="#d4d0f0" stroke="#8884c0" stroke-width="1.0"/>
<circle cx="20.3" cy="0.7" r="1.9" fill="#d4d0f0" stroke="#8884c0" stroke-width="1.0"/>
<circle cx="27.1" cy="0.6" r="2.6" fill="#a6d494" stroke="#4f9440" stroke-width="1.3"/>
<circle cx="35.4" cy="-0.9" r="2.8" fill="#4274c4" stroke="#1c4a98" stroke-width="1.4"/>
<circle cx="42.1" cy="-0.1" r="1.9" fill="#d4d0f0" stroke="#8884c0" stroke-width="1.0"/>
<circle cx="48.8" cy="1.3" r="1.9" fill="#d4d0f0" stroke="#8884c0" stroke-width="1.0"/>
<circle cx="-1.1" cy="5.3" r="2.8" fill="#4274c4" stroke="#1c4a98" stroke-width="1.4"/>
<circle cx="8.1" cy="6.3" r="1.9" fill="#d4d0f0" stroke="#8884c0" stroke-width="1.0"/>
<circle cx="13.2" cy="6.1" r="2.6" fill="#a6d494" stroke="#4f9440" stroke-width="1.3"/>
<circle cx="20.6" cy="7.8" r="2.8" fill="#4274c4" stroke="#1c4a98" stroke-width="1.4"/>
<circle cx="27.2" cy="5.8" r="2.8" fill="#4274c4" stroke="#1c4a98" stroke-width="1.4"/>
<circle cx="35.2" cy="6.7" r="2.8" fill="#4274c4" stroke="#1c4a98" stroke-width="1.4"/>
<circle cx="43.2" cy="7.5" r="1.9" fill="#d4d0f0" stroke="#8884c0" stroke-width="1.0"/>
<circle cx="48.6" cy="5.8" r="1.9" fill="#d4d0f0" stroke="#8884c0" stroke-width="1.0"/>
<circle cx="0.9" cy="14.4" r="2.8" fill="#4274c4" stroke="#1c4a98" stroke-width="1.4"/>
<circle cx="5.8" cy="13.8" r="2.8" fill="#4274c4" stroke="#1c4a98" stroke-width="1.4"/>
<circle cx="15.0" cy="13.5" r="2.8" fill="#4274c4" stroke="#1c4a98" stroke-width="1.4"/>
<circle cx="20.3" cy="13.9" r="2.6" fill="#a6d494" stroke="#4f9440" stroke-width="1.3"/>
<circle cx="28.6" cy="12.3" r="2.8" fill="#4274c4" stroke="#1c4a98" stroke-width="1.4"/>
<circle cx="35.4" cy="12.4" r="2.8" fill="#4274c4" stroke="#1c4a98" stroke-width="1.4"/>
<circle cx="40.8" cy="12.7" r="2.8" fill="#4274c4" stroke="#1c4a98" stroke-width="1.4"/>
<circle cx="48.6" cy="12.9" r="1.9" fill="#d4d0f0" stroke="#8884c0" stroke-width="1.0"/>
<circle cx="0.4" cy="20.6" r="2.8" fill="#4274c4" stroke="#1c4a98" stroke-width="1.4"/>
<circle cx="8.2" cy="21.0" r="2.6" fill="#a6d494" stroke="#4f9440" stroke-width="1.3"/>
<circle cx="15.3" cy="20.5" r="2.6" fill="#a6d494" stroke="#4f9440" stroke-width="1.3"/>
<circle cx="20.5" cy="18.9" r="2.8" fill="#4274c4" stroke="#1c4a98" stroke-width="1.4"/>
<circle cx="28.3" cy="19.8" r="2.8" fill="#4274c4" stroke="#1c4a98" stroke-width="1.4"/>
<circle cx="35.5" cy="18.7" r="2.8" fill="#4274c4" stroke="#1c4a98" stroke-width="1.4"/>
<circle cx="41.2" cy="20.8" r="2.8" fill="#4274c4" stroke="#1c4a98" stroke-width="1.4"/>
<circle cx="49.3" cy="20.2" r="1.9" fill="#d4d0f0" stroke="#8884c0" stroke-width="1.0"/>
<circle cx="-1.1" cy="26.0" r="1.9" fill="#d4d0f0" stroke="#8884c0" stroke-width="1.0"/>
<circle cx="8.1" cy="26.7" r="1.9" fill="#d4d0f0" stroke="#8884c0" stroke-width="1.0"/>
<circle cx="15.3" cy="25.5" r="1.9" fill="#d4d0f0" stroke="#8884c0" stroke-width="1.0"/>
<circle cx="20.9" cy="27.1" r="2.8" fill="#4274c4" stroke="#1c4a98" stroke-width="1.4"/>
<circle cx="27.9" cy="27.0" r="2.8" fill="#4274c4" stroke="#1c4a98" stroke-width="1.4"/>
<circle cx="35.2" cy="25.3" r="1.9" fill="#d4d0f0" stroke="#8884c0" stroke-width="1.0"/>
<circle cx="41.0" cy="27.5" r="2.6" fill="#a6d494" stroke="#4f9440" stroke-width="1.3"/>
<circle cx="48.0" cy="25.5" r="1.9" fill="#d4d0f0" stroke="#8884c0" stroke-width="1.0"/>
<circle cx="-0.4" cy="33.4" r="2.8" fill="#4274c4" stroke="#1c4a98" stroke-width="1.4"/>
<circle cx="7.9" cy="32.8" r="2.6" fill="#a6d494" stroke="#4f9440" stroke-width="1.3"/>
<circle cx="14.0" cy="33.6" r="1.9" fill="#d4d0f0" stroke="#8884c0" stroke-width="1.0"/>
<circle cx="20.4" cy="32.5" r="1.9" fill="#d4d0f0" stroke="#8884c0" stroke-width="1.0"/>
<circle cx="28.3" cy="33.2" r="2.8" fill="#4274c4" stroke="#1c4a98" stroke-width="1.4"/>
<circle cx="33.8" cy="31.8" r="2.8" fill="#4274c4" stroke="#1c4a98" stroke-width="1.4"/>
<circle cx="41.1" cy="33.4" r="2.8" fill="#4274c4" stroke="#1c4a98" stroke-width="1.4"/>
<circle cx="49.5" cy="34.1" r="2.6" fill="#a6d494" stroke="#4f9440" stroke-width="1.3"/>
<circle cx="0.7" cy="38.8" r="1.9" fill="#d4d0f0" stroke="#8884c0" stroke-width="1.0"/>
<circle cx="7.7" cy="40.7" r="2.6" fill="#a6d494" stroke="#4f9440" stroke-width="1.3"/>
<circle cx="13.6" cy="38.2" r="2.8" fill="#4274c4" stroke="#1c4a98" stroke-width="1.4"/>
<circle cx="20.7" cy="38.9" r="1.9" fill="#d4d0f0" stroke="#8884c0" stroke-width="1.0"/>
<circle cx="27.2" cy="38.2" r="2.6" fill="#a6d494" stroke="#4f9440" stroke-width="1.3"/>
<circle cx="34.0" cy="40.4" r="2.8" fill="#4274c4" stroke="#1c4a98" stroke-width="1.4"/>
<circle cx="40.8" cy="39.7" r="1.9" fill="#d4d0f0" stroke="#8884c0" stroke-width="1.0"/>
<circle cx="48.2" cy="38.6" r="2.6" fill="#a6d494" stroke="#4f9440" stroke-width="1.3"/>
<circle cx="0.8" cy="45.5" r="2.6" fill="#a6d494" stroke="#4f9440" stroke-width="1.3"/>
<circle cx="6.2" cy="45.9" r="2.8" fill="#4274c4" stroke="#1c4a98" stroke-width="1.4"/>
<circle cx="14.5" cy="46.1" r="2.8" fill="#4274c4" stroke="#1c4a98" stroke-width="1.4"/>
<circle cx="21.9" cy="45.7" r="2.6" fill="#a6d494" stroke="#4f9440" stroke-width="1.3"/>
<circle cx="28.1" cy="46.6" r="2.8" fill="#4274c4" stroke="#1c4a98" stroke-width="1.4"/>
<circle cx="34.9" cy="46.6" r="2.8" fill="#4274c4" stroke="#1c4a98" stroke-width="1.4"/>
<circle cx="41.9" cy="45.0" r="2.6" fill="#a6d494" stroke="#4f9440" stroke-width="1.3"/>
<circle cx="48.0" cy="46.7" r="2.6" fill="#a6d494" stroke="#4f9440" stroke-width="1.3"/></g>
</defs>
<clipPath id="ca"><rect x="54" y="24.5" width="148" height="193.5"/></clipPath>
<g clip-path="url(#ca)"><g filter="url(#soft)">
<use href="#cell0" x="54" y="140.5"/>
<use href="#cell0" x="128" y="140.5"/>
<use href="#cell0" x="202" y="140.5"/>
<use href="#liA" x="54" y="88"/>
<use href="#liA" x="128" y="88"/>
</g></g>
<clipPath id="cb"><rect x="256.5" y="24.5" width="148" height="193.5"/></clipPath>
<g clip-path="url(#cb)"><g filter="url(#soft)">
<use href="#cell1" x="256.5" y="140.5"/>
<use href="#cell1" x="330.5" y="140.5"/>
<use href="#cell1" x="404.5" y="140.5"/>
<use href="#blobB" x="258" y="80.5"/>
<use href="#blobB" x="332" y="80.5"/>
</g></g>
<clipPath id="cc"><rect x="455" y="24.5" width="148" height="193.5"/></clipPath>
<g clip-path="url(#cc)"><g filter="url(#soft)">
<use href="#cell2" x="455" y="140.5"/>
<use href="#cell2" x="529" y="140.5"/>
<use href="#cell2" x="603" y="140.5"/>
<use href="#blockC" x="457.5" y="86.5"/>
<use href="#blockC" x="531.5" y="86.5"/>
<line x1="454.7" y1="137.2" x2="458.3" y2="131.2" stroke="#9c96d0" stroke-width="1.2"/>
<circle cx="454.7" cy="137.2" r="2.5" fill="#cde8bc" stroke="#5e9e4c" stroke-width="1.15"/>
<line x1="462.2" y1="135.9" x2="457.5" y2="129.9" stroke="#9c96d0" stroke-width="1.2"/>
<circle cx="462.2" cy="135.9" r="2.5" fill="#cde8bc" stroke="#5e9e4c" stroke-width="1.15"/>
<line x1="470.2" y1="135.0" x2="466.8" y2="129.0" stroke="#9c96d0" stroke-width="1.2"/>
<circle cx="470.2" cy="135.0" r="2.5" fill="#cde8bc" stroke="#5e9e4c" stroke-width="1.15"/>
<line x1="479.6" y1="139.0" x2="481.6" y2="133.0" stroke="#9c96d0" stroke-width="1.2"/>
<circle cx="479.6" cy="139.0" r="2.5" fill="#cde8bc" stroke="#5e9e4c" stroke-width="1.15"/>
<line x1="487.4" y1="136.6" x2="489.3" y2="130.6" stroke="#9c96d0" stroke-width="1.2"/>
<circle cx="487.4" cy="136.6" r="2.5" fill="#cde8bc" stroke="#5e9e4c" stroke-width="1.15"/>
<line x1="495.5" y1="135.3" x2="498.9" y2="129.3" stroke="#9c96d0" stroke-width="1.2"/>
<circle cx="495.5" cy="135.3" r="2.5" fill="#cde8bc" stroke="#5e9e4c" stroke-width="1.15"/>
<line x1="504.6" y1="135.4" x2="500.3" y2="129.4" stroke="#9c96d0" stroke-width="1.2"/>
<circle cx="504.6" cy="135.4" r="2.5" fill="#cde8bc" stroke="#5e9e4c" stroke-width="1.15"/>
<line x1="511.2" y1="138.8" x2="507.3" y2="132.8" stroke="#9c96d0" stroke-width="1.2"/>
<circle cx="511.2" cy="138.8" r="2.5" fill="#cde8bc" stroke="#5e9e4c" stroke-width="1.15"/>
<line x1="521.0" y1="138.9" x2="516.3" y2="132.9" stroke="#9c96d0" stroke-width="1.2"/>
<circle cx="521.0" cy="138.9" r="2.5" fill="#cde8bc" stroke="#5e9e4c" stroke-width="1.15"/>
<line x1="528.7" y1="136.9" x2="532.8" y2="130.9" stroke="#9c96d0" stroke-width="1.2"/>
<circle cx="528.7" cy="136.9" r="2.5" fill="#cde8bc" stroke="#5e9e4c" stroke-width="1.15"/>
<line x1="536.3" y1="136.0" x2="533.7" y2="130.0" stroke="#9c96d0" stroke-width="1.2"/>
<circle cx="536.3" cy="136.0" r="2.5" fill="#cde8bc" stroke="#5e9e4c" stroke-width="1.15"/>
<line x1="544.0" y1="137.7" x2="547.2" y2="131.7" stroke="#9c96d0" stroke-width="1.2"/>
<circle cx="544.0" cy="137.7" r="2.5" fill="#cde8bc" stroke="#5e9e4c" stroke-width="1.15"/>
<line x1="553.4" y1="135.2" x2="555.5" y2="129.2" stroke="#9c96d0" stroke-width="1.2"/>
<circle cx="553.4" cy="135.2" r="2.5" fill="#cde8bc" stroke="#5e9e4c" stroke-width="1.15"/>
<line x1="562.5" y1="137.6" x2="560.8" y2="131.6" stroke="#9c96d0" stroke-width="1.2"/>
<circle cx="562.5" cy="137.6" r="2.5" fill="#cde8bc" stroke="#5e9e4c" stroke-width="1.15"/>
<line x1="571.0" y1="137.5" x2="571.9" y2="131.5" stroke="#9c96d0" stroke-width="1.2"/>
<circle cx="571.0" cy="137.5" r="2.5" fill="#cde8bc" stroke="#5e9e4c" stroke-width="1.15"/>
<line x1="578.3" y1="135.9" x2="577.9" y2="129.9" stroke="#9c96d0" stroke-width="1.2"/>
<circle cx="578.3" cy="135.9" r="2.5" fill="#cde8bc" stroke="#5e9e4c" stroke-width="1.15"/>
<line x1="587.3" y1="137.7" x2="585.7" y2="131.7" stroke="#9c96d0" stroke-width="1.2"/>
<circle cx="587.3" cy="137.7" r="2.5" fill="#cde8bc" stroke="#5e9e4c" stroke-width="1.15"/>
<line x1="595.6" y1="138.4" x2="591.0" y2="132.4" stroke="#9c96d0" stroke-width="1.2"/>
<circle cx="595.6" cy="138.4" r="2.5" fill="#cde8bc" stroke="#5e9e4c" stroke-width="1.15"/>
</g></g>
<line x1="54" y1="218" x2="202" y2="218" stroke="#9a8a90" stroke-width="1" stroke-dasharray="2.4 2"/>
<line x1="256.5" y1="218" x2="404.5" y2="218" stroke="#9a8a90" stroke-width="1" stroke-dasharray="2.4 2"/>
<line x1="455" y1="218" x2="603" y2="218" stroke="#9a8a90" stroke-width="1" stroke-dasharray="2.4 2"/>
<circle cx="628" cy="48.6" r="6.5" fill="url(#gLi)"/>
<text x="649.7" y="55.5" font-size="14" font-weight="bold" fill="#1a1a1a" font-family="Liberation Sans, Arial, sans-serif">Li</text>
<circle cx="628.5" cy="79" r="7.8" fill="url(#gLa)"/>
<text x="650" y="84.5" font-size="14" font-weight="bold" fill="#1a1a1a" font-family="Liberation Sans, Arial, sans-serif">La</text>
<circle cx="628.5" cy="106.5" r="6.5" fill="url(#gZr)"/>
<text x="651.5" y="111.4" font-size="14" font-weight="bold" fill="#1a1a1a" font-family="Liberation Sans, Arial, sans-serif">Zr</text>
<circle cx="629.5" cy="130.6" r="8.2" fill="url(#gTa)"/>
<text x="652" y="136.5" font-size="14" font-weight="bold" fill="#1a1a1a" font-family="Liberation Sans, Arial, sans-serif">Ta</text>
<circle cx="629" cy="152.5" r="3.3" fill="#f2c276" stroke="#cf8a32" stroke-width="1.3"/>
<text x="652.6" y="158" font-size="14" font-weight="bold" fill="#1a1a1a" font-family="Liberation Sans, Arial, sans-serif">O</text>
<circle cx="629" cy="173.3" r="3.3" fill="#ecebf8" stroke="#9a98c6" stroke-width="1.3"/>
<text x="652.6" y="177.6" font-size="14" font-weight="bold" fill="#1a1a1a" font-family="Liberation Sans, Arial, sans-serif">N</text>
<circle cx="629.5" cy="197.3" r="6.3" fill="url(#gSi)"/>
<text x="652.6" y="202" font-size="14" font-weight="bold" fill="#1a1a1a" font-family="Liberation Sans, Arial, sans-serif">Si</text>
<defs>
<filter id="nD1" x="0" y="0" width="100%" height="100%" color-interpolation-filters="sRGB"><feTurbulence type="fractalNoise" baseFrequency="0.55" numOctaves="2" seed="3"/><feColorMatrix type="matrix" values="0.3 0 0 0 0.645 0.3 0 0 0 0.645 0.3 0 0 0 0.645 0 0 0 0 1"/></filter>
<filter id="nE1" x="0" y="0" width="100%" height="100%" color-interpolation-filters="sRGB"><feTurbulence type="fractalNoise" baseFrequency="0.35" numOctaves="2" seed="4"/><feColorMatrix type="matrix" values="0.22 0 0 0 0.565 0.22 0 0 0 0.565 0.22 0 0 0 0.565 0 0 0 0 1"/></filter>
<filter id="nDark" x="0" y="0" width="100%" height="100%" color-interpolation-filters="sRGB"><feTurbulence type="fractalNoise" baseFrequency="0.6" numOctaves="2" seed="5"/><feColorMatrix type="matrix" values="0.1 0 0 0 0.07 0.1 0 0 0 0.07 0.1 0 0 0 0.07 0 0 0 0 1"/></filter>
<filter id="nDark2" x="0" y="0" width="100%" height="100%" color-interpolation-filters="sRGB"><feTurbulence type="fractalNoise" baseFrequency="0.6" numOctaves="2" seed="6"/><feColorMatrix type="matrix" values="0.1 0 0 0 0.19 0.1 0 0 0 0.19 0.1 0 0 0 0.19 0 0 0 0 1"/></filter>
<filter id="bl06" x="-5%" y="-5%" width="110%" height="110%"><feGaussianBlur stdDeviation="0.6"/></filter>
<filter id="bl08" x="-5%" y="-5%" width="110%" height="110%"><feGaussianBlur stdDeviation="0.8"/></filter>
<filter id="bl10" x="-5%" y="-5%" width="110%" height="110%"><feGaussianBlur stdDeviation="1.0"/></filter>
<filter id="bl3" x="-50%" y="-50%" width="200%" height="200%"><feGaussianBlur stdDeviation="3"/></filter>
<filter id="spG" x="0" y="0" width="100%" height="100%" color-interpolation-filters="sRGB"><feTurbulence type="fractalNoise" baseFrequency="0.45" numOctaves="2" seed="11"/><feColorMatrix type="matrix" values="0 0 0 0 0.22 0 0 0 0 0.62 0 0 0 0 0.36 3.0 0 0 0 -1.05"/></filter>
<filter id="spGb" x="0" y="0" width="100%" height="100%" color-interpolation-filters="sRGB"><feTurbulence type="fractalNoise" baseFrequency="0.09" numOctaves="3" seed="17"/><feColorMatrix type="matrix" values="0 0 0 0 0.03 0 0 0 0 0.22 0 0 0 0 0.09 2.6 0 0 0 -1.45"/></filter>
<filter id="spGd" x="0" y="0" width="100%" height="100%" color-interpolation-filters="sRGB"><feTurbulence type="fractalNoise" baseFrequency="0.6" numOctaves="2" seed="12"/><feColorMatrix type="matrix" values="0 0 0 0 0.06 0 0 0 0 0.2 0 0 0 0 0.1 4 0 0 0 -2.2"/></filter>
<filter id="spC" x="0" y="0" width="100%" height="100%" color-interpolation-filters="sRGB"><feTurbulence type="fractalNoise" baseFrequency="0.55" numOctaves="2" seed="13"/><feColorMatrix type="matrix" values="0 0 0 0 0.17 0 0 0 0 0.44 0 0 0 0 0.41 3.0 0 0 0 -1.45"/></filter>
<filter id="spCd" x="0" y="0" width="100%" height="100%" color-interpolation-filters="sRGB"><feTurbulence type="fractalNoise" baseFrequency="0.55" numOctaves="2" seed="14"/><feColorMatrix type="matrix" values="0 0 0 0 0.14 0 0 0 0 0.34 0 0 0 0 0.32 3.0 0 0 0 -1.6"/></filter>
<filter id="spO" x="0" y="0" width="100%" height="100%" color-interpolation-filters="sRGB"><feTurbulence type="fractalNoise" baseFrequency="0.5" numOctaves="2" seed="15"/><feColorMatrix type="matrix" values="0 0 0 0 0.74 0 0 0 0 0.41 0 0 0 0 0.15 2.6 0 0 0 -0.85"/></filter>
<filter id="spOb" x="0" y="0" width="100%" height="100%" color-interpolation-filters="sRGB"><feTurbulence type="fractalNoise" baseFrequency="0.14" numOctaves="3" seed="18"/><feColorMatrix type="matrix" values="0 0 0 0 0.1 0 0 0 0 0.04 0 0 0 0 0.01 2.6 0 0 0 -1.25"/></filter>
<filter id="spOd" x="0" y="0" width="100%" height="100%" color-interpolation-filters="sRGB"><feTurbulence type="fractalNoise" baseFrequency="0.6" numOctaves="2" seed="16"/><feColorMatrix type="matrix" values="0 0 0 0 0.35 0 0 0 0 0.17 0 0 0 0 0.06 5 0 0 0 -3.3"/></filter>
<clipPath id="pD1"><rect x="39.5" y="260.5" width="156.5" height="115.5"/></clipPath>
<clipPath id="pD2"><rect x="39.5" y="380" width="156.5" height="116"/></clipPath>
<clipPath id="pE1"><rect x="207" y="260.5" width="156" height="115.5"/></clipPath>
<clipPath id="pE2"><rect x="207" y="380" width="156" height="116"/></clipPath>
<clipPath id="pF"><rect x="373" y="260.5" width="142" height="115.5"/></clipPath>
<clipPath id="pH"><rect x="373" y="380" width="142" height="116"/></clipPath>
<clipPath id="pG"><rect x="523.5" y="260.5" width="142" height="115.5"/></clipPath>
<clipPath id="pI"><rect x="523.5" y="380" width="142" height="116"/></clipPath>
</defs>
<g clip-path="url(#pD1)">
<rect x="39.5" y="260.5" width="156.5" height="115.5" fill="#d0d0d0" filter="url(#nD1)"/>
<circle cx="103.8" cy="324.4" r="1.1" fill="#5a5a5a" opacity="0.8"/>
<circle cx="80.0" cy="359.1" r="1.2" fill="#5a5a5a" opacity="0.8"/>
<circle cx="100.6" cy="354.4" r="1.6" fill="#5a5a5a" opacity="0.8"/>
<circle cx="185.6" cy="342.3" r="1.4" fill="#5a5a5a" opacity="0.8"/>
<circle cx="135.8" cy="325.4" r="2.1" fill="#5a5a5a" opacity="0.8"/>
<circle cx="99.2" cy="336.1" r="1.8" fill="#5a5a5a" opacity="0.8"/>
<circle cx="65.3" cy="353.0" r="2.0" fill="#5a5a5a" opacity="0.8"/>
<circle cx="93.8" cy="370.7" r="1.5" fill="#5a5a5a" opacity="0.8"/>
<circle cx="160.5" cy="341.1" r="1.4" fill="#5a5a5a" opacity="0.8"/>
<circle cx="83.2" cy="312.5" r="1.1" fill="#5a5a5a" opacity="0.8"/>
<circle cx="193.4" cy="345.1" r="1.4" fill="#5a5a5a" opacity="0.8"/>
<circle cx="179.7" cy="349.5" r="2.2" fill="#5a5a5a" opacity="0.8"/>
<circle cx="96.7" cy="325.4" r="2.1" fill="#5a5a5a" opacity="0.8"/>
<circle cx="66.6" cy="361.1" r="1.6" fill="#5a5a5a" opacity="0.8"/>
<circle cx="192.4" cy="370.5" r="1.7" fill="#5a5a5a" opacity="0.8"/>
<circle cx="47.7" cy="313.4" r="1.5" fill="#5a5a5a" opacity="0.8"/>
<circle cx="167.4" cy="317.0" r="1.4" fill="#5a5a5a" opacity="0.8"/>
<circle cx="55.2" cy="331.2" r="0.8" fill="#5a5a5a" opacity="0.8"/>
<linearGradient id="dgr" x1="0" y1="0" x2="0" y2="1"><stop offset="0" stop-color="#1e1e1e" stop-opacity="1"/><stop offset="1" stop-color="#1e1e1e" stop-opacity="0"/></linearGradient>
<path d="M39.5,260.5 L196.0,260.5 L196.0,307.2 L195.5,307.3 L192.5,306.7 L189.5,306.1 L186.5,306.8 L183.5,307.2 L180.5,306.3 L177.5,307.4 L174.5,306.9 L171.5,306.9 L168.5,306.2 L165.5,305.7 L162.5,307.2 L159.5,307.5 L156.5,305.9 L153.5,306.8 L150.5,306.6 L147.5,307.2 L144.5,305.5 L141.5,306.1 L138.5,306.4 L135.5,305.9 L132.5,306.0 L129.5,306.0 L126.5,306.5 L123.5,306.4 L120.5,305.9 L117.5,305.6 L114.5,306.3 L111.5,305.9 L108.5,306.3 L105.5,307.4 L102.5,306.6 L99.5,305.6 L96.5,305.6 L93.5,307.3 L90.5,307.4 L87.5,306.0 L84.5,306.9 L81.5,306.4 L78.5,305.5 L75.5,307.0 L72.5,306.4 L69.5,307.2 L66.5,305.6 L63.5,305.7 L60.5,307.1 L57.5,306.8 L54.5,306.4 L51.5,306.5 L48.5,306.0 L45.5,307.0 L42.5,307.2 L39.5,305.8 Z" fill="#1e1e1e" />
<rect x="39.5" y="305" width="156.5" height="7" fill="url(#dgr)" />
<rect x="39.5" y="260.5" width="156.5" height="46" fill="#1c1c1c" filter="url(#nDark)" opacity="0.6"/>
<ellipse cx="165" cy="303" rx="12" ry="5" fill="#555" opacity="0.35" filter="url(#bl3)"/>
</g>
<g clip-path="url(#pD2)">
<rect x="39.5" y="380" width="156.5" height="116" fill="#9c9c9c" />
<g filter="url(#bl08)"><circle cx="61.8" cy="465.6" r="3.4" fill="#c9c9c9" stroke="#929292" stroke-width="1.0"/>
<circle cx="113.7" cy="440.6" r="2.4" fill="#eaeaea" stroke="#929292" stroke-width="1.0"/>
<circle cx="190.3" cy="485.9" r="2.5" fill="#c5c5c5" stroke="#929292" stroke-width="1.0"/>
<circle cx="98.1" cy="441.2" r="2.4" fill="#dfdfdf" stroke="#929292" stroke-width="1.0"/>
<circle cx="119.6" cy="483.9" r="2.4" fill="#c3c3c3" stroke="#929292" stroke-width="1.0"/>
<circle cx="152.6" cy="467.7" r="2.3" fill="#cacaca" stroke="#929292" stroke-width="1.0"/>
<circle cx="72.3" cy="459.5" r="3.5" fill="#ebebeb" stroke="#929292" stroke-width="1.0"/>
<circle cx="114.6" cy="448.9" r="2.6" fill="#c9c9c9" stroke="#929292" stroke-width="1.0"/>
<circle cx="161.5" cy="432.0" r="3.1" fill="#dcdcdc" stroke="#929292" stroke-width="1.0"/>
<circle cx="114.7" cy="486.9" r="2.4" fill="#d4d4d4" stroke="#929292" stroke-width="1.0"/>
<circle cx="78.2" cy="460.9" r="3.1" fill="#d3d3d3" stroke="#929292" stroke-width="1.0"/>
<circle cx="86.8" cy="467.2" r="2.5" fill="#d5d5d5" stroke="#929292" stroke-width="1.0"/>
<circle cx="131.9" cy="439.1" r="2.3" fill="#c8c8c8" stroke="#929292" stroke-width="1.0"/>
<circle cx="123.0" cy="458.9" r="2.3" fill="#e4e4e4" stroke="#929292" stroke-width="1.0"/>
<circle cx="84.8" cy="449.2" r="4.0" fill="#c3c3c3" stroke="#929292" stroke-width="1.0"/>
<circle cx="77.0" cy="475.4" r="2.3" fill="#cacaca" stroke="#929292" stroke-width="1.0"/>
<circle cx="143.1" cy="472.6" r="2.3" fill="#c0c0c0" stroke="#929292" stroke-width="1.0"/>
<circle cx="92.7" cy="458.2" r="2.5" fill="#cbcbcb" stroke="#929292" stroke-width="1.0"/>
<circle cx="120.5" cy="477.6" r="2.4" fill="#d1d1d1" stroke="#929292" stroke-width="1.0"/>
<circle cx="55.7" cy="479.1" r="2.9" fill="#e7e7e7" stroke="#929292" stroke-width="1.0"/>
<circle cx="140.2" cy="442.0" r="3.1" fill="#d0d0d0" stroke="#929292" stroke-width="1.0"/>
<circle cx="173.9" cy="495.0" r="3.4" fill="#c5c5c5" stroke="#929292" stroke-width="1.0"/>
<circle cx="48.5" cy="445.1" r="3.2" fill="#cbcbcb" stroke="#929292" stroke-width="1.0"/>
<circle cx="147.5" cy="483.4" r="3.1" fill="#ebebeb" stroke="#929292" stroke-width="1.0"/>
<circle cx="134.7" cy="471.1" r="2.7" fill="#c2c2c2" stroke="#929292" stroke-width="1.0"/>
<circle cx="90.0" cy="442.5" r="2.4" fill="#dbdbdb" stroke="#929292" stroke-width="1.0"/>
<circle cx="83.3" cy="489.8" r="2.4" fill="#d0d0d0" stroke="#929292" stroke-width="1.0"/>
<circle cx="64.3" cy="487.1" r="3.5" fill="#dddddd" stroke="#929292" stroke-width="1.0"/>
<circle cx="162.2" cy="484.6" r="2.8" fill="#cecece" stroke="#929292" stroke-width="1.0"/>
<circle cx="80.4" cy="493.2" r="3.1" fill="#dedede" stroke="#929292" stroke-width="1.0"/>
<circle cx="103.6" cy="436.9" r="3.4" fill="#d5d5d5" stroke="#929292" stroke-width="1.0"/>
<circle cx="94.7" cy="484.9" r="2.4" fill="#dcdcdc" stroke="#929292" stroke-width="1.0"/>
<circle cx="100.2" cy="490.5" r="3.5" fill="#e7e7e7" stroke="#929292" stroke-width="1.0"/>
<circle cx="79.7" cy="485.1" r="2.9" fill="#d9d9d9" stroke="#929292" stroke-width="1.0"/>
<circle cx="121.4" cy="500.7" r="2.6" fill="#c6c6c6" stroke="#929292" stroke-width="1.0"/>
<circle cx="187.0" cy="495.1" r="3.1" fill="#c2c2c2" stroke="#929292" stroke-width="1.0"/>
<circle cx="170.5" cy="448.9" r="3.1" fill="#e9e9e9" stroke="#929292" stroke-width="1.0"/>
<circle cx="81.6" cy="423.0" r="2.8" fill="#d5d5d5" stroke="#929292" stroke-width="1.0"/>
<circle cx="68.2" cy="466.3" r="3.3" fill="#c8c8c8" stroke="#929292" stroke-width="1.0"/>
<circle cx="92.1" cy="500.4" r="2.7" fill="#e9e9e9" stroke="#929292" stroke-width="1.0"/>
<circle cx="127.5" cy="428.0" r="2.6" fill="#d9d9d9" stroke="#929292" stroke-width="1.0"/>
<circle cx="48.0" cy="487.1" r="2.9" fill="#e0e0e0" stroke="#929292" stroke-width="1.0"/>
<circle cx="118.6" cy="462.5" r="2.6" fill="#e6e6e6" stroke="#929292" stroke-width="1.0"/>
<circle cx="191.9" cy="467.9" r="2.3" fill="#cccccc" stroke="#929292" stroke-width="1.0"/>
<circle cx="156.6" cy="433.7" r="2.5" fill="#cfcfcf" stroke="#929292" stroke-width="1.0"/>
<circle cx="107.4" cy="466.3" r="2.5" fill="#e6e6e6" stroke="#929292" stroke-width="1.0"/>
<circle cx="154.8" cy="449.0" r="2.7" fill="#c5c5c5" stroke="#929292" stroke-width="1.0"/>
<circle cx="131.9" cy="446.6" r="2.5" fill="#e1e1e1" stroke="#929292" stroke-width="1.0"/>
<circle cx="52.9" cy="494.9" r="2.7" fill="#c4c4c4" stroke="#929292" stroke-width="1.0"/>
<circle cx="182.9" cy="461.8" r="2.4" fill="#dedede" stroke="#929292" stroke-width="1.0"/>
<circle cx="155.9" cy="501.4" r="3.8" fill="#dedede" stroke="#929292" stroke-width="1.0"/>
<circle cx="104.7" cy="462.5" r="3.0" fill="#e9e9e9" stroke="#929292" stroke-width="1.0"/>
<circle cx="152.7" cy="463.1" r="3.3" fill="#e5e5e5" stroke="#929292" stroke-width="1.0"/>
<circle cx="118.4" cy="446.7" r="2.5" fill="#d6d6d6" stroke="#929292" stroke-width="1.0"/>
<circle cx="189.6" cy="491.2" r="2.3" fill="#c8c8c8" stroke="#929292" stroke-width="1.0"/>
<circle cx="86.3" cy="421.5" r="3.3" fill="#c6c6c6" stroke="#929292" stroke-width="1.0"/>
<circle cx="179.1" cy="427.5" r="2.3" fill="#d7d7d7" stroke="#929292" stroke-width="1.0"/>
<circle cx="64.2" cy="481.4" r="2.5" fill="#d6d6d6" stroke="#929292" stroke-width="1.0"/>
<circle cx="74.7" cy="445.3" r="3.1" fill="#c3c3c3" stroke="#929292" stroke-width="1.0"/>
<circle cx="145.7" cy="433.0" r="2.4" fill="#e7e7e7" stroke="#929292" stroke-width="1.0"/>
<circle cx="131.6" cy="465.9" r="2.3" fill="#d6d6d6" stroke="#929292" stroke-width="1.0"/>
<circle cx="124.2" cy="463.6" r="3.4" fill="#dedede" stroke="#929292" stroke-width="1.0"/>
<circle cx="171.1" cy="438.0" r="3.1" fill="#c9c9c9" stroke="#929292" stroke-width="1.0"/>
<circle cx="76.1" cy="480.8" r="2.8" fill="#cacaca" stroke="#929292" stroke-width="1.0"/>
<circle cx="114.4" cy="494.1" r="2.3" fill="#c0c0c0" stroke="#929292" stroke-width="1.0"/>
<circle cx="172.0" cy="501.7" r="3.8" fill="#cfcfcf" stroke="#929292" stroke-width="1.0"/>
<circle cx="45.6" cy="449.4" r="2.5" fill="#cbcbcb" stroke="#929292" stroke-width="1.0"/>
<circle cx="134.7" cy="443.8" r="2.4" fill="#d2d2d2" stroke="#929292" stroke-width="1.0"/>
<circle cx="56.5" cy="462.3" r="2.8" fill="#d0d0d0" stroke="#929292" stroke-width="1.0"/>
<circle cx="55.2" cy="427.8" r="2.3" fill="#e4e4e4" stroke="#929292" stroke-width="1.0"/>
<circle cx="76.9" cy="496.5" r="2.6" fill="#e7e7e7" stroke="#929292" stroke-width="1.0"/>
<circle cx="87.5" cy="438.7" r="2.6" fill="#c7c7c7" stroke="#929292" stroke-width="1.0"/>
<circle cx="83.1" cy="468.7" r="2.3" fill="#d1d1d1" stroke="#929292" stroke-width="1.0"/>
<circle cx="147.2" cy="478.5" r="2.4" fill="#c7c7c7" stroke="#929292" stroke-width="1.0"/>
<circle cx="118.2" cy="430.4" r="3.0" fill="#dddddd" stroke="#929292" stroke-width="1.0"/>
<circle cx="176.2" cy="450.9" r="3.2" fill="#eaeaea" stroke="#929292" stroke-width="1.0"/>
<circle cx="39.3" cy="439.5" r="2.3" fill="#c8c8c8" stroke="#929292" stroke-width="1.0"/>
<circle cx="165.8" cy="455.8" r="2.3" fill="#e1e1e1" stroke="#929292" stroke-width="1.0"/>
<circle cx="190.7" cy="449.8" r="2.4" fill="#cdcdcd" stroke="#929292" stroke-width="1.0"/>
<circle cx="169.1" cy="443.9" r="2.5" fill="#c0c0c0" stroke="#929292" stroke-width="1.0"/>
<circle cx="70.1" cy="453.9" r="3.0" fill="#e1e1e1" stroke="#929292" stroke-width="1.0"/>
<circle cx="70.2" cy="423.1" r="2.3" fill="#cfcfcf" stroke="#929292" stroke-width="1.0"/>
<circle cx="69.1" cy="493.3" r="2.3" fill="#c7c7c7" stroke="#929292" stroke-width="1.0"/>
<circle cx="38.2" cy="500.4" r="2.6" fill="#d3d3d3" stroke="#929292" stroke-width="1.0"/>
<circle cx="60.3" cy="482.0" r="2.3" fill="#cacaca" stroke="#929292" stroke-width="1.0"/>
<circle cx="197.4" cy="479.8" r="2.9" fill="#d2d2d2" stroke="#929292" stroke-width="1.0"/>
<circle cx="114.4" cy="428.0" r="2.5" fill="#d3d3d3" stroke="#929292" stroke-width="1.0"/>
<circle cx="63.5" cy="501.0" r="2.3" fill="#d2d2d2" stroke="#929292" stroke-width="1.0"/>
<circle cx="182.5" cy="457.3" r="2.6" fill="#d9d9d9" stroke="#929292" stroke-width="1.0"/>
<circle cx="119.3" cy="457.8" r="2.3" fill="#cccccc" stroke="#929292" stroke-width="1.0"/>
<circle cx="38.5" cy="475.9" r="2.3" fill="#c4c4c4" stroke="#929292" stroke-width="1.0"/>
<circle cx="149.6" cy="487.2" r="2.4" fill="#c3c3c3" stroke="#929292" stroke-width="1.0"/>
<circle cx="61.0" cy="474.0" r="6.1" fill="#c4c4c4" stroke="#929292" stroke-width="1.0"/>
<circle cx="123.6" cy="450.5" r="5.3" fill="#d6d6d6" stroke="#929292" stroke-width="1.0"/>
<circle cx="119.0" cy="423.5" r="5.2" fill="#cfcfcf" stroke="#929292" stroke-width="1.0"/>
<circle cx="47.6" cy="427.3" r="6.5" fill="#e3e3e3" stroke="#929292" stroke-width="1.0"/>
<circle cx="171.0" cy="430.1" r="6.5" fill="#d6d6d6" stroke="#929292" stroke-width="1.0"/>
<circle cx="138.4" cy="498.6" r="5.8" fill="#dfdfdf" stroke="#929292" stroke-width="1.0"/>
<circle cx="100.9" cy="501.5" r="7.0" fill="#ebebeb" stroke="#929292" stroke-width="1.0"/>
<circle cx="175.7" cy="444.2" r="5.2" fill="#c2c2c2" stroke="#929292" stroke-width="1.0"/>
<circle cx="55.8" cy="445.7" r="5.5" fill="#c0c0c0" stroke="#929292" stroke-width="1.0"/>
<circle cx="96.9" cy="465.5" r="7.2" fill="#c6c6c6" stroke="#929292" stroke-width="1.0"/>
<circle cx="46.5" cy="437.3" r="5.2" fill="#d0d0d0" stroke="#929292" stroke-width="1.0"/>
<circle cx="105.9" cy="445.8" r="7.4" fill="#d9d9d9" stroke="#929292" stroke-width="1.0"/>
<circle cx="150.4" cy="439.8" r="7.8" fill="#e0e0e0" stroke="#929292" stroke-width="1.0"/>
<circle cx="121.9" cy="493.0" r="7.0" fill="#cfcfcf" stroke="#929292" stroke-width="1.0"/>
<circle cx="83.0" cy="502.1" r="7.6" fill="#eaeaea" stroke="#929292" stroke-width="1.0"/>
<circle cx="104.5" cy="482.7" r="5.4" fill="#c0c0c0" stroke="#929292" stroke-width="1.0"/>
<circle cx="161.1" cy="467.7" r="7.3" fill="#e4e4e4" stroke="#929292" stroke-width="1.0"/>
<circle cx="87.1" cy="478.1" r="8.1" fill="#c9c9c9" stroke="#929292" stroke-width="1.0"/>
<circle cx="130.8" cy="457.8" r="7.1" fill="#e6e6e6" stroke="#929292" stroke-width="1.0"/>
<circle cx="190.9" cy="459.3" r="7.9" fill="#c1c1c1" stroke="#929292" stroke-width="1.0"/>
<circle cx="45.8" cy="478.5" r="7.3" fill="#eaeaea" stroke="#929292" stroke-width="1.0"/>
<circle cx="198.5" cy="488.6" r="7.3" fill="#e1e1e1" stroke="#929292" stroke-width="1.0"/>
<circle cx="111.6" cy="434.3" r="5.1" fill="#ebebeb" stroke="#929292" stroke-width="1.0"/>
<circle cx="76.9" cy="452.5" r="5.5" fill="#d9d9d9" stroke="#929292" stroke-width="1.0"/>
<circle cx="48.7" cy="457.2" r="8.0" fill="#c7c7c7" stroke="#929292" stroke-width="1.0"/>
<circle cx="180.4" cy="488.3" r="6.9" fill="#eaeaea" stroke="#929292" stroke-width="1.0"/>
<circle cx="180.3" cy="499.6" r="6.3" fill="#d3d3d3" stroke="#929292" stroke-width="1.0"/>
<circle cx="65.3" cy="439.4" r="5.5" fill="#c3c3c3" stroke="#929292" stroke-width="1.0"/>
<circle cx="115.3" cy="468.9" r="5.8" fill="#dadada" stroke="#929292" stroke-width="1.0"/>
<circle cx="37.2" cy="454.8" r="5.9" fill="#d5d5d5" stroke="#929292" stroke-width="1.0"/>
<circle cx="44.7" cy="495.2" r="7.4" fill="#d4d4d4" stroke="#929292" stroke-width="1.0"/>
<circle cx="101.3" cy="428.4" r="6.4" fill="#c6c6c6" stroke="#929292" stroke-width="1.0"/>
<circle cx="36.9" cy="432.8" r="5.2" fill="#c5c5c5" stroke="#929292" stroke-width="1.0"/>
<circle cx="136.5" cy="431.6" r="8.1" fill="#d9d9d9" stroke="#929292" stroke-width="1.0"/>
<circle cx="93.0" cy="450.2" r="5.9" fill="#d3d3d3" stroke="#929292" stroke-width="1.0"/>
<circle cx="62.1" cy="421.0" r="7.9" fill="#c5c5c5" stroke="#929292" stroke-width="1.0"/>
<circle cx="72.7" cy="487.4" r="6.2" fill="#d3d3d3" stroke="#929292" stroke-width="1.0"/>
<circle cx="82.1" cy="441.7" r="5.1" fill="#dfdfdf" stroke="#929292" stroke-width="1.0"/>
<circle cx="173.8" cy="459.8" r="8.2" fill="#dfdfdf" stroke="#929292" stroke-width="1.0"/>
<circle cx="61.3" cy="494.9" r="5.4" fill="#d4d4d4" stroke="#929292" stroke-width="1.0"/>
<circle cx="142.4" cy="463.8" r="8.4" fill="#d1d1d1" stroke="#929292" stroke-width="1.0"/>
<circle cx="75.6" cy="468.7" r="6.0" fill="#cfcfcf" stroke="#929292" stroke-width="1.0"/>
<circle cx="37.3" cy="486.2" r="5.6" fill="#c9c9c9" stroke="#929292" stroke-width="1.0"/>
<circle cx="113.5" cy="480.1" r="5.6" fill="#c8c8c8" stroke="#929292" stroke-width="1.0"/>
<circle cx="189.8" cy="478.2" r="6.7" fill="#d3d3d3" stroke="#929292" stroke-width="1.0"/>
<circle cx="190.5" cy="441.0" r="8.1" fill="#c4c4c4" stroke="#929292" stroke-width="1.0"/>
<circle cx="75.8" cy="426.4" r="5.3" fill="#dfdfdf" stroke="#929292" stroke-width="1.0"/>
<circle cx="164.3" cy="495.0" r="7.3" fill="#dfdfdf" stroke="#929292" stroke-width="1.0"/>
<circle cx="152.8" cy="474.7" r="5.5" fill="#dadada" stroke="#929292" stroke-width="1.0"/>
<circle cx="38.9" cy="466.1" r="7.5" fill="#c0c0c0" stroke="#929292" stroke-width="1.0"/>
<circle cx="150.5" cy="427.0" r="7.0" fill="#d0d0d0" stroke="#929292" stroke-width="1.0"/>
<circle cx="188.7" cy="428.6" r="6.7" fill="#d3d3d3" stroke="#929292" stroke-width="1.0"/>
<circle cx="61.9" cy="457.0" r="6.6" fill="#c4c4c4" stroke="#929292" stroke-width="1.0"/>
<circle cx="192.8" cy="500.7" r="5.9" fill="#eaeaea" stroke="#929292" stroke-width="1.0"/>
<circle cx="94.4" cy="420.0" r="6.1" fill="#e1e1e1" stroke="#929292" stroke-width="1.0"/>
<circle cx="40.6" cy="445.4" r="5.1" fill="#d6d6d6" stroke="#929292" stroke-width="1.0"/>
<circle cx="138.7" cy="481.4" r="8.1" fill="#dfdfdf" stroke="#929292" stroke-width="1.0"/>
<circle cx="128.8" cy="421.0" r="6.1" fill="#c8c8c8" stroke="#929292" stroke-width="1.0"/>
<circle cx="112.0" cy="458.7" r="6.8" fill="#cacaca" stroke="#929292" stroke-width="1.0"/>
<circle cx="173.1" cy="420.1" r="6.1" fill="#d7d7d7" stroke="#929292" stroke-width="1.0"/>
<circle cx="85.6" cy="430.2" r="7.3" fill="#e0e0e0" stroke="#929292" stroke-width="1.0"/>
<circle cx="71.0" cy="501.0" r="6.4" fill="#dcdcdc" stroke="#929292" stroke-width="1.0"/>
<circle cx="161.6" cy="422.5" r="7.8" fill="#c0c0c0" stroke="#929292" stroke-width="1.0"/>
<circle cx="174.7" cy="475.4" r="7.6" fill="#dadada" stroke="#929292" stroke-width="1.0"/>
<circle cx="149.4" cy="454.1" r="5.6" fill="#e7e7e7" stroke="#929292" stroke-width="1.0"/>
<circle cx="126.1" cy="473.0" r="5.1" fill="#e0e0e0" stroke="#929292" stroke-width="1.0"/>
<circle cx="164.1" cy="438.6" r="5.6" fill="#e8e8e8" stroke="#929292" stroke-width="1.0"/>
<circle cx="127.8" cy="482.6" r="5.1" fill="#ebebeb" stroke="#929292" stroke-width="1.0"/>
<circle cx="155.5" cy="484.3" r="5.3" fill="#c9c9c9" stroke="#929292" stroke-width="1.0"/>
<circle cx="197.5" cy="472.2" r="5.4" fill="#cdcdcd" stroke="#929292" stroke-width="1.0"/>
<circle cx="39.5" cy="419.6" r="7.3" fill="#d8d8d8" stroke="#929292" stroke-width="1.0"/>
<circle cx="162.3" cy="448.7" r="6.5" fill="#eaeaea" stroke="#929292" stroke-width="1.0"/>
<circle cx="124.0" cy="437.6" r="7.5" fill="#d0d0d0" stroke="#929292" stroke-width="1.0"/>
<circle cx="196.2" cy="419.5" r="7.7" fill="#e9e9e9" stroke="#929292" stroke-width="1.0"/>
<circle cx="164.3" cy="477.7" r="5.3" fill="#e5e5e5" stroke="#929292" stroke-width="1.0"/>
<circle cx="85.6" cy="459.8" r="5.9" fill="#d6d6d6" stroke="#929292" stroke-width="1.0"/>
<circle cx="91.3" cy="492.0" r="7.2" fill="#dbdbdb" stroke="#929292" stroke-width="1.0"/>
<circle cx="153.7" cy="493.2" r="5.1" fill="#eaeaea" stroke="#929292" stroke-width="1.0"/>
<circle cx="106.5" cy="473.3" r="6.1" fill="#e2e2e2" stroke="#929292" stroke-width="1.0"/>
<circle cx="56.1" cy="487.0" r="5.1" fill="#cdcdcd" stroke="#929292" stroke-width="1.0"/>
<circle cx="132.6" cy="491.3" r="5.5" fill="#e5e5e5" stroke="#929292" stroke-width="1.0"/>
<circle cx="139.4" cy="450.2" r="6.5" fill="#c8c8c8" stroke="#929292" stroke-width="1.0"/>
<circle cx="183.1" cy="468.3" r="5.3" fill="#d0d0d0" stroke="#929292" stroke-width="1.0"/>
<circle cx="94.8" cy="435.6" r="5.6" fill="#eaeaea" stroke="#929292" stroke-width="1.0"/>
<circle cx="54.5" cy="503.0" r="7.6" fill="#e5e5e5" stroke="#929292" stroke-width="1.0"/>
<circle cx="111.2" cy="501.4" r="5.1" fill="#cdcdcd" stroke="#929292" stroke-width="1.0"/>
<circle cx="182.9" cy="420.6" r="5.3" fill="#cccccc" stroke="#929292" stroke-width="1.0"/>
<circle cx="148.1" cy="502.1" r="5.3" fill="#dadada" stroke="#929292" stroke-width="1.0"/>
<circle cx="110.1" cy="421.8" r="5.3" fill="#e5e5e5" stroke="#929292" stroke-width="1.0"/>
<circle cx="108.8" cy="491.7" r="5.0" fill="#dedede" stroke="#929292" stroke-width="1.0"/>
<circle cx="55.8" cy="434.8" r="6.3" fill="#e9e9e9" stroke="#929292" stroke-width="1.0"/>
<circle cx="142.1" cy="420.6" r="5.8" fill="#e0e0e0" stroke="#929292" stroke-width="1.0"/>
<circle cx="197.7" cy="432.6" r="5.5" fill="#e4e4e4" stroke="#929292" stroke-width="1.0"/>
<circle cx="52.4" cy="468.6" r="5.9" fill="#dadada" stroke="#929292" stroke-width="1.0"/>
<circle cx="74.7" cy="436.6" r="5.6" fill="#cfcfcf" stroke="#929292" stroke-width="1.0"/>
<circle cx="198.7" cy="451.2" r="6.0" fill="#d2d2d2" stroke="#929292" stroke-width="1.0"/>
<circle cx="127.9" cy="501.7" r="5.6" fill="#d5d5d5" stroke="#929292" stroke-width="1.0"/>
<circle cx="180.0" cy="436.1" r="5.8" fill="#d7d7d7" stroke="#929292" stroke-width="1.0"/>
<circle cx="183.0" cy="449.2" r="5.4" fill="#e4e4e4" stroke="#929292" stroke-width="1.0"/>
<circle cx="70.0" cy="477.6" r="5.9" fill="#cbcbcb" stroke="#929292" stroke-width="1.0"/>
<circle cx="67.7" cy="447.9" r="5.0" fill="#c3c3c3" stroke="#929292" stroke-width="1.0"/>
<circle cx="67.6" cy="430.8" r="5.4" fill="#e0e0e0" stroke="#929292" stroke-width="1.0"/>
<circle cx="102.6" cy="455.4" r="5.3" fill="#cbcbcb" stroke="#929292" stroke-width="1.0"/>
<circle cx="169.1" cy="485.2" r="5.8" fill="#d2d2d2" stroke="#929292" stroke-width="1.0"/>
<circle cx="97.7" cy="476.6" r="5.2" fill="#c5c5c5" stroke="#929292" stroke-width="1.0"/>
<circle cx="159.4" cy="457.5" r="5.1" fill="#e4e4e4" stroke="#929292" stroke-width="1.0"/>
<circle cx="144.5" cy="491.8" r="5.6" fill="#cccccc" stroke="#929292" stroke-width="1.0"/></g>
<path d="M39.5,380.0 L196.0,380.0 L196.0,426.8 L195.5,427.2 L191.5,426.7 L187.5,426.9 L183.5,427.2 L179.5,425.0 L175.5,426.5 L171.5,427.5 L167.5,426.0 L163.5,424.9 L159.5,425.5 L155.5,424.6 L151.5,425.2 L147.5,426.2 L143.5,426.1 L139.5,427.2 L135.5,425.6 L131.5,425.5 L127.5,425.9 L123.5,424.6 L119.5,424.6 L115.5,425.3 L111.5,425.8 L107.5,426.1 L103.5,427.3 L99.5,427.5 L95.5,426.7 L91.5,425.7 L87.5,425.8 L83.5,425.0 L79.5,426.2 L75.5,426.3 L71.5,426.3 L67.5,425.4 L63.5,426.5 L59.5,426.7 L55.5,427.0 L51.5,424.8 L47.5,424.7 L43.5,427.3 L39.5,427.4 Z" fill="#272727" />
<ellipse cx="60" cy="416" rx="28" ry="10" fill="#7a7a7a" opacity="0.6" filter="url(#bl3)"/>
<ellipse cx="185" cy="418" rx="14" ry="8" fill="#5a5a5a" opacity="0.5" filter="url(#bl3)"/>
<ellipse cx="164" cy="394" rx="6" ry="4" fill="#e8e8e8" opacity="0.9" filter="url(#bl3)"/>
<ellipse cx="72" cy="421" rx="3" ry="3" fill="#f0f0f0" opacity="0.9" filter="url(#bl06)"/>
<path d="M75.0,421.9 L91.9,406.9 L105.9,401.5 L123.8,398.9 L133.8,396.4 L147.7,397.0 L153.7,401.0 L165.7,403.0 L173.7,410.0 L180.6,419.9 L185.6,427.9 L171.7,425.5 L155.7,422.9 L139.8,421.9 L133.8,419.9 L125.8,422.9 L99.9,422.9 L79.9,422.9 Z" fill="#080808" stroke="#e6e6e6" stroke-width="1.1" stroke-dasharray="1 1.3"/>
</g>
<g clip-path="url(#pE1)">
<rect x="207" y="260.5" width="156" height="115.5" fill="#b2b2b2" filter="url(#nE1)"/>
<path d="M207.0,260.5 L363.0,260.5 L363.0,308.1 L362.0,308.5 L359.5,307.5 L357.0,308.3 L354.5,308.1 L352.0,308.6 L349.5,308.7 L347.0,308.6 L344.5,307.5 L342.0,308.3 L339.5,308.8 L337.0,308.6 L334.5,308.7 L332.0,308.3 L329.5,308.6 L327.0,308.1 L324.5,308.1 L322.0,307.8 L319.5,307.8 L317.0,308.0 L314.5,307.7 L312.0,308.2 L309.5,307.9 L307.0,308.7 L304.5,307.5 L302.0,307.4 L299.5,307.4 L297.0,308.6 L294.5,308.7 L292.0,307.9 L289.5,308.5 L287.0,307.8 L284.5,308.7 L282.0,308.3 L279.5,308.6 L277.0,308.4 L274.5,308.0 L272.0,308.6 L269.5,307.2 L267.0,307.7 L264.5,308.1 L262.0,308.4 L259.5,307.3 L257.0,308.3 L254.5,308.4 L252.0,308.0 L249.5,308.6 L247.0,308.2 L244.5,307.4 L242.0,308.2 L239.5,308.0 L237.0,308.5 L234.5,308.0 L232.0,308.8 L229.5,307.6 L227.0,307.6 L224.5,308.5 L222.0,307.2 L219.5,307.3 L217.0,308.2 L214.5,308.2 L212.0,307.8 L209.5,308.1 L207.0,307.6 Z" fill="#3c3c3c" />
</g>
<g clip-path="url(#pE2)">
<rect x="207" y="380" width="156" height="116" fill="#a4a4a4" />
<g filter="url(#bl08)"><circle cx="313.8" cy="490.1" r="2.7" fill="#b4b4b4" stroke="#a0a0a0" stroke-width="0.7"/>
<circle cx="242.5" cy="458.5" r="2.2" fill="#b2b2b2" stroke="#a0a0a0" stroke-width="0.7"/>
<circle cx="224.2" cy="461.4" r="2.2" fill="#ababab" stroke="#a0a0a0" stroke-width="0.7"/>
<circle cx="215.9" cy="488.7" r="1.6" fill="#c0c0c0" stroke="#a0a0a0" stroke-width="0.7"/>
<circle cx="230.7" cy="478.2" r="2.1" fill="#a8a8a8" stroke="#a0a0a0" stroke-width="0.7"/>
<circle cx="311.7" cy="500.4" r="1.8" fill="#b6b6b6" stroke="#a0a0a0" stroke-width="0.7"/>
<circle cx="240.8" cy="482.3" r="1.8" fill="#c1c1c1" stroke="#a0a0a0" stroke-width="0.7"/>
<circle cx="310.1" cy="477.3" r="2.2" fill="#aaaaaa" stroke="#a0a0a0" stroke-width="0.7"/>
<circle cx="333.1" cy="496.0" r="1.9" fill="#b7b7b7" stroke="#a0a0a0" stroke-width="0.7"/>
<circle cx="294.5" cy="464.5" r="2.7" fill="#b9b9b9" stroke="#a0a0a0" stroke-width="0.7"/>
<circle cx="216.7" cy="434.8" r="1.9" fill="#a9a9a9" stroke="#a0a0a0" stroke-width="0.7"/>
<circle cx="225.8" cy="444.8" r="1.9" fill="#b2b2b2" stroke="#a0a0a0" stroke-width="0.7"/>
<circle cx="310.8" cy="438.3" r="2.2" fill="#bbbbbb" stroke="#a0a0a0" stroke-width="0.7"/>
<circle cx="243.9" cy="488.0" r="2.0" fill="#b4b4b4" stroke="#a0a0a0" stroke-width="0.7"/>
<circle cx="257.3" cy="469.5" r="2.2" fill="#bcbcbc" stroke="#a0a0a0" stroke-width="0.7"/>
<circle cx="294.5" cy="471.7" r="2.5" fill="#acacac" stroke="#a0a0a0" stroke-width="0.7"/>
<circle cx="212.7" cy="434.1" r="2.1" fill="#aeaeae" stroke="#a0a0a0" stroke-width="0.7"/>
<circle cx="305.1" cy="481.0" r="1.9" fill="#ababab" stroke="#a0a0a0" stroke-width="0.7"/>
<circle cx="262.7" cy="451.8" r="2.4" fill="#b6b6b6" stroke="#a0a0a0" stroke-width="0.7"/>
<circle cx="282.1" cy="486.6" r="2.6" fill="#c1c1c1" stroke="#a0a0a0" stroke-width="0.7"/>
<circle cx="257.1" cy="439.0" r="1.7" fill="#b8b8b8" stroke="#a0a0a0" stroke-width="0.7"/>
<circle cx="268.0" cy="484.5" r="1.6" fill="#bdbdbd" stroke="#a0a0a0" stroke-width="0.7"/>
<circle cx="346.3" cy="444.8" r="1.8" fill="#b2b2b2" stroke="#a0a0a0" stroke-width="0.7"/>
<circle cx="316.3" cy="430.9" r="1.6" fill="#bcbcbc" stroke="#a0a0a0" stroke-width="0.7"/>
<circle cx="304.3" cy="487.1" r="2.5" fill="#aaaaaa" stroke="#a0a0a0" stroke-width="0.7"/>
<circle cx="347.0" cy="466.6" r="2.2" fill="#b0b0b0" stroke="#a0a0a0" stroke-width="0.7"/>
<circle cx="344.6" cy="496.6" r="2.3" fill="#bababa" stroke="#a0a0a0" stroke-width="0.7"/>
<circle cx="345.1" cy="427.9" r="2.4" fill="#bcbcbc" stroke="#a0a0a0" stroke-width="0.7"/>
<circle cx="246.4" cy="475.8" r="2.1" fill="#b3b3b3" stroke="#a0a0a0" stroke-width="0.7"/>
<circle cx="213.5" cy="470.4" r="2.0" fill="#aaaaaa" stroke="#a0a0a0" stroke-width="0.7"/>
<circle cx="318.4" cy="428.4" r="1.6" fill="#afafaf" stroke="#a0a0a0" stroke-width="0.7"/>
<circle cx="265.1" cy="481.3" r="2.4" fill="#adadad" stroke="#a0a0a0" stroke-width="0.7"/>
<circle cx="290.4" cy="437.3" r="1.6" fill="#afafaf" stroke="#a0a0a0" stroke-width="0.7"/>
<circle cx="251.1" cy="480.0" r="1.8" fill="#bebebe" stroke="#a0a0a0" stroke-width="0.7"/>
<circle cx="265.7" cy="472.5" r="1.9" fill="#adadad" stroke="#a0a0a0" stroke-width="0.7"/>
<circle cx="224.3" cy="465.1" r="1.6" fill="#c0c0c0" stroke="#a0a0a0" stroke-width="0.7"/>
<circle cx="217.0" cy="480.3" r="2.4" fill="#c0c0c0" stroke="#a0a0a0" stroke-width="0.7"/>
<circle cx="211.5" cy="500.0" r="1.8" fill="#a9a9a9" stroke="#a0a0a0" stroke-width="0.7"/>
<circle cx="246.0" cy="456.5" r="2.4" fill="#b2b2b2" stroke="#a0a0a0" stroke-width="0.7"/>
<circle cx="249.9" cy="441.3" r="2.3" fill="#b5b5b5" stroke="#a0a0a0" stroke-width="0.7"/>
<circle cx="332.9" cy="441.6" r="1.8" fill="#a8a8a8" stroke="#a0a0a0" stroke-width="0.7"/>
<circle cx="275.8" cy="439.2" r="2.1" fill="#b3b3b3" stroke="#a0a0a0" stroke-width="0.7"/>
<circle cx="209.7" cy="488.2" r="2.5" fill="#c1c1c1" stroke="#a0a0a0" stroke-width="0.7"/>
<circle cx="243.3" cy="469.3" r="2.0" fill="#ababab" stroke="#a0a0a0" stroke-width="0.7"/>
<circle cx="213.0" cy="429.3" r="1.8" fill="#b8b8b8" stroke="#a0a0a0" stroke-width="0.7"/>
<circle cx="322.0" cy="444.4" r="2.8" fill="#ababab" stroke="#a0a0a0" stroke-width="0.7"/>
<circle cx="286.6" cy="429.2" r="1.7" fill="#b8b8b8" stroke="#a0a0a0" stroke-width="0.7"/>
<circle cx="323.1" cy="440.5" r="1.9" fill="#c1c1c1" stroke="#a0a0a0" stroke-width="0.7"/>
<circle cx="356.4" cy="437.6" r="1.9" fill="#adadad" stroke="#a0a0a0" stroke-width="0.7"/>
<circle cx="317.4" cy="471.8" r="2.0" fill="#a8a8a8" stroke="#a0a0a0" stroke-width="0.7"/>
<circle cx="270.0" cy="465.2" r="1.8" fill="#aaaaaa" stroke="#a0a0a0" stroke-width="0.7"/>
<circle cx="347.9" cy="479.8" r="2.0" fill="#b7b7b7" stroke="#a0a0a0" stroke-width="0.7"/>
<circle cx="328.8" cy="475.4" r="2.5" fill="#a8a8a8" stroke="#a0a0a0" stroke-width="0.7"/>
<circle cx="257.8" cy="423.2" r="2.0" fill="#aaaaaa" stroke="#a0a0a0" stroke-width="0.7"/>
<circle cx="218.1" cy="475.7" r="2.5" fill="#b5b5b5" stroke="#a0a0a0" stroke-width="0.7"/>
<circle cx="348.9" cy="463.0" r="2.7" fill="#c1c1c1" stroke="#a0a0a0" stroke-width="0.7"/>
<circle cx="352.6" cy="463.8" r="1.6" fill="#b3b3b3" stroke="#a0a0a0" stroke-width="0.7"/>
<circle cx="324.8" cy="426.6" r="2.0" fill="#b3b3b3" stroke="#a0a0a0" stroke-width="0.7"/>
<circle cx="221.2" cy="459.4" r="2.1" fill="#b9b9b9" stroke="#a0a0a0" stroke-width="0.7"/>
<circle cx="340.3" cy="436.3" r="2.4" fill="#aaaaaa" stroke="#a0a0a0" stroke-width="0.7"/>
<circle cx="354.8" cy="454.2" r="1.8" fill="#b8b8b8" stroke="#a0a0a0" stroke-width="0.7"/>
<circle cx="264.7" cy="434.7" r="1.8" fill="#acacac" stroke="#a0a0a0" stroke-width="0.7"/>
<circle cx="265.4" cy="492.4" r="1.8" fill="#b9b9b9" stroke="#a0a0a0" stroke-width="0.7"/>
<circle cx="216.3" cy="452.6" r="1.9" fill="#c2c2c2" stroke="#a0a0a0" stroke-width="0.7"/>
<circle cx="281.0" cy="443.3" r="1.8" fill="#a9a9a9" stroke="#a0a0a0" stroke-width="0.7"/>
<circle cx="251.3" cy="494.0" r="1.8" fill="#b7b7b7" stroke="#a0a0a0" stroke-width="0.7"/>
<circle cx="262.4" cy="472.0" r="2.1" fill="#b8b8b8" stroke="#a0a0a0" stroke-width="0.7"/>
<circle cx="217.4" cy="456.2" r="2.0" fill="#acacac" stroke="#a0a0a0" stroke-width="0.7"/>
<circle cx="286.7" cy="442.8" r="2.0" fill="#afafaf" stroke="#a0a0a0" stroke-width="0.7"/>
<circle cx="297.4" cy="427.2" r="2.6" fill="#c3c3c3" stroke="#a0a0a0" stroke-width="0.7"/>
<circle cx="206.2" cy="447.8" r="1.6" fill="#c3c3c3" stroke="#a0a0a0" stroke-width="0.7"/>
<circle cx="266.8" cy="452.2" r="1.8" fill="#ababab" stroke="#a0a0a0" stroke-width="0.7"/>
<circle cx="338.0" cy="474.9" r="1.7" fill="#bbbbbb" stroke="#a0a0a0" stroke-width="0.7"/>
<circle cx="288.0" cy="426.7" r="1.8" fill="#c2c2c2" stroke="#a0a0a0" stroke-width="0.7"/>
<circle cx="211.6" cy="436.9" r="1.6" fill="#aeaeae" stroke="#a0a0a0" stroke-width="0.7"/>
<circle cx="314.5" cy="496.4" r="1.7" fill="#b9b9b9" stroke="#a0a0a0" stroke-width="0.7"/>
<circle cx="350.3" cy="442.0" r="2.0" fill="#a9a9a9" stroke="#a0a0a0" stroke-width="0.7"/>
<circle cx="355.0" cy="450.9" r="1.6" fill="#b2b2b2" stroke="#a0a0a0" stroke-width="0.7"/>
<circle cx="212.9" cy="445.1" r="1.7" fill="#bababa" stroke="#a0a0a0" stroke-width="0.7"/>
<circle cx="269.7" cy="433.3" r="1.7" fill="#b8b8b8" stroke="#a0a0a0" stroke-width="0.7"/>
<circle cx="293.3" cy="441.7" r="2.1" fill="#bdbdbd" stroke="#a0a0a0" stroke-width="0.7"/>
<circle cx="306.3" cy="447.9" r="1.8" fill="#aaaaaa" stroke="#a0a0a0" stroke-width="0.7"/>
<circle cx="210.2" cy="457.4" r="2.1" fill="#b1b1b1" stroke="#a0a0a0" stroke-width="0.7"/>
<circle cx="219.1" cy="486.6" r="2.0" fill="#c0c0c0" stroke="#a0a0a0" stroke-width="0.7"/>
<circle cx="275.2" cy="435.1" r="2.2" fill="#b8b8b8" stroke="#a0a0a0" stroke-width="0.7"/>
<circle cx="342.8" cy="431.5" r="2.0" fill="#b4b4b4" stroke="#a0a0a0" stroke-width="0.7"/>
<circle cx="345.9" cy="492.0" r="1.9" fill="#b3b3b3" stroke="#a0a0a0" stroke-width="0.7"/>
<circle cx="243.1" cy="453.0" r="1.6" fill="#c3c3c3" stroke="#a0a0a0" stroke-width="0.7"/>
<circle cx="292.2" cy="500.6" r="2.3" fill="#b8b8b8" stroke="#a0a0a0" stroke-width="0.7"/>
<circle cx="278.2" cy="498.0" r="2.2" fill="#a8a8a8" stroke="#a0a0a0" stroke-width="0.7"/>
<circle cx="363.5" cy="428.6" r="1.8" fill="#bebebe" stroke="#a0a0a0" stroke-width="0.7"/>
<circle cx="363.4" cy="444.9" r="2.3" fill="#b1b1b1" stroke="#a0a0a0" stroke-width="0.7"/>
<circle cx="268.4" cy="489.4" r="2.3" fill="#b4b4b4" stroke="#a0a0a0" stroke-width="0.7"/>
<circle cx="332.8" cy="445.8" r="2.2" fill="#adadad" stroke="#a0a0a0" stroke-width="0.7"/>
<circle cx="339.8" cy="469.7" r="2.2" fill="#b4b4b4" stroke="#a0a0a0" stroke-width="0.7"/>
<circle cx="315.6" cy="484.6" r="1.6" fill="#b1b1b1" stroke="#a0a0a0" stroke-width="0.7"/>
<circle cx="256.8" cy="434.5" r="1.6" fill="#aaaaaa" stroke="#a0a0a0" stroke-width="0.7"/>
<circle cx="301.7" cy="428.9" r="2.1" fill="#b9b9b9" stroke="#a0a0a0" stroke-width="0.7"/>
<circle cx="230.6" cy="474.7" r="1.7" fill="#aaaaaa" stroke="#a0a0a0" stroke-width="0.7"/>
<circle cx="282.4" cy="494.9" r="1.6" fill="#bdbdbd" stroke="#a0a0a0" stroke-width="0.7"/>
<circle cx="255.6" cy="482.9" r="1.7" fill="#a8a8a8" stroke="#a0a0a0" stroke-width="0.7"/>
<circle cx="300.5" cy="487.9" r="1.7" fill="#bdbdbd" stroke="#a0a0a0" stroke-width="0.7"/>
<circle cx="312.0" cy="473.5" r="2.2" fill="#bebebe" stroke="#a0a0a0" stroke-width="0.7"/>
<circle cx="211.0" cy="468.0" r="1.8" fill="#b5b5b5" stroke="#a0a0a0" stroke-width="0.7"/>
<circle cx="284.8" cy="471.6" r="2.0" fill="#bbbbbb" stroke="#a0a0a0" stroke-width="0.7"/>
<circle cx="290.1" cy="456.0" r="1.6" fill="#aeaeae" stroke="#a0a0a0" stroke-width="0.7"/>
<circle cx="262.4" cy="461.5" r="2.1" fill="#bcbcbc" stroke="#a0a0a0" stroke-width="0.7"/>
<circle cx="238.2" cy="484.3" r="1.7" fill="#b3b3b3" stroke="#a0a0a0" stroke-width="0.7"/>
<circle cx="348.8" cy="446.4" r="1.7" fill="#aeaeae" stroke="#a0a0a0" stroke-width="0.7"/>
<circle cx="297.3" cy="495.2" r="2.1" fill="#c2c2c2" stroke="#a0a0a0" stroke-width="0.7"/>
<circle cx="301.7" cy="457.7" r="1.6" fill="#b3b3b3" stroke="#a0a0a0" stroke-width="0.7"/>
<circle cx="234.4" cy="467.3" r="1.6" fill="#b2b2b2" stroke="#a0a0a0" stroke-width="0.7"/>
<circle cx="249.5" cy="496.6" r="1.8" fill="#c0c0c0" stroke="#a0a0a0" stroke-width="0.7"/>
<circle cx="294.5" cy="460.7" r="1.8" fill="#b2b2b2" stroke="#a0a0a0" stroke-width="0.7"/>
<circle cx="349.2" cy="470.3" r="2.5" fill="#bababa" stroke="#a0a0a0" stroke-width="0.7"/>
<circle cx="325.0" cy="488.0" r="1.9" fill="#acacac" stroke="#a0a0a0" stroke-width="0.7"/>
<circle cx="341.5" cy="495.8" r="1.7" fill="#bfbfbf" stroke="#a0a0a0" stroke-width="0.7"/>
<circle cx="241.8" cy="484.8" r="1.6" fill="#afafaf" stroke="#a0a0a0" stroke-width="0.7"/>
<circle cx="334.3" cy="454.1" r="1.7" fill="#a9a9a9" stroke="#a0a0a0" stroke-width="0.7"/>
<circle cx="341.6" cy="489.8" r="2.3" fill="#c3c3c3" stroke="#a0a0a0" stroke-width="0.7"/>
<circle cx="341.6" cy="424.4" r="2.5" fill="#acacac" stroke="#a0a0a0" stroke-width="0.7"/>
<circle cx="258.1" cy="427.3" r="2.5" fill="#c2c2c2" stroke="#a0a0a0" stroke-width="0.7"/>
<circle cx="318.2" cy="445.8" r="1.7" fill="#c3c3c3" stroke="#a0a0a0" stroke-width="0.7"/>
<circle cx="252.1" cy="458.0" r="1.8" fill="#b8b8b8" stroke="#a0a0a0" stroke-width="0.7"/>
<circle cx="337.5" cy="478.4" r="1.6" fill="#a8a8a8" stroke="#a0a0a0" stroke-width="0.7"/>
<circle cx="304.8" cy="437.3" r="1.6" fill="#a9a9a9" stroke="#a0a0a0" stroke-width="0.7"/>
<circle cx="255.3" cy="431.4" r="2.0" fill="#adadad" stroke="#a0a0a0" stroke-width="0.7"/>
<circle cx="232.9" cy="487.6" r="2.5" fill="#b2b2b2" stroke="#a0a0a0" stroke-width="0.7"/>
<circle cx="252.1" cy="476.0" r="1.6" fill="#b9b9b9" stroke="#a0a0a0" stroke-width="0.7"/>
<circle cx="272.7" cy="465.3" r="1.6" fill="#c3c3c3" stroke="#a0a0a0" stroke-width="0.7"/>
<circle cx="354.1" cy="424.0" r="2.1" fill="#b1b1b1" stroke="#a0a0a0" stroke-width="0.7"/>
<circle cx="245.0" cy="472.0" r="1.6" fill="#ababab" stroke="#a0a0a0" stroke-width="0.7"/>
<circle cx="328.7" cy="479.2" r="1.6" fill="#b7b7b7" stroke="#a0a0a0" stroke-width="0.7"/>
<circle cx="215.0" cy="449.1" r="1.9" fill="#ababab" stroke="#a0a0a0" stroke-width="0.7"/>
<circle cx="247.3" cy="433.7" r="1.8" fill="#aaaaaa" stroke="#a0a0a0" stroke-width="0.7"/>
<circle cx="310.4" cy="453.3" r="1.6" fill="#b7b7b7" stroke="#a0a0a0" stroke-width="0.7"/>
<circle cx="325.7" cy="500.7" r="2.1" fill="#bbbbbb" stroke="#a0a0a0" stroke-width="0.7"/>
<circle cx="289.6" cy="440.2" r="1.8" fill="#a9a9a9" stroke="#a0a0a0" stroke-width="0.7"/>
<circle cx="348.8" cy="427.6" r="1.6" fill="#b4b4b4" stroke="#a0a0a0" stroke-width="0.7"/>
<circle cx="277.1" cy="455.1" r="1.9" fill="#bbbbbb" stroke="#a0a0a0" stroke-width="0.7"/>
<circle cx="231.7" cy="468.3" r="1.7" fill="#bdbdbd" stroke="#a0a0a0" stroke-width="0.7"/>
<circle cx="271.0" cy="469.0" r="1.6" fill="#b2b2b2" stroke="#a0a0a0" stroke-width="0.7"/>
<circle cx="330.3" cy="466.3" r="1.9" fill="#c0c0c0" stroke="#a0a0a0" stroke-width="0.7"/>
<circle cx="290.8" cy="433.8" r="2.1" fill="#acacac" stroke="#a0a0a0" stroke-width="0.7"/>
<circle cx="297.4" cy="469.3" r="2.0" fill="#bcbcbc" stroke="#a0a0a0" stroke-width="0.7"/>
<circle cx="221.7" cy="477.6" r="1.8" fill="#bdbdbd" stroke="#a0a0a0" stroke-width="0.7"/>
<circle cx="233.3" cy="461.8" r="1.7" fill="#c0c0c0" stroke="#a0a0a0" stroke-width="0.7"/>
<circle cx="347.0" cy="458.4" r="2.2" fill="#b5b5b5" stroke="#a0a0a0" stroke-width="0.7"/>
<circle cx="313.9" cy="454.0" r="2.0" fill="#aaaaaa" stroke="#a0a0a0" stroke-width="0.7"/>
<circle cx="222.7" cy="437.3" r="1.7" fill="#a9a9a9" stroke="#a0a0a0" stroke-width="0.7"/>
<circle cx="234.8" cy="436.3" r="2.1" fill="#b6b6b6" stroke="#a0a0a0" stroke-width="0.7"/>
<circle cx="221.4" cy="434.3" r="1.6" fill="#acacac" stroke="#a0a0a0" stroke-width="0.7"/>
<circle cx="206.9" cy="437.7" r="1.6" fill="#b9b9b9" stroke="#a0a0a0" stroke-width="0.7"/>
<circle cx="282.3" cy="428.8" r="1.7" fill="#aaaaaa" stroke="#a0a0a0" stroke-width="0.7"/>
<circle cx="261.9" cy="493.4" r="2.1" fill="#bdbdbd" stroke="#a0a0a0" stroke-width="0.7"/>
<circle cx="247.1" cy="443.1" r="1.6" fill="#aeaeae" stroke="#a0a0a0" stroke-width="0.7"/>
<circle cx="227.3" cy="458.9" r="1.6" fill="#a8a8a8" stroke="#a0a0a0" stroke-width="0.7"/>
<circle cx="344.5" cy="481.4" r="1.6" fill="#acacac" stroke="#a0a0a0" stroke-width="0.7"/>
<circle cx="224.5" cy="439.3" r="1.6" fill="#b4b4b4" stroke="#a0a0a0" stroke-width="0.7"/>
<circle cx="296.3" cy="423.0" r="1.9" fill="#b7b7b7" stroke="#a0a0a0" stroke-width="0.7"/>
<circle cx="358.3" cy="477.7" r="1.9" fill="#b2b2b2" stroke="#a0a0a0" stroke-width="0.7"/>
<circle cx="218.8" cy="447.9" r="1.7" fill="#acacac" stroke="#a0a0a0" stroke-width="0.7"/>
<circle cx="313.6" cy="426.4" r="1.6" fill="#b5b5b5" stroke="#a0a0a0" stroke-width="0.7"/>
<circle cx="284.2" cy="475.2" r="1.6" fill="#c2c2c2" stroke="#a0a0a0" stroke-width="0.7"/>
<circle cx="212.8" cy="465.7" r="1.7" fill="#b6b6b6" stroke="#a0a0a0" stroke-width="0.7"/>
<circle cx="312.5" cy="443.2" r="2.0" fill="#c2c2c2" stroke="#a0a0a0" stroke-width="0.7"/>
<circle cx="222.9" cy="445.7" r="1.8" fill="#a8a8a8" stroke="#a0a0a0" stroke-width="0.7"/>
<circle cx="335.9" cy="447.8" r="1.7" fill="#c3c3c3" stroke="#a0a0a0" stroke-width="0.7"/>
<circle cx="209.9" cy="428.9" r="2.1" fill="#c0c0c0" stroke="#a0a0a0" stroke-width="0.7"/>
<circle cx="291.6" cy="487.9" r="1.6" fill="#b7b7b7" stroke="#a0a0a0" stroke-width="0.7"/>
<circle cx="230.9" cy="471.4" r="1.9" fill="#b6b6b6" stroke="#a0a0a0" stroke-width="0.7"/>
<circle cx="359.1" cy="432.0" r="4.3" fill="#b7b7b7" stroke="#a0a0a0" stroke-width="0.7"/>
<circle cx="217.8" cy="441.3" r="6.0" fill="#c1c1c1" stroke="#a0a0a0" stroke-width="0.7"/>
<circle cx="237.6" cy="473.8" r="7.0" fill="#a9a9a9" stroke="#a0a0a0" stroke-width="0.7"/>
<circle cx="277.4" cy="461.6" r="5.1" fill="#b9b9b9" stroke="#a0a0a0" stroke-width="0.7"/>
<circle cx="337.9" cy="429.1" r="4.2" fill="#b7b7b7" stroke="#a0a0a0" stroke-width="0.7"/>
<circle cx="208.0" cy="443.3" r="4.3" fill="#b0b0b0" stroke="#a0a0a0" stroke-width="0.7"/>
<circle cx="349.7" cy="452.2" r="4.9" fill="#bcbcbc" stroke="#a0a0a0" stroke-width="0.7"/>
<circle cx="246.4" cy="501.3" r="3.9" fill="#bcbcbc" stroke="#a0a0a0" stroke-width="0.7"/>
<circle cx="304.2" cy="452.2" r="3.7" fill="#aaaaaa" stroke="#a0a0a0" stroke-width="0.7"/>
<circle cx="258.9" cy="477.7" r="5.8" fill="#bbbbbb" stroke="#a0a0a0" stroke-width="0.7"/>
<circle cx="309.1" cy="494.6" r="5.2" fill="#b4b4b4" stroke="#a0a0a0" stroke-width="0.7"/>
<circle cx="227.2" cy="426.5" r="5.5" fill="#b5b5b5" stroke="#a0a0a0" stroke-width="0.7"/>
<circle cx="283.2" cy="436.6" r="6.8" fill="#b9b9b9" stroke="#a0a0a0" stroke-width="0.7"/>
<circle cx="297.9" cy="481.0" r="6.8" fill="#a9a9a9" stroke="#a0a0a0" stroke-width="0.7"/>
<circle cx="250.2" cy="450.2" r="6.6" fill="#b8b8b8" stroke="#a0a0a0" stroke-width="0.7"/>
<circle cx="225.7" cy="483.8" r="6.6" fill="#b2b2b2" stroke="#a0a0a0" stroke-width="0.7"/>
<circle cx="315.4" cy="478.1" r="3.8" fill="#c0c0c0" stroke="#a0a0a0" stroke-width="0.7"/>
<circle cx="340.9" cy="462.3" r="6.8" fill="#aeaeae" stroke="#a0a0a0" stroke-width="0.7"/>
<circle cx="229.0" cy="464.3" r="4.2" fill="#bfbfbf" stroke="#a0a0a0" stroke-width="0.7"/>
<circle cx="215.9" cy="494.8" r="5.3" fill="#bcbcbc" stroke="#a0a0a0" stroke-width="0.7"/>
<circle cx="317.5" cy="439.2" r="5.3" fill="#b9b9b9" stroke="#a0a0a0" stroke-width="0.7"/>
<circle cx="272.7" cy="452.1" r="4.4" fill="#c0c0c0" stroke="#a0a0a0" stroke-width="0.7"/>
<circle cx="348.6" cy="435.2" r="6.4" fill="#a9a9a9" stroke="#a0a0a0" stroke-width="0.7"/>
<circle cx="206.8" cy="483.3" r="4.6" fill="#b8b8b8" stroke="#a0a0a0" stroke-width="0.7"/>
<circle cx="232.0" cy="456.8" r="4.7" fill="#b9b9b9" stroke="#a0a0a0" stroke-width="0.7"/>
<circle cx="299.2" cy="444.9" r="5.0" fill="#bababa" stroke="#a0a0a0" stroke-width="0.7"/>
<circle cx="218.7" cy="430.6" r="3.8" fill="#b3b3b3" stroke="#a0a0a0" stroke-width="0.7"/>
<circle cx="262.4" cy="487.0" r="5.3" fill="#a9a9a9" stroke="#a0a0a0" stroke-width="0.7"/>
<circle cx="318.6" cy="501.0" r="5.3" fill="#adadad" stroke="#a0a0a0" stroke-width="0.7"/>
<circle cx="207.8" cy="433.3" r="3.7" fill="#b9b9b9" stroke="#a0a0a0" stroke-width="0.7"/>
<circle cx="359.7" cy="421.9" r="4.7" fill="#adadad" stroke="#a0a0a0" stroke-width="0.7"/>
<circle cx="237.9" cy="492.9" r="6.4" fill="#a9a9a9" stroke="#a0a0a0" stroke-width="0.7"/>
<circle cx="359.2" cy="482.7" r="3.6" fill="#b1b1b1" stroke="#a0a0a0" stroke-width="0.7"/>
<circle cx="298.0" cy="435.3" r="7.0" fill="#b5b5b5" stroke="#a0a0a0" stroke-width="0.7"/>
<circle cx="275.5" cy="427.5" r="6.9" fill="#b6b6b6" stroke="#a0a0a0" stroke-width="0.7"/>
<circle cx="319.9" cy="459.6" r="6.0" fill="#a8a8a8" stroke="#a0a0a0" stroke-width="0.7"/>
<circle cx="262.6" cy="439.8" r="4.9" fill="#bdbdbd" stroke="#a0a0a0" stroke-width="0.7"/>
<circle cx="263.3" cy="456.6" r="3.6" fill="#b1b1b1" stroke="#a0a0a0" stroke-width="0.7"/>
<circle cx="205.2" cy="471.3" r="5.8" fill="#bdbdbd" stroke="#a0a0a0" stroke-width="0.7"/>
<circle cx="240.0" cy="445.1" r="6.9" fill="#a8a8a8" stroke="#a0a0a0" stroke-width="0.7"/>
<circle cx="362.0" cy="451.4" r="5.4" fill="#c2c2c2" stroke="#a0a0a0" stroke-width="0.7"/>
<circle cx="358.7" cy="490.0" r="4.8" fill="#b8b8b8" stroke="#a0a0a0" stroke-width="0.7"/>
<circle cx="251.4" cy="471.1" r="4.6" fill="#c3c3c3" stroke="#a0a0a0" stroke-width="0.7"/>
<circle cx="339.6" cy="443.2" r="5.4" fill="#c3c3c3" stroke="#a0a0a0" stroke-width="0.7"/>
<circle cx="251.6" cy="486.5" r="4.5" fill="#bfbfbf" stroke="#a0a0a0" stroke-width="0.7"/>
<circle cx="262.7" cy="499.7" r="4.9" fill="#aaaaaa" stroke="#a0a0a0" stroke-width="0.7"/>
<circle cx="330.1" cy="485.7" r="4.8" fill="#b1b1b1" stroke="#a0a0a0" stroke-width="0.7"/>
<circle cx="309.9" cy="484.7" r="4.9" fill="#aeaeae" stroke="#a0a0a0" stroke-width="0.7"/>
<circle cx="279.0" cy="491.4" r="3.8" fill="#bdbdbd" stroke="#a0a0a0" stroke-width="0.7"/>
<circle cx="344.0" cy="474.5" r="5.6" fill="#adadad" stroke="#a0a0a0" stroke-width="0.7"/>
<circle cx="257.2" cy="463.6" r="4.8" fill="#aeaeae" stroke="#a0a0a0" stroke-width="0.7"/>
<circle cx="320.4" cy="449.9" r="3.9" fill="#ababab" stroke="#a0a0a0" stroke-width="0.7"/>
<circle cx="330.4" cy="429.6" r="5.0" fill="#ababab" stroke="#a0a0a0" stroke-width="0.7"/>
<circle cx="251.8" cy="436.0" r="4.3" fill="#c2c2c2" stroke="#a0a0a0" stroke-width="0.7"/>
<circle cx="366.0" cy="497.7" r="6.8" fill="#c3c3c3" stroke="#a0a0a0" stroke-width="0.7"/>
<circle cx="355.3" cy="468.3" r="5.0" fill="#b2b2b2" stroke="#a0a0a0" stroke-width="0.7"/>
<circle cx="283.3" cy="450.9" r="6.9" fill="#bcbcbc" stroke="#a0a0a0" stroke-width="0.7"/>
<circle cx="285.0" cy="500.9" r="6.4" fill="#b5b5b5" stroke="#a0a0a0" stroke-width="0.7"/>
<circle cx="355.5" cy="444.8" r="5.4" fill="#b6b6b6" stroke="#a0a0a0" stroke-width="0.7"/>
<circle cx="289.2" cy="483.4" r="4.3" fill="#b2b2b2" stroke="#a0a0a0" stroke-width="0.7"/>
<circle cx="308.9" cy="431.0" r="6.4" fill="#b9b9b9" stroke="#a0a0a0" stroke-width="0.7"/>
<circle cx="210.2" cy="451.6" r="4.9" fill="#aeaeae" stroke="#a0a0a0" stroke-width="0.7"/>
<circle cx="309.5" cy="460.1" r="6.8" fill="#afafaf" stroke="#a0a0a0" stroke-width="0.7"/>
<circle cx="318.6" cy="493.2" r="4.0" fill="#b6b6b6" stroke="#a0a0a0" stroke-width="0.7"/>
<circle cx="324.2" cy="468.9" r="6.2" fill="#adadad" stroke="#a0a0a0" stroke-width="0.7"/>
<circle cx="276.4" cy="472.7" r="6.5" fill="#b4b4b4" stroke="#a0a0a0" stroke-width="0.7"/>
<circle cx="306.8" cy="442.2" r="4.3" fill="#c2c2c2" stroke="#a0a0a0" stroke-width="0.7"/>
<circle cx="271.1" cy="495.9" r="6.5" fill="#a8a8a8" stroke="#a0a0a0" stroke-width="0.7"/>
<circle cx="215.5" cy="461.1" r="3.6" fill="#aaaaaa" stroke="#a0a0a0" stroke-width="0.7"/>
<circle cx="246.6" cy="463.8" r="5.9" fill="#bebebe" stroke="#a0a0a0" stroke-width="0.7"/>
<circle cx="304.2" cy="471.7" r="6.9" fill="#a9a9a9" stroke="#a0a0a0" stroke-width="0.7"/>
<circle cx="230.3" cy="440.8" r="5.6" fill="#afafaf" stroke="#a0a0a0" stroke-width="0.7"/>
<circle cx="315.1" cy="467.1" r="4.2" fill="#bfbfbf" stroke="#a0a0a0" stroke-width="0.7"/>
<circle cx="223.1" cy="452.6" r="6.2" fill="#b8b8b8" stroke="#a0a0a0" stroke-width="0.7"/>
<circle cx="266.5" cy="446.9" r="4.7" fill="#aeaeae" stroke="#a0a0a0" stroke-width="0.7"/>
<circle cx="275.0" cy="483.9" r="6.0" fill="#a9a9a9" stroke="#a0a0a0" stroke-width="0.7"/>
<circle cx="260.8" cy="431.7" r="3.6" fill="#afafaf" stroke="#a0a0a0" stroke-width="0.7"/>
<circle cx="331.1" cy="459.6" r="5.6" fill="#b0b0b0" stroke="#a0a0a0" stroke-width="0.7"/>
<circle cx="228.0" cy="499.9" r="6.7" fill="#bebebe" stroke="#a0a0a0" stroke-width="0.7"/>
<circle cx="347.1" cy="500.5" r="3.5" fill="#c3c3c3" stroke="#a0a0a0" stroke-width="0.7"/>
<circle cx="251.0" cy="427.5" r="5.0" fill="#bebebe" stroke="#a0a0a0" stroke-width="0.7"/>
<circle cx="346.6" cy="486.3" r="4.8" fill="#c1c1c1" stroke="#a0a0a0" stroke-width="0.7"/>
<circle cx="235.4" cy="430.6" r="5.0" fill="#c2c2c2" stroke="#a0a0a0" stroke-width="0.7"/>
<circle cx="265.2" cy="467.2" r="4.3" fill="#c0c0c0" stroke="#a0a0a0" stroke-width="0.7"/>
<circle cx="322.0" cy="432.8" r="4.5" fill="#c1c1c1" stroke="#a0a0a0" stroke-width="0.7"/>
<circle cx="313.1" cy="448.7" r="4.8" fill="#c3c3c3" stroke="#a0a0a0" stroke-width="0.7"/>
<circle cx="337.0" cy="492.9" r="4.3" fill="#aaaaaa" stroke="#a0a0a0" stroke-width="0.7"/>
<circle cx="353.4" cy="428.6" r="3.7" fill="#b0b0b0" stroke="#a0a0a0" stroke-width="0.7"/>
<circle cx="290.6" cy="468.2" r="3.8" fill="#aeaeae" stroke="#a0a0a0" stroke-width="0.7"/>
<circle cx="209.2" cy="421.6" r="6.3" fill="#b8b8b8" stroke="#a0a0a0" stroke-width="0.7"/>
<circle cx="218.7" cy="466.9" r="4.5" fill="#b5b5b5" stroke="#a0a0a0" stroke-width="0.7"/>
<circle cx="270.3" cy="439.2" r="4.3" fill="#b1b1b1" stroke="#a0a0a0" stroke-width="0.7"/>
<circle cx="352.9" cy="458.8" r="3.8" fill="#bfbfbf" stroke="#a0a0a0" stroke-width="0.7"/>
<circle cx="296.1" cy="454.4" r="6.1" fill="#b3b3b3" stroke="#a0a0a0" stroke-width="0.7"/>
<circle cx="296.2" cy="489.9" r="4.0" fill="#adadad" stroke="#a0a0a0" stroke-width="0.7"/>
<circle cx="318.3" cy="422.3" r="5.5" fill="#afafaf" stroke="#a0a0a0" stroke-width="0.7"/>
<circle cx="211.5" cy="477.2" r="4.9" fill="#b4b4b4" stroke="#a0a0a0" stroke-width="0.7"/>
<circle cx="240.2" cy="501.2" r="3.6" fill="#b9b9b9" stroke="#a0a0a0" stroke-width="0.7"/>
<circle cx="301.9" cy="423.0" r="4.7" fill="#b7b7b7" stroke="#a0a0a0" stroke-width="0.7"/>
<circle cx="332.9" cy="478.5" r="3.5" fill="#b4b4b4" stroke="#a0a0a0" stroke-width="0.7"/>
<circle cx="355.8" cy="500.9" r="5.5" fill="#adadad" stroke="#a0a0a0" stroke-width="0.7"/>
<circle cx="287.1" cy="460.9" r="4.5" fill="#b3b3b3" stroke="#a0a0a0" stroke-width="0.7"/>
<circle cx="290.1" cy="421.9" r="4.5" fill="#b1b1b1" stroke="#a0a0a0" stroke-width="0.7"/>
<circle cx="234.0" cy="482.0" r="4.0" fill="#acacac" stroke="#a0a0a0" stroke-width="0.7"/>
<circle cx="353.4" cy="476.4" r="4.2" fill="#b7b7b7" stroke="#a0a0a0" stroke-width="0.7"/>
<circle cx="282.9" cy="480.0" r="4.4" fill="#adadad" stroke="#a0a0a0" stroke-width="0.7"/>
<circle cx="275.6" cy="445.1" r="3.9" fill="#bbbbbb" stroke="#a0a0a0" stroke-width="0.7"/>
<circle cx="327.5" cy="445.0" r="3.8" fill="#bababa" stroke="#a0a0a0" stroke-width="0.7"/>
<circle cx="361.9" cy="438.7" r="4.6" fill="#ababab" stroke="#a0a0a0" stroke-width="0.7"/>
<circle cx="254.1" cy="501.3" r="4.6" fill="#b9b9b9" stroke="#a0a0a0" stroke-width="0.7"/>
<circle cx="298.4" cy="500.2" r="4.3" fill="#b1b1b1" stroke="#a0a0a0" stroke-width="0.7"/>
<circle cx="331.1" cy="501.5" r="4.3" fill="#b4b4b4" stroke="#a0a0a0" stroke-width="0.7"/>
<circle cx="245.9" cy="481.9" r="4.5" fill="#b8b8b8" stroke="#a0a0a0" stroke-width="0.7"/>
<circle cx="347.6" cy="421.8" r="5.6" fill="#bdbdbd" stroke="#a0a0a0" stroke-width="0.7"/>
<circle cx="264.7" cy="420.6" r="6.9" fill="#c0c0c0" stroke="#a0a0a0" stroke-width="0.7"/>
<circle cx="205.5" cy="495.5" r="6.6" fill="#bcbcbc" stroke="#a0a0a0" stroke-width="0.7"/>
<circle cx="290.9" cy="446.1" r="3.9" fill="#adadad" stroke="#a0a0a0" stroke-width="0.7"/>
<circle cx="338.2" cy="501.3" r="4.0" fill="#b7b7b7" stroke="#a0a0a0" stroke-width="0.7"/>
<circle cx="359.7" cy="459.6" r="4.3" fill="#b1b1b1" stroke="#a0a0a0" stroke-width="0.7"/>
<circle cx="334.3" cy="471.1" r="4.8" fill="#a8a8a8" stroke="#a0a0a0" stroke-width="0.7"/>
<circle cx="224.8" cy="472.5" r="5.7" fill="#b7b7b7" stroke="#a0a0a0" stroke-width="0.7"/>
<circle cx="238.8" cy="454.3" r="4.0" fill="#b5b5b5" stroke="#a0a0a0" stroke-width="0.7"/>
<circle cx="364.2" cy="474.9" r="5.8" fill="#c0c0c0" stroke="#a0a0a0" stroke-width="0.7"/>
<circle cx="242.2" cy="425.2" r="4.3" fill="#b1b1b1" stroke="#a0a0a0" stroke-width="0.7"/>
<circle cx="326.7" cy="494.3" r="5.9" fill="#bfbfbf" stroke="#a0a0a0" stroke-width="0.7"/>
<circle cx="256.9" cy="493.2" r="4.0" fill="#b6b6b6" stroke="#a0a0a0" stroke-width="0.7"/>
<circle cx="292.0" cy="428.7" r="3.9" fill="#aaaaaa" stroke="#a0a0a0" stroke-width="0.7"/>
<circle cx="243.4" cy="431.9" r="3.5" fill="#bcbcbc" stroke="#a0a0a0" stroke-width="0.7"/>
<circle cx="323.8" cy="478.1" r="4.4" fill="#afafaf" stroke="#a0a0a0" stroke-width="0.7"/>
<circle cx="341.2" cy="452.2" r="5.5" fill="#b6b6b6" stroke="#a0a0a0" stroke-width="0.7"/>
<circle cx="331.7" cy="450.5" r="3.5" fill="#a9a9a9" stroke="#a0a0a0" stroke-width="0.7"/>
<circle cx="209.0" cy="463.0" r="4.1" fill="#a8a8a8" stroke="#a0a0a0" stroke-width="0.7"/>
<circle cx="351.8" cy="493.2" r="4.1" fill="#c1c1c1" stroke="#a0a0a0" stroke-width="0.7"/>
<circle cx="214.1" cy="484.5" r="3.9" fill="#a9a9a9" stroke="#a0a0a0" stroke-width="0.7"/>
<circle cx="234.9" cy="422.7" r="4.8" fill="#acacac" stroke="#a0a0a0" stroke-width="0.7"/>
<circle cx="321.0" cy="485.1" r="4.3" fill="#acacac" stroke="#a0a0a0" stroke-width="0.7"/>
<circle cx="222.6" cy="491.6" r="3.6" fill="#aaaaaa" stroke="#a0a0a0" stroke-width="0.7"/>
<circle cx="239.4" cy="436.5" r="3.5" fill="#bfbfbf" stroke="#a0a0a0" stroke-width="0.7"/>
<circle cx="292.0" cy="495.1" r="3.6" fill="#c3c3c3" stroke="#a0a0a0" stroke-width="0.7"/>
<circle cx="335.3" cy="437.2" r="3.8" fill="#bababa" stroke="#a0a0a0" stroke-width="0.7"/>
<circle cx="257.3" cy="454.7" r="3.5" fill="#b3b3b3" stroke="#a0a0a0" stroke-width="0.7"/>
<circle cx="364.0" cy="465.7" r="5.1" fill="#c0c0c0" stroke="#a0a0a0" stroke-width="0.7"/>
<circle cx="266.8" cy="429.2" r="3.6" fill="#b6b6b6" stroke="#a0a0a0" stroke-width="0.7"/>
<circle cx="237.5" cy="463.1" r="3.7" fill="#ababab" stroke="#a0a0a0" stroke-width="0.7"/>
<circle cx="217.4" cy="423.0" r="3.8" fill="#bbbbbb" stroke="#a0a0a0" stroke-width="0.7"/>
<circle cx="219.4" cy="501.5" r="3.6" fill="#b2b2b2" stroke="#a0a0a0" stroke-width="0.7"/>
<circle cx="268.7" cy="476.7" r="4.2" fill="#afafaf" stroke="#a0a0a0" stroke-width="0.7"/>
<circle cx="286.4" cy="491.8" r="4.0" fill="#b0b0b0" stroke="#a0a0a0" stroke-width="0.7"/>
<circle cx="246.8" cy="492.5" r="3.6" fill="#b2b2b2" stroke="#a0a0a0" stroke-width="0.7"/>
<circle cx="226.3" cy="433.8" r="3.5" fill="#adadad" stroke="#a0a0a0" stroke-width="0.7"/>
<circle cx="328.1" cy="437.6" r="4.7" fill="#b9b9b9" stroke="#a0a0a0" stroke-width="0.7"/>
<circle cx="338.7" cy="484.0" r="5.2" fill="#c0c0c0" stroke="#a0a0a0" stroke-width="0.7"/>
<circle cx="336.7" cy="422.9" r="3.7" fill="#b7b7b7" stroke="#a0a0a0" stroke-width="0.7"/>
<circle cx="289.3" cy="475.1" r="4.8" fill="#a8a8a8" stroke="#a0a0a0" stroke-width="0.7"/>
<circle cx="269.2" cy="459.9" r="3.8" fill="#bbbbbb" stroke="#a0a0a0" stroke-width="0.7"/>
<circle cx="299.6" cy="462.9" r="4.0" fill="#a8a8a8" stroke="#a0a0a0" stroke-width="0.7"/>
<circle cx="232.2" cy="449.0" r="3.8" fill="#b5b5b5" stroke="#a0a0a0" stroke-width="0.7"/>
<circle cx="282.9" cy="466.7" r="3.9" fill="#c0c0c0" stroke="#a0a0a0" stroke-width="0.7"/>
<circle cx="327.5" cy="421.8" r="4.7" fill="#bababa" stroke="#a0a0a0" stroke-width="0.7"/>
<circle cx="364.5" cy="485.6" r="3.7" fill="#c1c1c1" stroke="#a0a0a0" stroke-width="0.7"/>
<circle cx="353.2" cy="483.4" r="3.6" fill="#bdbdbd" stroke="#a0a0a0" stroke-width="0.7"/>
<circle cx="305.0" cy="501.4" r="3.9" fill="#afafaf" stroke="#a0a0a0" stroke-width="0.7"/>
<circle cx="283.5" cy="422.5" r="3.8" fill="#acacac" stroke="#a0a0a0" stroke-width="0.7"/>
<circle cx="245.1" cy="438.2" r="3.6" fill="#b4b4b4" stroke="#a0a0a0" stroke-width="0.7"/>
<circle cx="302.3" cy="492.4" r="3.6" fill="#bbbbbb" stroke="#a0a0a0" stroke-width="0.7"/>
<circle cx="259.1" cy="446.9" r="4.4" fill="#aeaeae" stroke="#a0a0a0" stroke-width="0.7"/>
<circle cx="325.8" cy="452.6" r="3.6" fill="#b1b1b1" stroke="#a0a0a0" stroke-width="0.7"/>
<circle cx="205.3" cy="457.8" r="3.5" fill="#bcbcbc" stroke="#a0a0a0" stroke-width="0.7"/>
<circle cx="309.4" cy="422.4" r="4.3" fill="#b1b1b1" stroke="#a0a0a0" stroke-width="0.7"/>
<circle cx="229.3" cy="491.4" r="3.7" fill="#b8b8b8" stroke="#a0a0a0" stroke-width="0.7"/>
<circle cx="254.5" cy="442.4" r="3.5" fill="#b7b7b7" stroke="#a0a0a0" stroke-width="0.7"/></g>
<path d="M207.0,380.0 L363.0,380.0 L363.0,428.0 L354.0,428.2 L346.0,428.7 L338.0,428.5 L330.0,429.5 L322.0,428.5 L314.0,429.0 L306.0,430.0 L298.0,428.5 L290.0,429.5 L283.0,429.0 L276.0,431.0 L270.7,433.0 L263.0,431.5 L256.0,430.5 L248.0,430.0 L240.0,428.5 L232.0,428.2 L226.0,429.5 L220.0,428.0 L213.0,428.5 L207.0,427.7 Z" fill="#3b3b3b" />
<path d="M207.0,427.7 L213.0,428.5 L220.0,428.0 L226.0,429.5 L232.0,428.2 L240.0,428.5 L248.0,430.0 L256.0,430.5 L263.0,431.5 L270.7,433.0 L276.0,431.0 L283.0,429.0 L290.0,429.5 L298.0,428.5 L306.0,430.0 L314.0,429.0 L322.0,428.5 L330.0,429.5 L338.0,428.5 L346.0,428.7 L354.0,428.2 L363.0,428.0" fill="none" stroke="#dcdcdc" stroke-width="1" stroke-dasharray="1 1.3"/>
</g>
<g clip-path="url(#pF)">
<rect x="373" y="260.5" width="142" height="115.5" fill="#b6b6b6" />
<g filter="url(#bl08)"><circle cx="420.3" cy="317.3" r="1.8" fill="#c9c9c9" stroke="#a4a4a4" stroke-width="0.7"/>
<circle cx="416.7" cy="325.7" r="1.7" fill="#c4c4c4" stroke="#a4a4a4" stroke-width="0.7"/>
<circle cx="416.0" cy="328.3" r="1.5" fill="#c9c9c9" stroke="#a4a4a4" stroke-width="0.7"/>
<circle cx="456.9" cy="343.2" r="1.9" fill="#bebebe" stroke="#a4a4a4" stroke-width="0.7"/>
<circle cx="464.0" cy="360.5" r="2.1" fill="#d0d0d0" stroke="#a4a4a4" stroke-width="0.7"/>
<circle cx="401.4" cy="338.4" r="1.7" fill="#d0d0d0" stroke="#a4a4a4" stroke-width="0.7"/>
<circle cx="506.1" cy="317.3" r="1.9" fill="#cbcbcb" stroke="#a4a4a4" stroke-width="0.7"/>
<circle cx="413.9" cy="361.2" r="1.9" fill="#bcbcbc" stroke="#a4a4a4" stroke-width="0.7"/>
<circle cx="407.3" cy="326.3" r="2.1" fill="#c7c7c7" stroke="#a4a4a4" stroke-width="0.7"/>
<circle cx="500.0" cy="351.2" r="2.2" fill="#c1c1c1" stroke="#a4a4a4" stroke-width="0.7"/>
<circle cx="389.1" cy="331.1" r="1.6" fill="#bfbfbf" stroke="#a4a4a4" stroke-width="0.7"/>
<circle cx="397.3" cy="345.2" r="2.1" fill="#d4d4d4" stroke="#a4a4a4" stroke-width="0.7"/>
<circle cx="439.0" cy="311.1" r="1.7" fill="#d5d5d5" stroke="#a4a4a4" stroke-width="0.7"/>
<circle cx="423.4" cy="375.2" r="1.6" fill="#b9b9b9" stroke="#a4a4a4" stroke-width="0.7"/>
<circle cx="515.8" cy="361.2" r="1.9" fill="#d1d1d1" stroke="#a4a4a4" stroke-width="0.7"/>
<circle cx="401.8" cy="332.6" r="1.6" fill="#cacaca" stroke="#a4a4a4" stroke-width="0.7"/>
<circle cx="424.8" cy="347.6" r="1.8" fill="#c3c3c3" stroke="#a4a4a4" stroke-width="0.7"/>
<circle cx="413.2" cy="323.7" r="1.7" fill="#c0c0c0" stroke="#a4a4a4" stroke-width="0.7"/>
<circle cx="420.0" cy="312.8" r="2.0" fill="#cccccc" stroke="#a4a4a4" stroke-width="0.7"/>
<circle cx="431.7" cy="321.6" r="1.7" fill="#c5c5c5" stroke="#a4a4a4" stroke-width="0.7"/>
<circle cx="497.0" cy="312.3" r="2.1" fill="#cccccc" stroke="#a4a4a4" stroke-width="0.7"/>
<circle cx="429.7" cy="346.2" r="1.7" fill="#cbcbcb" stroke="#a4a4a4" stroke-width="0.7"/>
<circle cx="391.8" cy="355.4" r="2.2" fill="#bbbbbb" stroke="#a4a4a4" stroke-width="0.7"/>
<circle cx="413.3" cy="334.8" r="1.5" fill="#cfcfcf" stroke="#a4a4a4" stroke-width="0.7"/>
<circle cx="417.1" cy="331.2" r="2.1" fill="#d5d5d5" stroke="#a4a4a4" stroke-width="0.7"/>
<circle cx="500.8" cy="369.3" r="2.0" fill="#d5d5d5" stroke="#a4a4a4" stroke-width="0.7"/>
<circle cx="469.5" cy="349.9" r="1.7" fill="#cacaca" stroke="#a4a4a4" stroke-width="0.7"/>
<circle cx="377.1" cy="310.3" r="1.8" fill="#b9b9b9" stroke="#a4a4a4" stroke-width="0.7"/>
<circle cx="411.4" cy="339.5" r="1.8" fill="#b8b8b8" stroke="#a4a4a4" stroke-width="0.7"/>
<circle cx="479.5" cy="359.5" r="1.7" fill="#bcbcbc" stroke="#a4a4a4" stroke-width="0.7"/>
<circle cx="452.3" cy="369.4" r="1.6" fill="#d4d4d4" stroke="#a4a4a4" stroke-width="0.7"/>
<circle cx="429.8" cy="318.9" r="1.9" fill="#c1c1c1" stroke="#a4a4a4" stroke-width="0.7"/>
<circle cx="486.8" cy="343.9" r="1.6" fill="#c2c2c2" stroke="#a4a4a4" stroke-width="0.7"/>
<circle cx="491.0" cy="334.5" r="2.0" fill="#d2d2d2" stroke="#a4a4a4" stroke-width="0.7"/>
<circle cx="381.0" cy="353.4" r="1.6" fill="#c1c1c1" stroke="#a4a4a4" stroke-width="0.7"/>
<circle cx="443.0" cy="329.4" r="2.1" fill="#c8c8c8" stroke="#a4a4a4" stroke-width="0.7"/>
<circle cx="450.3" cy="357.7" r="2.1" fill="#c5c5c5" stroke="#a4a4a4" stroke-width="0.7"/>
<circle cx="416.1" cy="344.8" r="2.0" fill="#b9b9b9" stroke="#a4a4a4" stroke-width="0.7"/>
<circle cx="455.1" cy="358.2" r="2.0" fill="#c9c9c9" stroke="#a4a4a4" stroke-width="0.7"/>
<circle cx="377.6" cy="340.3" r="2.3" fill="#d1d1d1" stroke="#a4a4a4" stroke-width="0.7"/>
<circle cx="480.4" cy="332.3" r="1.9" fill="#bcbcbc" stroke="#a4a4a4" stroke-width="0.7"/>
<circle cx="513.3" cy="344.1" r="1.6" fill="#bebebe" stroke="#a4a4a4" stroke-width="0.7"/>
<circle cx="477.3" cy="373.8" r="2.4" fill="#c4c4c4" stroke="#a4a4a4" stroke-width="0.7"/>
<circle cx="479.0" cy="323.4" r="2.2" fill="#b9b9b9" stroke="#a4a4a4" stroke-width="0.7"/>
<circle cx="393.0" cy="373.8" r="1.6" fill="#c6c6c6" stroke="#a4a4a4" stroke-width="0.7"/>
<circle cx="493.7" cy="328.6" r="1.7" fill="#d0d0d0" stroke="#a4a4a4" stroke-width="0.7"/>
<circle cx="499.3" cy="324.0" r="1.7" fill="#cbcbcb" stroke="#a4a4a4" stroke-width="0.7"/>
<circle cx="458.8" cy="311.9" r="1.8" fill="#c8c8c8" stroke="#a4a4a4" stroke-width="0.7"/>
<circle cx="460.0" cy="335.1" r="1.9" fill="#d1d1d1" stroke="#a4a4a4" stroke-width="0.7"/>
<circle cx="497.2" cy="339.0" r="1.9" fill="#bcbcbc" stroke="#a4a4a4" stroke-width="0.7"/>
<circle cx="497.2" cy="327.8" r="2.1" fill="#c9c9c9" stroke="#a4a4a4" stroke-width="0.7"/>
<circle cx="446.3" cy="355.5" r="1.5" fill="#c3c3c3" stroke="#a4a4a4" stroke-width="0.7"/>
<circle cx="424.1" cy="310.2" r="1.7" fill="#cacaca" stroke="#a4a4a4" stroke-width="0.7"/>
<circle cx="481.3" cy="327.0" r="2.0" fill="#bbbbbb" stroke="#a4a4a4" stroke-width="0.7"/>
<circle cx="451.4" cy="321.9" r="2.2" fill="#cfcfcf" stroke="#a4a4a4" stroke-width="0.7"/>
<circle cx="502.6" cy="354.7" r="1.5" fill="#bababa" stroke="#a4a4a4" stroke-width="0.7"/>
<circle cx="375.2" cy="317.0" r="1.6" fill="#bcbcbc" stroke="#a4a4a4" stroke-width="0.7"/>
<circle cx="441.4" cy="354.9" r="2.2" fill="#d0d0d0" stroke="#a4a4a4" stroke-width="0.7"/>
<circle cx="491.0" cy="360.2" r="1.8" fill="#d4d4d4" stroke="#a4a4a4" stroke-width="0.7"/>
<circle cx="452.7" cy="378.5" r="1.7" fill="#c4c4c4" stroke="#a4a4a4" stroke-width="0.7"/>
<circle cx="388.9" cy="363.9" r="1.5" fill="#c4c4c4" stroke="#a4a4a4" stroke-width="0.7"/>
<circle cx="386.9" cy="315.8" r="1.5" fill="#bfbfbf" stroke="#a4a4a4" stroke-width="0.7"/>
<circle cx="404.5" cy="331.9" r="1.6" fill="#c0c0c0" stroke="#a4a4a4" stroke-width="0.7"/>
<circle cx="418.5" cy="373.0" r="1.6" fill="#cacaca" stroke="#a4a4a4" stroke-width="0.7"/>
<circle cx="449.7" cy="311.3" r="1.6" fill="#bdbdbd" stroke="#a4a4a4" stroke-width="0.7"/>
<circle cx="392.9" cy="340.9" r="1.8" fill="#bbbbbb" stroke="#a4a4a4" stroke-width="0.7"/>
<circle cx="396.0" cy="358.1" r="1.9" fill="#c5c5c5" stroke="#a4a4a4" stroke-width="0.7"/>
<circle cx="497.0" cy="370.2" r="2.3" fill="#bcbcbc" stroke="#a4a4a4" stroke-width="0.7"/>
<circle cx="405.6" cy="372.3" r="1.5" fill="#cbcbcb" stroke="#a4a4a4" stroke-width="0.7"/>
<circle cx="377.8" cy="353.1" r="1.6" fill="#d0d0d0" stroke="#a4a4a4" stroke-width="0.7"/>
<circle cx="467.2" cy="360.3" r="1.6" fill="#cfcfcf" stroke="#a4a4a4" stroke-width="0.7"/>
<circle cx="511.7" cy="351.0" r="1.9" fill="#c6c6c6" stroke="#a4a4a4" stroke-width="0.7"/>
<circle cx="444.8" cy="332.2" r="1.6" fill="#c2c2c2" stroke="#a4a4a4" stroke-width="0.7"/>
<circle cx="427.8" cy="307.7" r="1.8" fill="#c5c5c5" stroke="#a4a4a4" stroke-width="0.7"/>
<circle cx="449.8" cy="334.2" r="1.9" fill="#b8b8b8" stroke="#a4a4a4" stroke-width="0.7"/>
<circle cx="380.9" cy="366.6" r="1.6" fill="#cdcdcd" stroke="#a4a4a4" stroke-width="0.7"/>
<circle cx="488.9" cy="367.6" r="2.1" fill="#c1c1c1" stroke="#a4a4a4" stroke-width="0.7"/>
<circle cx="409.9" cy="358.9" r="2.0" fill="#c1c1c1" stroke="#a4a4a4" stroke-width="0.7"/>
<circle cx="406.9" cy="329.9" r="2.1" fill="#bababa" stroke="#a4a4a4" stroke-width="0.7"/>
<circle cx="459.6" cy="373.5" r="1.7" fill="#c5c5c5" stroke="#a4a4a4" stroke-width="0.7"/>
<circle cx="418.3" cy="357.7" r="1.6" fill="#c9c9c9" stroke="#a4a4a4" stroke-width="0.7"/>
<circle cx="481.0" cy="342.3" r="1.8" fill="#c3c3c3" stroke="#a4a4a4" stroke-width="0.7"/>
<circle cx="395.5" cy="368.0" r="1.5" fill="#d2d2d2" stroke="#a4a4a4" stroke-width="0.7"/>
<circle cx="420.6" cy="359.4" r="1.7" fill="#cccccc" stroke="#a4a4a4" stroke-width="0.7"/>
<circle cx="449.6" cy="337.5" r="1.7" fill="#bfbfbf" stroke="#a4a4a4" stroke-width="0.7"/>
<circle cx="447.9" cy="322.7" r="1.9" fill="#c7c7c7" stroke="#a4a4a4" stroke-width="0.7"/>
<circle cx="444.9" cy="371.8" r="1.7" fill="#d3d3d3" stroke="#a4a4a4" stroke-width="0.7"/>
<circle cx="474.5" cy="315.4" r="1.5" fill="#c7c7c7" stroke="#a4a4a4" stroke-width="0.7"/>
<circle cx="388.1" cy="351.0" r="2.1" fill="#cacaca" stroke="#a4a4a4" stroke-width="0.7"/>
<circle cx="380.8" cy="360.7" r="1.5" fill="#b9b9b9" stroke="#a4a4a4" stroke-width="0.7"/>
<circle cx="383.8" cy="362.6" r="1.6" fill="#c6c6c6" stroke="#a4a4a4" stroke-width="0.7"/>
<circle cx="443.0" cy="363.7" r="1.6" fill="#c5c5c5" stroke="#a4a4a4" stroke-width="0.7"/>
<circle cx="455.3" cy="376.3" r="1.6" fill="#c4c4c4" stroke="#a4a4a4" stroke-width="0.7"/>
<circle cx="386.7" cy="361.6" r="1.7" fill="#c4c4c4" stroke="#a4a4a4" stroke-width="0.7"/>
<circle cx="403.7" cy="335.5" r="1.8" fill="#c9c9c9" stroke="#a4a4a4" stroke-width="0.7"/>
<circle cx="421.9" cy="349.3" r="1.8" fill="#c8c8c8" stroke="#a4a4a4" stroke-width="0.7"/>
<circle cx="447.2" cy="309.0" r="1.7" fill="#c6c6c6" stroke="#a4a4a4" stroke-width="0.7"/>
<circle cx="493.3" cy="375.6" r="1.5" fill="#bcbcbc" stroke="#a4a4a4" stroke-width="0.7"/>
<circle cx="474.1" cy="376.6" r="1.6" fill="#c5c5c5" stroke="#a4a4a4" stroke-width="0.7"/>
<circle cx="393.8" cy="318.9" r="2.0" fill="#d5d5d5" stroke="#a4a4a4" stroke-width="0.7"/>
<circle cx="386.6" cy="307.7" r="1.7" fill="#c4c4c4" stroke="#a4a4a4" stroke-width="0.7"/>
<circle cx="502.0" cy="366.0" r="1.7" fill="#b9b9b9" stroke="#a4a4a4" stroke-width="0.7"/>
<circle cx="406.7" cy="343.5" r="1.6" fill="#b8b8b8" stroke="#a4a4a4" stroke-width="0.7"/>
<circle cx="391.7" cy="365.5" r="2.0" fill="#c8c8c8" stroke="#a4a4a4" stroke-width="0.7"/>
<circle cx="414.4" cy="309.9" r="1.6" fill="#b9b9b9" stroke="#a4a4a4" stroke-width="0.7"/>
<circle cx="428.2" cy="355.9" r="1.5" fill="#bababa" stroke="#a4a4a4" stroke-width="0.7"/>
<circle cx="402.2" cy="317.8" r="1.5" fill="#bbbbbb" stroke="#a4a4a4" stroke-width="0.7"/>
<circle cx="469.3" cy="367.6" r="1.7" fill="#c5c5c5" stroke="#a4a4a4" stroke-width="0.7"/>
<circle cx="511.7" cy="336.5" r="2.0" fill="#d5d5d5" stroke="#a4a4a4" stroke-width="0.7"/>
<circle cx="467.3" cy="308.6" r="2.0" fill="#c6c6c6" stroke="#a4a4a4" stroke-width="0.7"/>
<circle cx="472.1" cy="329.2" r="1.6" fill="#c5c5c5" stroke="#a4a4a4" stroke-width="0.7"/>
<circle cx="439.6" cy="341.2" r="1.7" fill="#c5c5c5" stroke="#a4a4a4" stroke-width="0.7"/>
<circle cx="502.9" cy="322.7" r="1.7" fill="#c7c7c7" stroke="#a4a4a4" stroke-width="0.7"/>
<circle cx="500.6" cy="338.3" r="1.8" fill="#c5c5c5" stroke="#a4a4a4" stroke-width="0.7"/>
<circle cx="460.5" cy="356.9" r="1.8" fill="#cdcdcd" stroke="#a4a4a4" stroke-width="0.7"/>
<circle cx="465.5" cy="319.2" r="1.8" fill="#d2d2d2" stroke="#a4a4a4" stroke-width="0.7"/>
<circle cx="489.8" cy="373.9" r="1.5" fill="#cccccc" stroke="#a4a4a4" stroke-width="0.7"/>
<circle cx="442.0" cy="338.5" r="1.9" fill="#c4c4c4" stroke="#a4a4a4" stroke-width="0.7"/>
<circle cx="494.2" cy="338.1" r="1.6" fill="#cbcbcb" stroke="#a4a4a4" stroke-width="0.7"/>
<circle cx="410.0" cy="312.2" r="1.8" fill="#d3d3d3" stroke="#a4a4a4" stroke-width="0.7"/>
<circle cx="373.5" cy="374.8" r="1.5" fill="#bcbcbc" stroke="#a4a4a4" stroke-width="0.7"/>
<circle cx="449.3" cy="369.2" r="1.6" fill="#bfbfbf" stroke="#a4a4a4" stroke-width="0.7"/>
<circle cx="472.2" cy="347.6" r="1.6" fill="#cacaca" stroke="#a4a4a4" stroke-width="0.7"/>
<circle cx="496.9" cy="373.5" r="1.7" fill="#cccccc" stroke="#a4a4a4" stroke-width="0.7"/>
<circle cx="512.3" cy="374.7" r="1.9" fill="#cbcbcb" stroke="#a4a4a4" stroke-width="0.7"/>
<circle cx="372.7" cy="307.1" r="2.1" fill="#c9c9c9" stroke="#a4a4a4" stroke-width="0.7"/>
<circle cx="489.0" cy="347.6" r="1.6" fill="#d0d0d0" stroke="#a4a4a4" stroke-width="0.7"/>
<circle cx="413.8" cy="331.8" r="1.9" fill="#c6c6c6" stroke="#a4a4a4" stroke-width="0.7"/>
<circle cx="459.2" cy="369.6" r="1.6" fill="#d0d0d0" stroke="#a4a4a4" stroke-width="0.7"/>
<circle cx="411.9" cy="350.1" r="1.8" fill="#d4d4d4" stroke="#a4a4a4" stroke-width="0.7"/>
<circle cx="408.5" cy="356.2" r="1.7" fill="#c5c5c5" stroke="#a4a4a4" stroke-width="0.7"/>
<circle cx="434.1" cy="372.0" r="2.1" fill="#d1d1d1" stroke="#a4a4a4" stroke-width="0.7"/>
<circle cx="390.4" cy="318.0" r="1.9" fill="#cdcdcd" stroke="#a4a4a4" stroke-width="0.7"/>
<circle cx="425.0" cy="336.2" r="1.9" fill="#d2d2d2" stroke="#a4a4a4" stroke-width="0.7"/>
<circle cx="488.2" cy="318.0" r="1.6" fill="#b9b9b9" stroke="#a4a4a4" stroke-width="0.7"/>
<circle cx="400.5" cy="342.1" r="1.7" fill="#d3d3d3" stroke="#a4a4a4" stroke-width="0.7"/>
<circle cx="514.2" cy="334.8" r="1.7" fill="#cfcfcf" stroke="#a4a4a4" stroke-width="0.7"/>
<circle cx="438.2" cy="313.7" r="1.5" fill="#d4d4d4" stroke="#a4a4a4" stroke-width="0.7"/>
<circle cx="436.4" cy="307.2" r="2.0" fill="#d5d5d5" stroke="#a4a4a4" stroke-width="0.7"/>
<circle cx="477.5" cy="313.2" r="1.5" fill="#c0c0c0" stroke="#a4a4a4" stroke-width="0.7"/>
<circle cx="386.1" cy="341.1" r="1.6" fill="#cccccc" stroke="#a4a4a4" stroke-width="0.7"/>
<circle cx="491.4" cy="349.1" r="1.6" fill="#bcbcbc" stroke="#a4a4a4" stroke-width="0.7"/>
<circle cx="386.5" cy="371.2" r="2.0" fill="#c9c9c9" stroke="#a4a4a4" stroke-width="0.7"/>
<circle cx="492.6" cy="357.6" r="1.8" fill="#d3d3d3" stroke="#a4a4a4" stroke-width="0.7"/>
<circle cx="446.2" cy="339.9" r="1.5" fill="#bdbdbd" stroke="#a4a4a4" stroke-width="0.7"/>
<circle cx="469.2" cy="372.9" r="1.6" fill="#c2c2c2" stroke="#a4a4a4" stroke-width="0.7"/>
<circle cx="481.2" cy="316.1" r="1.5" fill="#bababa" stroke="#a4a4a4" stroke-width="0.7"/>
<circle cx="511.4" cy="347.8" r="1.8" fill="#bdbdbd" stroke="#a4a4a4" stroke-width="0.7"/>
<circle cx="505.3" cy="320.5" r="1.7" fill="#bebebe" stroke="#a4a4a4" stroke-width="0.7"/>
<circle cx="440.6" cy="346.5" r="1.7" fill="#bababa" stroke="#a4a4a4" stroke-width="0.7"/>
<circle cx="452.8" cy="333.4" r="1.9" fill="#d5d5d5" stroke="#a4a4a4" stroke-width="0.7"/>
<circle cx="385.6" cy="313.1" r="1.5" fill="#d2d2d2" stroke="#a4a4a4" stroke-width="0.7"/>
<circle cx="432.3" cy="349.2" r="1.8" fill="#c5c5c5" stroke="#a4a4a4" stroke-width="0.7"/>
<circle cx="430.0" cy="341.5" r="1.5" fill="#cecece" stroke="#a4a4a4" stroke-width="0.7"/>
<circle cx="416.7" cy="360.2" r="1.9" fill="#cccccc" stroke="#a4a4a4" stroke-width="0.7"/>
<circle cx="392.1" cy="332.3" r="2.1" fill="#c7c7c7" stroke="#a4a4a4" stroke-width="0.7"/>
<circle cx="480.7" cy="345.3" r="1.7" fill="#c4c4c4" stroke="#a4a4a4" stroke-width="0.7"/>
<circle cx="509.7" cy="368.2" r="1.6" fill="#cbcbcb" stroke="#a4a4a4" stroke-width="0.7"/>
<circle cx="483.1" cy="334.2" r="1.8" fill="#c8c8c8" stroke="#a4a4a4" stroke-width="0.7"/>
<circle cx="417.9" cy="315.1" r="1.6" fill="#bfbfbf" stroke="#a4a4a4" stroke-width="0.7"/>
<circle cx="462.3" cy="366.6" r="1.5" fill="#c2c2c2" stroke="#a4a4a4" stroke-width="0.7"/>
<circle cx="432.1" cy="325.4" r="1.5" fill="#cacaca" stroke="#a4a4a4" stroke-width="0.7"/>
<circle cx="427.5" cy="320.6" r="1.6" fill="#cacaca" stroke="#a4a4a4" stroke-width="0.7"/>
<circle cx="393.4" cy="337.3" r="1.7" fill="#bebebe" stroke="#a4a4a4" stroke-width="0.7"/>
<circle cx="428.2" cy="367.7" r="1.8" fill="#cacaca" stroke="#a4a4a4" stroke-width="0.7"/>
<circle cx="470.5" cy="352.5" r="1.6" fill="#d2d2d2" stroke="#a4a4a4" stroke-width="0.7"/>
<circle cx="441.8" cy="333.1" r="1.9" fill="#d2d2d2" stroke="#a4a4a4" stroke-width="0.7"/>
<circle cx="479.1" cy="329.3" r="1.5" fill="#cbcbcb" stroke="#a4a4a4" stroke-width="0.7"/>
<circle cx="414.8" cy="365.4" r="1.6" fill="#bababa" stroke="#a4a4a4" stroke-width="0.7"/>
<circle cx="413.5" cy="342.0" r="1.8" fill="#c4c4c4" stroke="#a4a4a4" stroke-width="0.7"/>
<circle cx="459.1" cy="315.2" r="1.8" fill="#bababa" stroke="#a4a4a4" stroke-width="0.7"/>
<circle cx="401.9" cy="351.4" r="1.8" fill="#b9b9b9" stroke="#a4a4a4" stroke-width="0.7"/>
<circle cx="481.9" cy="318.6" r="1.7" fill="#bfbfbf" stroke="#a4a4a4" stroke-width="0.7"/>
<circle cx="425.4" cy="316.0" r="4.6" fill="#c5c5c5" stroke="#a4a4a4" stroke-width="0.7"/>
<circle cx="370.9" cy="343.2" r="6.0" fill="#cecece" stroke="#a4a4a4" stroke-width="0.7"/>
<circle cx="381.9" cy="347.1" r="6.1" fill="#cacaca" stroke="#a4a4a4" stroke-width="0.7"/>
<circle cx="376.4" cy="333.9" r="5.2" fill="#c0c0c0" stroke="#a4a4a4" stroke-width="0.7"/>
<circle cx="436.9" cy="360.0" r="5.5" fill="#cccccc" stroke="#a4a4a4" stroke-width="0.7"/>
<circle cx="405.9" cy="314.4" r="3.6" fill="#c7c7c7" stroke="#a4a4a4" stroke-width="0.7"/>
<circle cx="506.2" cy="349.8" r="4.8" fill="#c7c7c7" stroke="#a4a4a4" stroke-width="0.7"/>
<circle cx="426.8" cy="361.6" r="5.7" fill="#bfbfbf" stroke="#a4a4a4" stroke-width="0.7"/>
<circle cx="413.6" cy="355.8" r="3.4" fill="#c5c5c5" stroke="#a4a4a4" stroke-width="0.7"/>
<circle cx="432.5" cy="311.9" r="5.5" fill="#c2c2c2" stroke="#a4a4a4" stroke-width="0.7"/>
<circle cx="401.7" cy="326.8" r="3.9" fill="#cdcdcd" stroke="#a4a4a4" stroke-width="0.7"/>
<circle cx="399.6" cy="372.3" r="5.8" fill="#c6c6c6" stroke="#a4a4a4" stroke-width="0.7"/>
<circle cx="455.4" cy="372.0" r="3.4" fill="#c5c5c5" stroke="#a4a4a4" stroke-width="0.7"/>
<circle cx="372.3" cy="312.3" r="3.7" fill="#c6c6c6" stroke="#a4a4a4" stroke-width="0.7"/>
<circle cx="505.8" cy="337.0" r="4.7" fill="#c6c6c6" stroke="#a4a4a4" stroke-width="0.7"/>
<circle cx="464.3" cy="312.8" r="4.4" fill="#cccccc" stroke="#a4a4a4" stroke-width="0.7"/>
<circle cx="395.9" cy="351.2" r="5.0" fill="#cdcdcd" stroke="#a4a4a4" stroke-width="0.7"/>
<circle cx="392.4" cy="325.6" r="5.1" fill="#d0d0d0" stroke="#a4a4a4" stroke-width="0.7"/>
<circle cx="517.9" cy="314.0" r="6.5" fill="#c4c4c4" stroke="#a4a4a4" stroke-width="0.7"/>
<circle cx="510.5" cy="323.1" r="5.5" fill="#cfcfcf" stroke="#a4a4a4" stroke-width="0.7"/>
<circle cx="457.3" cy="363.7" r="5.4" fill="#d4d4d4" stroke="#a4a4a4" stroke-width="0.7"/>
<circle cx="421.8" cy="369.7" r="3.3" fill="#d5d5d5" stroke="#a4a4a4" stroke-width="0.7"/>
<circle cx="436.8" cy="335.7" r="5.0" fill="#cdcdcd" stroke="#a4a4a4" stroke-width="0.7"/>
<circle cx="455.1" cy="306.2" r="6.5" fill="#b9b9b9" stroke="#a4a4a4" stroke-width="0.7"/>
<circle cx="418.7" cy="338.0" r="5.8" fill="#d1d1d1" stroke="#a4a4a4" stroke-width="0.7"/>
<circle cx="373.9" cy="364.3" r="5.7" fill="#d1d1d1" stroke="#a4a4a4" stroke-width="0.7"/>
<circle cx="478.7" cy="337.5" r="3.9" fill="#b8b8b8" stroke="#a4a4a4" stroke-width="0.7"/>
<circle cx="496.7" cy="333.3" r="4.3" fill="#c1c1c1" stroke="#a4a4a4" stroke-width="0.7"/>
<circle cx="378.4" cy="378.1" r="3.9" fill="#c1c1c1" stroke="#a4a4a4" stroke-width="0.7"/>
<circle cx="509.0" cy="378.8" r="3.6" fill="#cecece" stroke="#a4a4a4" stroke-width="0.7"/>
<circle cx="427.8" cy="351.2" r="3.7" fill="#cacaca" stroke="#a4a4a4" stroke-width="0.7"/>
<circle cx="390.7" cy="312.0" r="5.0" fill="#c0c0c0" stroke="#a4a4a4" stroke-width="0.7"/>
<circle cx="472.8" cy="310.4" r="4.9" fill="#bdbdbd" stroke="#a4a4a4" stroke-width="0.7"/>
<circle cx="473.9" cy="362.7" r="4.6" fill="#bdbdbd" stroke="#a4a4a4" stroke-width="0.7"/>
<circle cx="500.7" cy="318.4" r="4.3" fill="#bababa" stroke="#a4a4a4" stroke-width="0.7"/>
<circle cx="484.1" cy="371.7" r="5.5" fill="#cfcfcf" stroke="#a4a4a4" stroke-width="0.7"/>
<circle cx="484.7" cy="322.7" r="3.3" fill="#d4d4d4" stroke="#a4a4a4" stroke-width="0.7"/>
<circle cx="397.0" cy="339.8" r="3.0" fill="#bebebe" stroke="#a4a4a4" stroke-width="0.7"/>
<circle cx="450.6" cy="344.8" r="6.1" fill="#cecece" stroke="#a4a4a4" stroke-width="0.7"/>
<circle cx="504.2" cy="310.5" r="4.9" fill="#d4d4d4" stroke="#a4a4a4" stroke-width="0.7"/>
<circle cx="450.2" cy="328.0" r="5.2" fill="#bdbdbd" stroke="#a4a4a4" stroke-width="0.7"/>
<circle cx="478.0" cy="352.5" r="5.9" fill="#c9c9c9" stroke="#a4a4a4" stroke-width="0.7"/>
<circle cx="470.2" cy="336.0" r="5.1" fill="#c5c5c5" stroke="#a4a4a4" stroke-width="0.7"/>
<circle cx="516.2" cy="368.4" r="6.4" fill="#d5d5d5" stroke="#a4a4a4" stroke-width="0.7"/>
<circle cx="422.0" cy="323.3" r="3.4" fill="#d2d2d2" stroke="#a4a4a4" stroke-width="0.7"/>
<circle cx="388.8" cy="375.2" r="3.4" fill="#b8b8b8" stroke="#a4a4a4" stroke-width="0.7"/>
<circle cx="378.6" cy="324.1" r="5.8" fill="#bebebe" stroke="#a4a4a4" stroke-width="0.7"/>
<circle cx="459.6" cy="321.8" r="6.0" fill="#d1d1d1" stroke="#a4a4a4" stroke-width="0.7"/>
<circle cx="411.4" cy="328.4" r="3.2" fill="#c9c9c9" stroke="#a4a4a4" stroke-width="0.7"/>
<circle cx="407.1" cy="350.7" r="4.1" fill="#c7c7c7" stroke="#a4a4a4" stroke-width="0.7"/>
<circle cx="460.2" cy="348.1" r="4.6" fill="#d0d0d0" stroke="#a4a4a4" stroke-width="0.7"/>
<circle cx="462.2" cy="331.1" r="3.5" fill="#cecece" stroke="#a4a4a4" stroke-width="0.7"/>
<circle cx="419.8" cy="307.0" r="4.9" fill="#d4d4d4" stroke="#a4a4a4" stroke-width="0.7"/>
<circle cx="439.7" cy="370.5" r="4.9" fill="#c1c1c1" stroke="#a4a4a4" stroke-width="0.7"/>
<circle cx="492.7" cy="344.0" r="4.1" fill="#b9b9b9" stroke="#a4a4a4" stroke-width="0.7"/>
<circle cx="475.5" cy="327.2" r="3.3" fill="#cccccc" stroke="#a4a4a4" stroke-width="0.7"/>
<circle cx="381.1" cy="306.4" r="4.9" fill="#b9b9b9" stroke="#a4a4a4" stroke-width="0.7"/>
<circle cx="385.2" cy="366.8" r="3.6" fill="#c8c8c8" stroke="#a4a4a4" stroke-width="0.7"/>
<circle cx="444.9" cy="315.2" r="6.1" fill="#d1d1d1" stroke="#a4a4a4" stroke-width="0.7"/>
<circle cx="497.6" cy="356.2" r="4.7" fill="#c3c3c3" stroke="#a4a4a4" stroke-width="0.7"/>
<circle cx="401.9" cy="346.2" r="3.5" fill="#cacaca" stroke="#a4a4a4" stroke-width="0.7"/>
<circle cx="508.8" cy="359.5" r="6.5" fill="#bdbdbd" stroke="#a4a4a4" stroke-width="0.7"/>
<circle cx="448.5" cy="374.9" r="3.7" fill="#bcbcbc" stroke="#a4a4a4" stroke-width="0.7"/>
<circle cx="469.0" cy="378.6" r="4.9" fill="#cacaca" stroke="#a4a4a4" stroke-width="0.7"/>
<circle cx="468.4" cy="344.7" r="3.7" fill="#d1d1d1" stroke="#a4a4a4" stroke-width="0.7"/>
<circle cx="494.7" cy="364.7" r="5.0" fill="#d5d5d5" stroke="#a4a4a4" stroke-width="0.7"/>
<circle cx="437.8" cy="327.3" r="4.1" fill="#b8b8b8" stroke="#a4a4a4" stroke-width="0.7"/>
<circle cx="488.0" cy="353.9" r="5.3" fill="#d3d3d3" stroke="#a4a4a4" stroke-width="0.7"/>
<circle cx="435.5" cy="344.4" r="4.8" fill="#c7c7c7" stroke="#a4a4a4" stroke-width="0.7"/>
<circle cx="407.8" cy="365.5" r="6.4" fill="#c2c2c2" stroke="#a4a4a4" stroke-width="0.7"/>
<circle cx="489.4" cy="310.7" r="5.1" fill="#c3c3c3" stroke="#a4a4a4" stroke-width="0.7"/>
<circle cx="478.0" cy="318.0" r="3.2" fill="#c9c9c9" stroke="#a4a4a4" stroke-width="0.7"/>
<circle cx="374.3" cy="350.2" r="3.6" fill="#c2c2c2" stroke="#a4a4a4" stroke-width="0.7"/>
<circle cx="444.0" cy="350.4" r="3.5" fill="#bcbcbc" stroke="#a4a4a4" stroke-width="0.7"/>
<circle cx="383.7" cy="333.0" r="3.3" fill="#d1d1d1" stroke="#a4a4a4" stroke-width="0.7"/>
<circle cx="501.8" cy="375.6" r="4.6" fill="#cdcdcd" stroke="#a4a4a4" stroke-width="0.7"/>
<circle cx="465.4" cy="354.0" r="5.0" fill="#cacaca" stroke="#a4a4a4" stroke-width="0.7"/>
<circle cx="434.6" cy="379.0" r="4.9" fill="#cdcdcd" stroke="#a4a4a4" stroke-width="0.7"/>
<circle cx="402.7" cy="309.1" r="3.3" fill="#d5d5d5" stroke="#a4a4a4" stroke-width="0.7"/>
<circle cx="377.2" cy="357.3" r="3.5" fill="#bdbdbd" stroke="#a4a4a4" stroke-width="0.7"/>
<circle cx="455.5" cy="337.6" r="3.6" fill="#d0d0d0" stroke="#a4a4a4" stroke-width="0.7"/>
<circle cx="391.9" cy="360.1" r="3.7" fill="#d0d0d0" stroke="#a4a4a4" stroke-width="0.7"/>
<circle cx="516.4" cy="338.8" r="3.7" fill="#c2c2c2" stroke="#a4a4a4" stroke-width="0.7"/>
<circle cx="426.8" cy="332.3" r="3.4" fill="#c8c8c8" stroke="#a4a4a4" stroke-width="0.7"/>
<circle cx="405.8" cy="339.5" r="3.2" fill="#c5c5c5" stroke="#a4a4a4" stroke-width="0.7"/>
<circle cx="516.6" cy="330.6" r="3.3" fill="#bdbdbd" stroke="#a4a4a4" stroke-width="0.7"/>
<circle cx="410.7" cy="345.4" r="3.5" fill="#c4c4c4" stroke="#a4a4a4" stroke-width="0.7"/>
<circle cx="473.5" cy="370.5" r="3.2" fill="#bcbcbc" stroke="#a4a4a4" stroke-width="0.7"/>
<circle cx="515.8" cy="378.7" r="4.2" fill="#d3d3d3" stroke="#a4a4a4" stroke-width="0.7"/>
<circle cx="410.3" cy="375.4" r="5.4" fill="#bdbdbd" stroke="#a4a4a4" stroke-width="0.7"/>
<circle cx="516.8" cy="348.5" r="4.5" fill="#cbcbcb" stroke="#a4a4a4" stroke-width="0.7"/>
<circle cx="460.0" cy="380.9" r="5.8" fill="#c9c9c9" stroke="#a4a4a4" stroke-width="0.7"/>
<circle cx="464.5" cy="371.2" r="4.5" fill="#d5d5d5" stroke="#a4a4a4" stroke-width="0.7"/>
<circle cx="445.8" cy="359.9" r="4.0" fill="#cfcfcf" stroke="#a4a4a4" stroke-width="0.7"/>
<circle cx="453.7" cy="315.7" r="3.8" fill="#c2c2c2" stroke="#a4a4a4" stroke-width="0.7"/>
<circle cx="410.1" cy="306.3" r="5.1" fill="#c3c3c3" stroke="#a4a4a4" stroke-width="0.7"/>
<circle cx="428.1" cy="324.5" r="3.2" fill="#b9b9b9" stroke="#a4a4a4" stroke-width="0.7"/>
<circle cx="419.1" cy="363.9" r="3.6" fill="#b9b9b9" stroke="#a4a4a4" stroke-width="0.7"/>
<circle cx="487.3" cy="329.5" r="5.7" fill="#c1c1c1" stroke="#a4a4a4" stroke-width="0.7"/>
<circle cx="437.2" cy="319.6" r="4.8" fill="#d4d4d4" stroke="#a4a4a4" stroke-width="0.7"/>
<circle cx="428.6" cy="373.0" r="4.6" fill="#b9b9b9" stroke="#a4a4a4" stroke-width="0.7"/>
<circle cx="416.3" cy="320.1" r="3.6" fill="#bdbdbd" stroke="#a4a4a4" stroke-width="0.7"/>
<circle cx="390.2" cy="345.1" r="4.4" fill="#cbcbcb" stroke="#a4a4a4" stroke-width="0.7"/>
<circle cx="391.9" cy="370.0" r="3.2" fill="#c2c2c2" stroke="#a4a4a4" stroke-width="0.7"/>
<circle cx="422.4" cy="354.9" r="3.9" fill="#bdbdbd" stroke="#a4a4a4" stroke-width="0.7"/>
<circle cx="489.2" cy="379.3" r="4.6" fill="#d4d4d4" stroke="#a4a4a4" stroke-width="0.7"/>
<circle cx="421.2" cy="329.2" r="3.2" fill="#b9b9b9" stroke="#a4a4a4" stroke-width="0.7"/>
<circle cx="410.0" cy="319.9" r="3.9" fill="#c9c9c9" stroke="#a4a4a4" stroke-width="0.7"/>
<circle cx="408.2" cy="334.4" r="3.7" fill="#c4c4c4" stroke="#a4a4a4" stroke-width="0.7"/>
<circle cx="492.5" cy="322.9" r="4.5" fill="#c2c2c2" stroke="#a4a4a4" stroke-width="0.7"/>
<circle cx="398.8" cy="363.9" r="4.0" fill="#bdbdbd" stroke="#a4a4a4" stroke-width="0.7"/>
<circle cx="467.7" cy="326.0" r="4.6" fill="#bcbcbc" stroke="#a4a4a4" stroke-width="0.7"/>
<circle cx="484.2" cy="347.4" r="3.2" fill="#c4c4c4" stroke="#a4a4a4" stroke-width="0.7"/>
<circle cx="484.9" cy="362.2" r="5.2" fill="#cecece" stroke="#a4a4a4" stroke-width="0.7"/>
<circle cx="502.6" cy="328.1" r="4.6" fill="#c6c6c6" stroke="#a4a4a4" stroke-width="0.7"/>
<circle cx="473.2" cy="322.1" r="3.0" fill="#cfcfcf" stroke="#a4a4a4" stroke-width="0.7"/>
<circle cx="450.4" cy="353.2" r="3.4" fill="#d2d2d2" stroke="#a4a4a4" stroke-width="0.7"/>
<circle cx="371.7" cy="370.9" r="3.0" fill="#bdbdbd" stroke="#a4a4a4" stroke-width="0.7"/>
<circle cx="396.0" cy="306.1" r="4.4" fill="#d2d2d2" stroke="#a4a4a4" stroke-width="0.7"/>
<circle cx="486.8" cy="337.9" r="4.5" fill="#c9c9c9" stroke="#a4a4a4" stroke-width="0.7"/>
<circle cx="426.0" cy="343.4" r="3.7" fill="#c4c4c4" stroke="#a4a4a4" stroke-width="0.7"/>
<circle cx="438.2" cy="350.6" r="3.6" fill="#c7c7c7" stroke="#a4a4a4" stroke-width="0.7"/>
<circle cx="416.5" cy="349.4" r="3.4" fill="#d2d2d2" stroke="#a4a4a4" stroke-width="0.7"/>
<circle cx="505.8" cy="367.7" r="3.2" fill="#c3c3c3" stroke="#a4a4a4" stroke-width="0.7"/>
<circle cx="441.5" cy="306.0" r="4.3" fill="#bababa" stroke="#a4a4a4" stroke-width="0.7"/>
<circle cx="385.0" cy="320.0" r="3.6" fill="#d4d4d4" stroke="#a4a4a4" stroke-width="0.7"/>
<circle cx="476.0" cy="344.0" r="4.4" fill="#bbbbbb" stroke="#a4a4a4" stroke-width="0.7"/>
<circle cx="417.8" cy="378.5" r="4.7" fill="#bbbbbb" stroke="#a4a4a4" stroke-width="0.7"/>
<circle cx="388.8" cy="336.1" r="3.8" fill="#cdcdcd" stroke="#a4a4a4" stroke-width="0.7"/>
<circle cx="481.6" cy="310.9" r="4.3" fill="#c1c1c1" stroke="#a4a4a4" stroke-width="0.7"/>
<circle cx="500.8" cy="343.8" r="5.0" fill="#c0c0c0" stroke="#a4a4a4" stroke-width="0.7"/>
<circle cx="403.2" cy="356.9" r="4.9" fill="#cbcbcb" stroke="#a4a4a4" stroke-width="0.7"/>
<circle cx="371.1" cy="319.4" r="4.2" fill="#d2d2d2" stroke="#a4a4a4" stroke-width="0.7"/>
<circle cx="382.2" cy="372.1" r="3.2" fill="#c2c2c2" stroke="#a4a4a4" stroke-width="0.7"/>
<circle cx="385.0" cy="356.4" r="4.5" fill="#d3d3d3" stroke="#a4a4a4" stroke-width="0.7"/>
<circle cx="479.6" cy="379.9" r="5.3" fill="#cacaca" stroke="#a4a4a4" stroke-width="0.7"/>
<circle cx="512.7" cy="306.5" r="5.1" fill="#cacaca" stroke="#a4a4a4" stroke-width="0.7"/>
<circle cx="397.1" cy="333.5" r="4.2" fill="#c7c7c7" stroke="#a4a4a4" stroke-width="0.7"/>
<circle cx="397.4" cy="314.7" r="4.1" fill="#b8b8b8" stroke="#a4a4a4" stroke-width="0.7"/>
<circle cx="463.2" cy="340.0" r="4.9" fill="#bcbcbc" stroke="#a4a4a4" stroke-width="0.7"/>
<circle cx="433.2" cy="367.8" r="3.0" fill="#cccccc" stroke="#a4a4a4" stroke-width="0.7"/>
<circle cx="469.6" cy="317.2" r="3.7" fill="#cccccc" stroke="#a4a4a4" stroke-width="0.7"/>
<circle cx="450.3" cy="363.5" r="3.0" fill="#bababa" stroke="#a4a4a4" stroke-width="0.7"/>
<circle cx="456.2" cy="353.9" r="3.5" fill="#cbcbcb" stroke="#a4a4a4" stroke-width="0.7"/>
<circle cx="370.0" cy="380.8" r="6.4" fill="#c6c6c6" stroke="#a4a4a4" stroke-width="0.7"/>
<circle cx="380.9" cy="314.1" r="4.4" fill="#c9c9c9" stroke="#a4a4a4" stroke-width="0.7"/>
<circle cx="443.2" cy="379.2" r="4.3" fill="#c3c3c3" stroke="#a4a4a4" stroke-width="0.7"/>
<circle cx="404.2" cy="321.1" r="3.0" fill="#bebebe" stroke="#a4a4a4" stroke-width="0.7"/>
<circle cx="445.6" cy="336.0" r="3.2" fill="#c2c2c2" stroke="#a4a4a4" stroke-width="0.7"/>
<circle cx="394.2" cy="377.9" r="3.4" fill="#d5d5d5" stroke="#a4a4a4" stroke-width="0.7"/>
<circle cx="425.3" cy="379.7" r="3.5" fill="#bdbdbd" stroke="#a4a4a4" stroke-width="0.7"/>
<circle cx="496.6" cy="306.9" r="4.4" fill="#d1d1d1" stroke="#a4a4a4" stroke-width="0.7"/>
<circle cx="496.6" cy="378.9" r="3.0" fill="#c7c7c7" stroke="#a4a4a4" stroke-width="0.7"/>
<circle cx="445.7" cy="368.0" r="3.1" fill="#bababa" stroke="#a4a4a4" stroke-width="0.7"/>
<circle cx="414.3" cy="313.9" r="3.0" fill="#d0d0d0" stroke="#a4a4a4" stroke-width="0.7"/>
<circle cx="420.3" cy="345.5" r="3.1" fill="#b8b8b8" stroke="#a4a4a4" stroke-width="0.7"/>
<circle cx="371.3" cy="356.5" r="3.8" fill="#d1d1d1" stroke="#a4a4a4" stroke-width="0.7"/>
<circle cx="493.4" cy="316.3" r="3.4" fill="#c2c2c2" stroke="#a4a4a4" stroke-width="0.7"/>
<circle cx="466.3" cy="364.1" r="3.2" fill="#d3d3d3" stroke="#a4a4a4" stroke-width="0.7"/>
<circle cx="397.8" cy="321.4" r="3.3" fill="#cdcdcd" stroke="#a4a4a4" stroke-width="0.7"/>
<circle cx="476.3" cy="332.4" r="3.0" fill="#c2c2c2" stroke="#a4a4a4" stroke-width="0.7"/>
<circle cx="508.8" cy="343.5" r="3.0" fill="#cacaca" stroke="#a4a4a4" stroke-width="0.7"/>
<circle cx="403.2" cy="379.5" r="3.9" fill="#d5d5d5" stroke="#a4a4a4" stroke-width="0.7"/>
<circle cx="510.8" cy="331.3" r="3.7" fill="#bdbdbd" stroke="#a4a4a4" stroke-width="0.7"/>
<circle cx="492.9" cy="372.0" r="3.0" fill="#bebebe" stroke="#a4a4a4" stroke-width="0.7"/>
<circle cx="443.1" cy="322.9" r="3.0" fill="#c0c0c0" stroke="#a4a4a4" stroke-width="0.7"/>
<circle cx="382.8" cy="338.9" r="3.2" fill="#d0d0d0" stroke="#a4a4a4" stroke-width="0.7"/>
<circle cx="432.9" cy="354.1" r="3.3" fill="#bfbfbf" stroke="#a4a4a4" stroke-width="0.7"/>
<circle cx="430.0" cy="337.5" r="3.5" fill="#bfbfbf" stroke="#a4a4a4" stroke-width="0.7"/>
<circle cx="385.5" cy="327.6" r="3.5" fill="#cacaca" stroke="#a4a4a4" stroke-width="0.7"/>
<circle cx="509.8" cy="314.7" r="3.5" fill="#c9c9c9" stroke="#a4a4a4" stroke-width="0.7"/>
<circle cx="479.2" cy="366.8" r="3.2" fill="#c4c4c4" stroke="#a4a4a4" stroke-width="0.7"/>
<circle cx="385.3" cy="379.9" r="3.8" fill="#c8c8c8" stroke="#a4a4a4" stroke-width="0.7"/>
<circle cx="500.9" cy="362.0" r="3.1" fill="#b8b8b8" stroke="#a4a4a4" stroke-width="0.7"/>
<circle cx="516.5" cy="356.4" r="3.4" fill="#b8b8b8" stroke="#a4a4a4" stroke-width="0.7"/>
<circle cx="485.1" cy="315.7" r="3.0" fill="#b8b8b8" stroke="#a4a4a4" stroke-width="0.7"/>
<circle cx="415.8" cy="370.2" r="3.1" fill="#b9b9b9" stroke="#a4a4a4" stroke-width="0.7"/>
<circle cx="507.9" cy="373.0" r="3.1" fill="#cfcfcf" stroke="#a4a4a4" stroke-width="0.7"/>
<circle cx="443.1" cy="343.3" r="3.0" fill="#d5d5d5" stroke="#a4a4a4" stroke-width="0.7"/>
<circle cx="377.2" cy="370.9" r="3.3" fill="#bbbbbb" stroke="#a4a4a4" stroke-width="0.7"/>
<circle cx="463.6" cy="306.5" r="3.2" fill="#c3c3c3" stroke="#a4a4a4" stroke-width="0.7"/>
<circle cx="371.8" cy="327.9" r="3.8" fill="#b8b8b8" stroke="#a4a4a4" stroke-width="0.7"/>
<circle cx="457.3" cy="329.5" r="3.0" fill="#c5c5c5" stroke="#a4a4a4" stroke-width="0.7"/>
<circle cx="471.4" cy="356.7" r="3.2" fill="#cbcbcb" stroke="#a4a4a4" stroke-width="0.7"/>
<circle cx="432.2" cy="329.9" r="3.6" fill="#cacaca" stroke="#a4a4a4" stroke-width="0.7"/>
<circle cx="495.8" cy="349.3" r="3.2" fill="#d3d3d3" stroke="#a4a4a4" stroke-width="0.7"/></g>
<path d="M373.0,260.5 L515.0,260.5 L520.2,314.8 L519.7,313.7 L518.2,312.8 L516.1,312.5 L514.1,312.8 L512.6,313.7 L512.0,314.8 L512.0,315.2 L511.5,314.3 L510.3,313.6 L508.6,313.4 L506.9,313.6 L505.7,314.3 L505.3,315.2 L505.3,315.1 L504.5,313.6 L502.5,312.5 L499.8,312.1 L497.1,312.5 L495.1,313.6 L494.4,315.1 L494.4,314.0 L494.0,313.2 L492.8,312.6 L491.2,312.3 L489.7,312.6 L488.5,313.2 L488.1,314.0 L488.1,315.1 L487.8,314.4 L486.9,313.9 L485.6,313.7 L484.4,313.9 L483.4,314.4 L483.1,315.1 L483.1,313.9 L482.5,312.7 L480.9,311.8 L478.7,311.5 L476.6,311.8 L475.0,312.7 L474.4,313.9 L474.4,313.9 L473.7,312.6 L472.0,311.6 L469.5,311.2 L467.1,311.6 L465.3,312.6 L464.6,313.9 L464.6,314.0 L464.0,312.6 L462.2,311.7 L459.8,311.3 L457.4,311.7 L455.7,312.6 L455.0,314.0 L455.0,315.2 L454.6,314.2 L453.4,313.6 L451.7,313.3 L450.0,313.6 L448.8,314.2 L448.3,315.2 L448.3,314.0 L448.0,313.3 L447.1,312.8 L445.8,312.7 L444.5,312.8 L443.6,313.3 L443.3,314.0 L443.3,314.6 L442.7,313.5 L441.2,312.7 L439.1,312.3 L437.1,312.7 L435.6,313.5 L435.0,314.6 L435.0,314.1 L434.5,313.0 L433.0,312.2 L431.1,311.9 L429.1,312.2 L427.7,313.0 L427.2,314.1 L427.2,313.9 L426.5,312.5 L424.6,311.4 L422.0,311.0 L419.4,311.4 L417.5,312.5 L416.8,313.9 L416.8,314.7 L416.1,313.3 L414.1,312.2 L411.5,311.8 L408.8,312.2 L406.8,313.3 L406.1,314.7 L406.1,314.4 L405.8,313.7 L404.8,313.2 L403.5,313.0 L402.2,313.2 L401.3,313.7 L400.9,314.4 L400.9,315.2 L400.3,313.9 L398.6,312.9 L396.2,312.6 L393.9,312.9 L392.1,313.9 L391.5,315.2 L391.5,315.2 L390.9,313.9 L389.1,312.9 L386.6,312.5 L384.2,312.9 L382.4,313.9 L381.7,315.2 L381.7,314.9 L381.2,313.7 L379.6,312.8 L377.4,312.5 L375.2,312.8 L373.6,313.7 L373.0,314.9 Z" fill="#3b3b3b" />
</g>
<g clip-path="url(#pG)">
<rect x="523.5" y="260.5" width="142" height="115.5" fill="#060806" />
<rect x="523.5" y="260.5" width="142" height="56" fill="#000" filter="url(#spGd)"/>
<clipPath id="gG2"><path d="M523.5,314.5 L526.5,315.9 L529.5,314.3 L532.5,315.4 L535.5,314.2 L538.5,314.5 L541.5,316.0 L544.5,314.4 L547.5,315.3 L550.5,314.9 L553.5,314.9 L556.5,315.0 L559.5,314.4 L562.5,315.7 L565.5,314.2 L568.5,314.5 L571.5,314.0 L574.5,314.5 L577.5,314.8 L580.5,315.8 L583.5,314.8 L586.5,314.2 L589.5,314.5 L592.5,316.0 L595.5,314.1 L598.5,315.2 L601.5,314.8 L604.5,315.3 L607.5,314.7 L610.5,315.4 L613.5,315.0 L616.5,315.3 L619.5,315.8 L622.5,315.2 L625.5,314.3 L628.5,314.1 L631.5,315.9 L634.5,315.0 L637.5,314.4 L640.5,315.9 L643.5,315.2 L646.5,315.5 L649.5,315.8 L652.5,314.6 L655.5,314.7 L658.5,315.8 L661.5,314.3 L664.5,315.5 L665.5,376 L523.5,376 Z"/></clipPath>
<g clip-path="url(#gG2)">
<rect x="523.5" y="310" width="142" height="66" fill="#17662c" />
<rect x="523.5" y="310" width="142" height="66" fill="#000" filter="url(#spG)"/>
<rect x="523.5" y="310" width="142" height="66" fill="#000" filter="url(#spGb)"/>
</g>
</g>
<linearGradient id="hgr" x1="0" y1="0" x2="0" y2="1"><stop offset="0" stop-color="#fff"/><stop offset="0.42" stop-color="#fff"/><stop offset="0.62" stop-color="#000"/><stop offset="1" stop-color="#000"/></linearGradient>
<mask id="hmask"><rect x="373" y="380" width="142" height="116" fill="url(#hgr)"/></mask>
<g clip-path="url(#pH)">
<rect x="373" y="380" width="142" height="116" fill="#091110" />
<rect x="373" y="380" width="142" height="116" fill="#000" filter="url(#spCd)"/>
<g mask="url(#hmask)">
<rect x="373" y="380" width="142" height="116" fill="#0e2221" />
<rect x="373" y="380" width="142" height="116" fill="#000" filter="url(#spC)"/>
</g>
</g>
<g clip-path="url(#pI)">
<rect x="523.5" y="380" width="142" height="116" fill="#170d06" />
<rect x="523.5" y="380" width="142" height="52" fill="#000" filter="url(#spOd)"/>
<clipPath id="gI2"><path d="M523.5,430.9 L526.5,430.7 L529.5,430.3 L532.5,431.7 L535.5,430.0 L538.5,431.0 L541.5,431.8 L544.5,430.2 L547.5,431.1 L550.5,431.2 L553.5,430.1 L556.5,430.8 L559.5,431.4 L562.5,430.9 L565.5,431.5 L568.5,430.3 L571.5,430.5 L574.5,430.2 L577.5,431.0 L580.5,431.8 L583.5,431.2 L586.5,431.5 L589.5,430.8 L592.5,431.5 L595.5,430.2 L598.5,430.6 L601.5,431.3 L604.5,431.5 L607.5,430.8 L610.5,430.2 L613.5,430.5 L616.5,430.4 L619.5,430.6 L622.5,431.6 L625.5,430.4 L628.5,431.8 L631.5,431.8 L634.5,430.1 L637.5,430.8 L640.5,431.0 L643.5,430.0 L646.5,430.8 L649.5,431.8 L652.5,430.2 L655.5,431.2 L658.5,430.2 L661.5,431.2 L664.5,431.8 L665.5,496 L523.5,496 Z"/></clipPath>
<g clip-path="url(#gI2)">
<rect x="523.5" y="428" width="142" height="68" fill="#4a260c" />
<rect x="523.5" y="428" width="142" height="68" fill="#000" filter="url(#spO)"/>
<rect x="523.5" y="428" width="142" height="68" fill="#000" filter="url(#spOb)"/>
</g>
</g>
<clipPath id="cTopD"><rect x="140" y="270" width="60" height="37"/></clipPath><clipPath id="cBotD"><rect x="140" y="307" width="60" height="30"/></clipPath>
<circle cx="165.5" cy="303.5" r="18.8" fill="none" stroke="#e6e27a" stroke-width="1.7" stroke-dasharray="4.5 3" clip-path="url(#cTopD)"/>
<circle cx="165.5" cy="303.5" r="18.8" fill="none" stroke="#d6dc8c" stroke-width="2" stroke-dasharray="4.5 3" opacity="0.6" clip-path="url(#cBotD)"/>
<path d="M159.5,322 L145,388" fill="none" stroke="#d6dc8c" stroke-width="2.4" stroke-dasharray="4 2" opacity="0.75"/>
<path d="M141.5,387 L147,388.2 L143.3,394 Z" fill="#e6e27a"/>
<circle cx="227.5" cy="306.7" r="19.3" fill="none" stroke="#e6e27a" stroke-width="1.6" stroke-dasharray="4.5 3"/>
<path d="M230.5,326 L242.3,403" fill="none" stroke="#e6e27a" stroke-width="1.8" stroke-dasharray="3.5 2.5" opacity="0.8"/>
<path d="M239.6,403.2 L245.1,402.4 L243.2,409.6 Z" fill="#e6e27a"/>
<text x="14" y="275.5" font-size="16" font-weight="bold" fill="#222" font-family="Liberation Sans, Arial, sans-serif" >(d)</text>
<text x="113" y="292.2" font-size="13.5" font-weight="bold" fill="#e6e27c" font-family="Liberation Sans, Arial, sans-serif" >Li</text>
<text x="96.2" y="345.4" font-size="13.5" font-weight="bold" fill="#111" font-family="Liberation Sans, Arial, sans-serif" >LLZTO</text>
<text x="161.6" y="361.4" font-size="10" font-weight="bold" fill="#111" font-family="Liberation Serif, Times New Roman, serif" >50 μm</text>
<rect x="162" y="365.1" width="26.3" height="1.8" fill="#111" />
<text x="122.8" y="417" font-size="16.5" font-weight="bold" fill="#e6e27c" font-family="Liberation Sans, Arial, sans-serif" >gap</text>
<text x="156.5" y="480" font-size="10" font-weight="bold" fill="#111" font-family="Liberation Serif, Times New Roman, serif" >10 μm</text>
<rect x="160.8" y="485.6" width="25.8" height="1.9" fill="#111" />
<text x="212" y="276.5" font-size="16" font-weight="bold" fill="#eee" font-family="Liberation Sans, Arial, sans-serif" >(e)</text>
<text x="264" y="292.2" font-size="14.5" font-weight="bold" fill="#e6e27c" font-family="Liberation Sans, Arial, sans-serif" >Li-Si-N</text>
<text x="264.8" y="345.8" font-size="13.5" font-weight="bold" fill="#111" font-family="Liberation Sans, Arial, sans-serif" >LLZTO</text>
<text x="326" y="361" font-size="10" font-weight="bold" fill="#111" font-family="Liberation Serif, Times New Roman, serif" >50 μm</text>
<rect x="328.4" y="365.2" width="25.2" height="1.9" fill="#111" />
<text x="232.3" y="424.7" font-size="16" font-weight="bold" fill="#e6e27c" font-family="Liberation Sans, Arial, sans-serif" >Intimate contact</text>
<text x="327" y="481" font-size="10" font-weight="bold" fill="#111" font-family="Liberation Serif, Times New Roman, serif" >10 μm</text>
<rect x="328.4" y="485.9" width="26.2" height="1.9" fill="#111" />
<text x="378.6" y="276.5" font-size="16" font-weight="bold" fill="#eee" font-family="Liberation Sans, Arial, sans-serif" >(f)</text>
<text x="426" y="292.2" font-size="14.5" font-weight="bold" fill="#e6e27c" font-family="Liberation Sans, Arial, sans-serif" >Li-Si-N</text>
<text x="428.3" y="345.5" font-size="13.5" font-weight="bold" fill="#111" font-family="Liberation Sans, Arial, sans-serif" >LLZTO</text>
<text x="481.2" y="360.7" font-size="10" font-weight="bold" fill="#111" font-family="Liberation Serif, Times New Roman, serif" >20 μm</text>
<rect x="482" y="365.4" width="28.6" height="1.9" fill="#111" />
<text x="529" y="276.6" font-size="16" font-weight="bold" fill="#eee" font-family="Liberation Sans, Arial, sans-serif" >(g)</text>
<text x="640.8" y="278.7" font-size="13.5" font-weight="bold" fill="#eee" font-family="Liberation Sans, Arial, sans-serif" >La</text>
<text x="378" y="396.2" font-size="16" font-weight="bold" fill="#eee" font-family="Liberation Sans, Arial, sans-serif" >(h)</text>
<text x="493.5" y="398.7" font-size="13.5" font-weight="bold" fill="#eee" font-family="Liberation Sans, Arial, sans-serif" >N</text>
<text x="529" y="396.2" font-size="16" font-weight="bold" fill="#eee" font-family="Liberation Sans, Arial, sans-serif" >(i)</text>
<text x="641.5" y="397.9" font-size="13.5" font-weight="bold" fill="#eee" font-family="Liberation Sans, Arial, sans-serif" >Ta</text>
<g>
<ellipse cx="525.5" cy="469.2" rx="5" ry="4.3" fill="#f4f4f4" stroke="#8a8a8a" stroke-width="0.8"/>
<ellipse cx="531" cy="478.2" rx="7.6" ry="6.4" fill="#f2f2f2" stroke="#7a7a7a" stroke-width="0.8"/>
<path d="M517,480.3 L523.5,480.3" stroke="#555" stroke-width="0.8"/>
<circle cx="527.3" cy="475.8" r="1.1" fill="#222"/><circle cx="533.2" cy="475.8" r="1.1" fill="#444"/><circle cx="523.8" cy="468.3" r="0.8" fill="#444"/><circle cx="527.2" cy="468.3" r="0.8" fill="#444"/>
</g>
<text x="543.7" y="482.4" font-size="16.7" font-weight="normal" fill="#ececec" font-family="Liberation Sans, Noto Sans CJK SC, sans-serif" stroke="#3a2a20" stroke-width="0.5" paint-order="stroke">材料科学与工程</text>
<text x="593.6" y="506.9" font-size="26.4" font-weight="normal" fill="#ffffff" font-family="Liberation Sans, Noto Sans CJK SC, sans-serif" stroke="#fff" stroke-width="0.6">上海谓</text></svg>
</body></html>
